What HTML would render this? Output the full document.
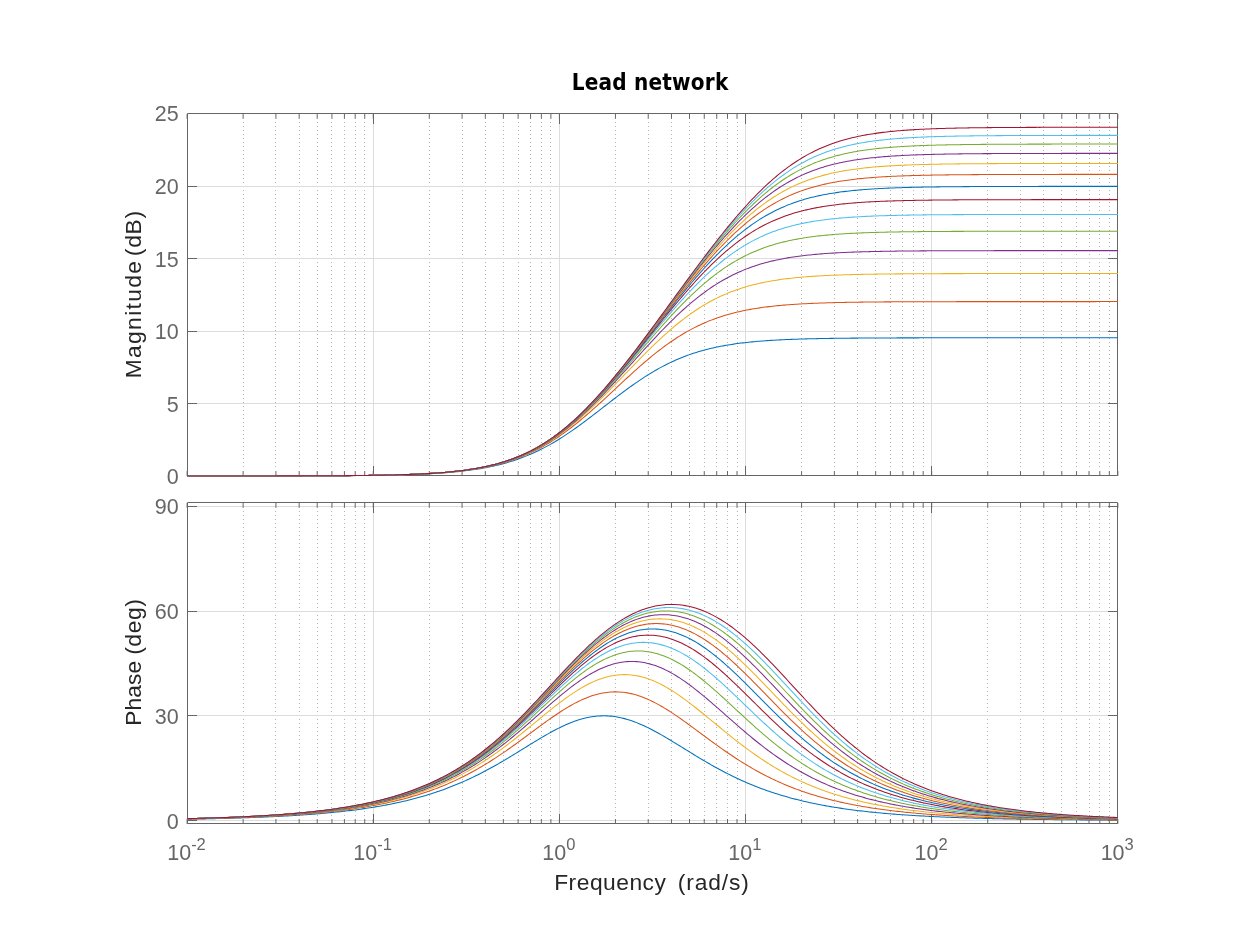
<!DOCTYPE html>
<html lang="en"><head><meta charset="utf-8"><title>Lead network</title>
<style>html,body{margin:0;padding:0;background:#fff;overflow:hidden}svg{display:block}</style></head>
<body>
<svg width="1235" height="926" viewBox="0 0 1235 926" font-family="'Liberation Sans', sans-serif">
<rect width="1235" height="926" fill="#ffffff"/>
<defs>
<clipPath id="ct"><rect x="187.1" y="113.35" width="931.25" height="363.4"/></clipPath>
<clipPath id="cb"><rect x="187.1" y="502.35" width="931.25" height="322.4"/></clipPath>
</defs>
<path d="M243.5 122V470M275.5 122V470M299.5 122V470M317.5 122V470M331.5 122V470M344.5 122V470M355.5 122V470M364.5 122V470M429.5 122V470M462.5 122V470M485.5 122V470M503.5 122V470M518.5 122V470M530.5 122V470M541.5 122V470M550.5 122V470M615.5 122V470M648.5 122V470M671.5 122V470M689.5 122V470M704.5 122V470M716.5 122V470M727.5 122V470M737.5 122V470M801.5 122V470M834.5 122V470M857.5 122V470M875.5 122V470M890.5 122V470M902.5 122V470M913.5 122V470M923.5 122V470M987.5 122V470M1020.5 122V470M1043.5 122V470M1061.5 122V470M1076.5 122V470M1089.5 122V470M1099.5 122V470M1109.5 122V470" fill="none" stroke="#b4b4b4" stroke-width="1" stroke-dasharray="1 3"/>
<path d="M373.5 113.5V475.5M559.5 113.5V475.5M745.5 113.5V475.5M931.5 113.5V475.5M187.5 403.5H1117.5M187.5 331.5H1117.5M187.5 258.5H1117.5M187.5 186.5H1117.5" fill="none" stroke="#dcdcdc" stroke-width="1"/>
<path d="M187.1 475.95v-4.9M187.1 113.95v4.9M243.14 475.95v-4.9M243.14 113.95v4.9M275.92 475.95v-4.9M275.92 113.95v4.9M299.17 475.95v-4.9M299.17 113.95v4.9M317.21 475.95v-4.9M317.21 113.95v4.9M331.95 475.95v-4.9M331.95 113.95v4.9M344.42 475.95v-4.9M344.42 113.95v4.9M355.21 475.95v-4.9M355.21 113.95v4.9M364.73 475.95v-4.9M364.73 113.95v4.9M373.25 475.95v-4.9M373.25 113.95v4.9M429.29 475.95v-4.9M429.29 113.95v4.9M462.07 475.95v-4.9M462.07 113.95v4.9M485.32 475.95v-4.9M485.32 113.95v4.9M503.36 475.95v-4.9M503.36 113.95v4.9M518.1 475.95v-4.9M518.1 113.95v4.9M530.57 475.95v-4.9M530.57 113.95v4.9M541.36 475.95v-4.9M541.36 113.95v4.9M550.88 475.95v-4.9M550.88 113.95v4.9M559.4 475.95v-4.9M559.4 113.95v4.9M615.44 475.95v-4.9M615.44 113.95v4.9M648.22 475.95v-4.9M648.22 113.95v4.9M671.47 475.95v-4.9M671.47 113.95v4.9M689.51 475.95v-4.9M689.51 113.95v4.9M704.25 475.95v-4.9M704.25 113.95v4.9M716.72 475.95v-4.9M716.72 113.95v4.9M727.51 475.95v-4.9M727.51 113.95v4.9M737.03 475.95v-4.9M737.03 113.95v4.9M745.55 475.95v-4.9M745.55 113.95v4.9M801.59 475.95v-4.9M801.59 113.95v4.9M834.37 475.95v-4.9M834.37 113.95v4.9M857.62 475.95v-4.9M857.62 113.95v4.9M875.66 475.95v-4.9M875.66 113.95v4.9M890.4 475.95v-4.9M890.4 113.95v4.9M902.87 475.95v-4.9M902.87 113.95v4.9M913.66 475.95v-4.9M913.66 113.95v4.9M923.18 475.95v-4.9M923.18 113.95v4.9M931.7 475.95v-4.9M931.7 113.95v4.9M987.74 475.95v-4.9M987.74 113.95v4.9M1020.52 475.95v-4.9M1020.52 113.95v4.9M1043.77 475.95v-4.9M1043.77 113.95v4.9M1061.81 475.95v-4.9M1061.81 113.95v4.9M1076.55 475.95v-4.9M1076.55 113.95v4.9M1089.02 475.95v-4.9M1089.02 113.95v4.9M1099.81 475.95v-4.9M1099.81 113.95v4.9M1109.33 475.95v-4.9M1109.33 113.95v4.9M1117.85 475.95v-4.9M1117.85 113.95v4.9" fill="none" stroke="#666666" stroke-width="1"/>
<path d="M373.5 475.5V466M373.5 113.5V124M559.5 475.5V466M559.5 113.5V124M745.5 475.5V466M745.5 113.5V124M931.5 475.5V466M931.5 113.5V124M187.5 403.5H197M1117.5 403.5H1108M187.5 331.5H197M1117.5 331.5H1108M187.5 258.5H197M1117.5 258.5H1108M187.5 186.5H197M1117.5 186.5H1108M187.5 113.5H1117.5V475.5H187.5Z" fill="none" stroke="#666666" stroke-width="1"/>
<g clip-path="url(#ct)" fill="none" stroke-width="1.05" stroke-linejoin="round">
<polyline stroke="#0072BD" points="187.1,475.94 188.97,475.94 190.83,475.94 192.7,475.94 194.56,475.94 196.43,475.94 198.29,475.94 200.16,475.94 202.02,475.94 203.89,475.94 205.75,475.94 207.62,475.94 209.48,475.94 211.35,475.94 213.21,475.94 215.08,475.94 216.94,475.94 218.81,475.94 220.67,475.94 222.54,475.94 224.4,475.94 226.27,475.94 228.14,475.93 230,475.93 231.87,475.93 233.73,475.93 235.6,475.93 237.46,475.93 239.33,475.93 241.19,475.93 243.06,475.93 244.92,475.93 246.79,475.93 248.65,475.92 250.52,475.92 252.38,475.92 254.25,475.92 256.11,475.92 257.98,475.92 259.84,475.92 261.71,475.91 263.57,475.91 265.44,475.91 267.3,475.91 269.17,475.91 271.04,475.91 272.9,475.9 274.77,475.9 276.63,475.9 278.5,475.9 280.36,475.89 282.23,475.89 284.09,475.89 285.96,475.89 287.82,475.88 289.69,475.88 291.55,475.88 293.42,475.87 295.28,475.87 297.15,475.87 299.01,475.86 300.88,475.86 302.74,475.85 304.61,475.85 306.47,475.84 308.34,475.84 310.21,475.83 312.07,475.83 313.94,475.82 315.8,475.82 317.67,475.81 319.53,475.8 321.4,475.8 323.26,475.79 325.13,475.78 326.99,475.77 328.86,475.76 330.72,475.76 332.59,475.75 334.45,475.74 336.32,475.73 338.18,475.72 340.05,475.7 341.91,475.69 343.78,475.68 345.64,475.67 347.51,475.66 349.38,475.64 351.24,475.63 353.11,475.61 354.97,475.6 356.84,475.58 358.7,475.56 360.57,475.54 362.43,475.52 364.3,475.5 366.16,475.48 368.03,475.46 369.89,475.44 371.76,475.41 373.62,475.39 375.49,475.36 377.35,475.34 379.22,475.31 381.08,475.28 382.95,475.24 384.81,475.21 386.68,475.18 388.54,475.14 390.41,475.1 392.28,475.06 394.14,475.02 396.01,474.98 397.87,474.93 399.74,474.88 401.6,474.84 403.47,474.78 405.33,474.73 407.2,474.67 409.06,474.61 410.93,474.55 412.79,474.48 414.66,474.42 416.52,474.35 418.39,474.27 420.25,474.19 422.12,474.11 423.98,474.03 425.85,473.94 427.71,473.84 429.58,473.75 431.45,473.65 433.31,473.54 435.18,473.43 437.04,473.31 438.91,473.19 440.77,473.06 442.64,472.93 444.5,472.79 446.37,472.65 448.23,472.5 450.1,472.34 451.96,472.18 453.83,472.01 455.69,471.83 457.56,471.64 459.42,471.45 461.29,471.24 463.15,471.03 465.02,470.81 466.88,470.58 468.75,470.34 470.62,470.09 472.48,469.83 474.35,469.56 476.21,469.28 478.08,468.98 479.94,468.68 481.81,468.36 483.67,468.03 485.54,467.68 487.4,467.33 489.27,466.95 491.13,466.57 493,466.17 494.86,465.75 496.73,465.32 498.59,464.87 500.46,464.4 502.32,463.92 504.19,463.42 506.05,462.9 507.92,462.36 509.78,461.8 511.65,461.23 513.52,460.63 515.38,460.02 517.25,459.38 519.11,458.72 520.98,458.04 522.84,457.34 524.71,456.62 526.57,455.88 528.44,455.11 530.3,454.32 532.17,453.51 534.03,452.67 535.9,451.81 537.76,450.93 539.63,450.02 541.49,449.09 543.36,448.14 545.22,447.16 547.09,446.16 548.95,445.14 550.82,444.09 552.69,443.02 554.55,441.93 556.42,440.82 558.28,439.68 560.15,438.52 562.01,437.34 563.88,436.14 565.74,434.92 567.61,433.68 569.47,432.42 571.34,431.14 573.2,429.85 575.07,428.53 576.93,427.21 578.8,425.86 580.66,424.5 582.53,423.13 584.39,421.75 586.26,420.35 588.12,418.95 589.99,417.53 591.86,416.11 593.72,414.68 595.59,413.24 597.45,411.8 599.32,410.35 601.18,408.91 603.05,407.46 604.91,406 606.78,404.55 608.64,403.11 610.51,401.66 612.37,400.22 614.24,398.78 616.1,397.35 617.97,395.93 619.83,394.52 621.7,393.11 623.56,391.72 625.43,390.34 627.29,388.97 629.16,387.62 631.02,386.28 632.89,384.95 634.76,383.64 636.62,382.35 638.49,381.07 640.35,379.82 642.22,378.58 644.08,377.36 645.95,376.17 647.81,374.99 649.68,373.84 651.54,372.7 653.41,371.59 655.27,370.5 657.14,369.44 659,368.4 660.87,367.38 662.73,366.38 664.6,365.41 666.46,364.46 668.33,363.53 670.19,362.63 672.06,361.75 673.93,360.9 675.79,360.07 677.66,359.26 679.52,358.47 681.39,357.71 683.25,356.97 685.12,356.25 686.98,355.56 688.85,354.88 690.71,354.23 692.58,353.6 694.44,352.98 696.31,352.39 698.17,351.82 700.04,351.27 701.9,350.73 703.77,350.22 705.63,349.72 707.5,349.24 709.36,348.78 711.23,348.33 713.09,347.9 714.96,347.48 716.83,347.09 718.69,346.7 720.56,346.33 722.42,345.98 724.29,345.64 726.15,345.31 728.02,344.99 729.88,344.69 731.75,344.4 733.61,344.11 735.48,343.85 737.34,343.59 739.21,343.34 741.07,343.1 742.94,342.87 744.8,342.65 746.67,342.44 748.53,342.24 750.4,342.05 752.26,341.86 754.13,341.69 756,341.52 757.86,341.35 759.73,341.2 761.59,341.05 763.46,340.91 765.32,340.77 767.19,340.64 769.05,340.51 770.92,340.39 772.78,340.28 774.65,340.17 776.51,340.06 778.38,339.96 780.24,339.86 782.11,339.77 783.97,339.68 785.84,339.6 787.7,339.52 789.57,339.44 791.43,339.37 793.3,339.3 795.17,339.23 797.03,339.16 798.9,339.1 800.76,339.04 802.63,338.99 804.49,338.93 806.36,338.88 808.22,338.83 810.09,338.78 811.95,338.74 813.82,338.7 815.68,338.66 817.55,338.62 819.41,338.58 821.28,338.54 823.14,338.51 825.01,338.48 826.87,338.44 828.74,338.41 830.6,338.39 832.47,338.36 834.33,338.33 836.2,338.31 838.07,338.28 839.93,338.26 841.8,338.24 843.66,338.22 845.53,338.2 847.39,338.18 849.26,338.16 851.12,338.14 852.99,338.13 854.85,338.11 856.72,338.1 858.58,338.08 860.45,338.07 862.31,338.05 864.18,338.04 866.04,338.03 867.91,338.02 869.77,338.01 871.64,338 873.5,337.99 875.37,337.98 877.24,337.97 879.1,337.96 880.97,337.95 882.83,337.94 884.7,337.94 886.56,337.93 888.43,337.92 890.29,337.92 892.16,337.91 894.02,337.9 895.89,337.9 897.75,337.89 899.62,337.89 901.48,337.88 903.35,337.88 905.21,337.87 907.08,337.87 908.94,337.86 910.81,337.86 912.67,337.86 914.54,337.85 916.41,337.85 918.27,337.85 920.14,337.84 922,337.84 923.87,337.84 925.73,337.83 927.6,337.83 929.46,337.83 931.33,337.83 933.19,337.82 935.06,337.82 936.92,337.82 938.79,337.82 940.65,337.82 942.52,337.81 944.38,337.81 946.25,337.81 948.11,337.81 949.98,337.81 951.84,337.81 953.71,337.8 955.57,337.8 957.44,337.8 959.31,337.8 961.17,337.8 963.04,337.8 964.9,337.8 966.77,337.8 968.63,337.8 970.5,337.79 972.36,337.79 974.23,337.79 976.09,337.79 977.96,337.79 979.82,337.79 981.69,337.79 983.55,337.79 985.42,337.79 987.28,337.79 989.15,337.79 991.01,337.79 992.88,337.79 994.74,337.79 996.61,337.79 998.48,337.79 1000.34,337.78 1002.21,337.78 1004.07,337.78 1005.94,337.78 1007.8,337.78 1009.67,337.78 1011.53,337.78 1013.4,337.78 1015.26,337.78 1017.13,337.78 1018.99,337.78 1020.86,337.78 1022.72,337.78 1024.59,337.78 1026.45,337.78 1028.32,337.78 1030.18,337.78 1032.05,337.78 1033.91,337.78 1035.78,337.78 1037.65,337.78 1039.51,337.78 1041.38,337.78 1043.24,337.78 1045.11,337.78 1046.97,337.78 1048.84,337.78 1050.7,337.78 1052.57,337.78 1054.43,337.78 1056.3,337.78 1058.16,337.78 1060.03,337.78 1061.89,337.78 1063.76,337.78 1065.62,337.78 1067.49,337.78 1069.35,337.78 1071.22,337.78 1073.08,337.78 1074.95,337.78 1076.81,337.78 1078.68,337.78 1080.55,337.78 1082.41,337.78 1084.28,337.78 1086.14,337.78 1088.01,337.78 1089.87,337.78 1091.74,337.78 1093.6,337.78 1095.47,337.78 1097.33,337.78 1099.2,337.78 1101.06,337.78 1102.93,337.78 1104.79,337.78 1106.66,337.78 1108.52,337.78 1110.39,337.78 1112.25,337.78 1114.12,337.78 1115.98,337.78 1117.85,337.78"/>
<polyline stroke="#D95319" points="187.1,475.94 188.97,475.94 190.83,475.94 192.7,475.94 194.56,475.94 196.43,475.94 198.29,475.94 200.16,475.94 202.02,475.94 203.89,475.94 205.75,475.94 207.62,475.94 209.48,475.94 211.35,475.94 213.21,475.94 215.08,475.94 216.94,475.94 218.81,475.94 220.67,475.94 222.54,475.94 224.4,475.94 226.27,475.93 228.14,475.93 230,475.93 231.87,475.93 233.73,475.93 235.6,475.93 237.46,475.93 239.33,475.93 241.19,475.93 243.06,475.93 244.92,475.93 246.79,475.92 248.65,475.92 250.52,475.92 252.38,475.92 254.25,475.92 256.11,475.92 257.98,475.92 259.84,475.91 261.71,475.91 263.57,475.91 265.44,475.91 267.3,475.91 269.17,475.91 271.04,475.9 272.9,475.9 274.77,475.9 276.63,475.9 278.5,475.89 280.36,475.89 282.23,475.89 284.09,475.89 285.96,475.88 287.82,475.88 289.69,475.88 291.55,475.87 293.42,475.87 295.28,475.86 297.15,475.86 299.01,475.86 300.88,475.85 302.74,475.85 304.61,475.84 306.47,475.84 308.34,475.83 310.21,475.83 312.07,475.82 313.94,475.81 315.8,475.81 317.67,475.8 319.53,475.79 321.4,475.79 323.26,475.78 325.13,475.77 326.99,475.76 328.86,475.75 330.72,475.74 332.59,475.73 334.45,475.72 336.32,475.71 338.18,475.7 340.05,475.69 341.91,475.68 343.78,475.67 345.64,475.65 347.51,475.64 349.38,475.62 351.24,475.61 353.11,475.59 354.97,475.58 356.84,475.56 358.7,475.54 360.57,475.52 362.43,475.5 364.3,475.48 366.16,475.46 368.03,475.43 369.89,475.41 371.76,475.38 373.62,475.36 375.49,475.33 377.35,475.3 379.22,475.27 381.08,475.24 382.95,475.21 384.81,475.17 386.68,475.13 388.54,475.1 390.41,475.06 392.28,475.01 394.14,474.97 396.01,474.92 397.87,474.88 399.74,474.83 401.6,474.77 403.47,474.72 405.33,474.66 407.2,474.6 409.06,474.54 410.93,474.47 412.79,474.4 414.66,474.33 416.52,474.26 418.39,474.18 420.25,474.1 422.12,474.01 423.98,473.92 425.85,473.83 427.71,473.73 429.58,473.62 431.45,473.52 433.31,473.4 435.18,473.29 437.04,473.16 438.91,473.04 440.77,472.9 442.64,472.76 444.5,472.62 446.37,472.46 448.23,472.3 450.1,472.14 451.96,471.96 453.83,471.78 455.69,471.59 457.56,471.4 459.42,471.19 461.29,470.98 463.15,470.75 465.02,470.52 466.88,470.27 468.75,470.02 470.62,469.75 472.48,469.48 474.35,469.19 476.21,468.89 478.08,468.58 479.94,468.26 481.81,467.92 483.67,467.57 485.54,467.2 487.4,466.82 489.27,466.42 491.13,466.01 493,465.58 494.86,465.14 496.73,464.68 498.59,464.2 500.46,463.7 502.32,463.19 504.19,462.65 506.05,462.1 507.92,461.52 509.78,460.93 511.65,460.31 513.52,459.68 515.38,459.02 517.25,458.33 519.11,457.63 520.98,456.9 522.84,456.15 524.71,455.37 526.57,454.57 528.44,453.74 530.3,452.89 532.17,452.01 534.03,451.11 535.9,450.18 537.76,449.23 539.63,448.24 541.49,447.23 543.36,446.2 545.22,445.13 547.09,444.04 548.95,442.93 550.82,441.78 552.69,440.61 554.55,439.41 556.42,438.19 558.28,436.94 560.15,435.66 562.01,434.36 563.88,433.03 565.74,431.67 567.61,430.29 569.47,428.89 571.34,427.46 573.2,426.01 575.07,424.54 576.93,423.04 578.8,421.53 580.66,419.99 582.53,418.44 584.39,416.86 586.26,415.27 588.12,413.66 589.99,412.03 591.86,410.39 593.72,408.73 595.59,407.07 597.45,405.38 599.32,403.69 601.18,401.99 603.05,400.28 604.91,398.56 606.78,396.84 608.64,395.1 610.51,393.37 612.37,391.63 614.24,389.89 616.1,388.15 617.97,386.41 619.83,384.67 621.7,382.93 623.56,381.2 625.43,379.47 627.29,377.75 629.16,376.04 631.02,374.34 632.89,372.64 634.76,370.96 636.62,369.28 638.49,367.62 640.35,365.98 642.22,364.35 644.08,362.73 645.95,361.14 647.81,359.56 649.68,357.99 651.54,356.45 653.41,354.93 655.27,353.43 657.14,351.95 659,350.49 660.87,349.06 662.73,347.65 664.6,346.26 666.46,344.9 668.33,343.56 670.19,342.25 672.06,340.97 673.93,339.71 675.79,338.48 677.66,337.27 679.52,336.09 681.39,334.94 683.25,333.82 685.12,332.72 686.98,331.65 688.85,330.6 690.71,329.59 692.58,328.6 694.44,327.63 696.31,326.7 698.17,325.78 700.04,324.9 701.9,324.04 703.77,323.21 705.63,322.4 707.5,321.62 709.36,320.86 711.23,320.12 713.09,319.41 714.96,318.72 716.83,318.05 718.69,317.41 720.56,316.79 722.42,316.19 724.29,315.61 726.15,315.05 728.02,314.51 729.88,313.99 731.75,313.48 733.61,313 735.48,312.53 737.34,312.08 739.21,311.65 741.07,311.24 742.94,310.84 744.8,310.45 746.67,310.08 748.53,309.73 750.4,309.38 752.26,309.05 754.13,308.74 756,308.44 757.86,308.15 759.73,307.87 761.59,307.6 763.46,307.34 765.32,307.09 767.19,306.86 769.05,306.63 770.92,306.41 772.78,306.2 774.65,306 776.51,305.81 778.38,305.63 780.24,305.45 782.11,305.29 783.97,305.12 785.84,304.97 787.7,304.82 789.57,304.68 791.43,304.54 793.3,304.42 795.17,304.29 797.03,304.17 798.9,304.06 800.76,303.95 802.63,303.85 804.49,303.75 806.36,303.65 808.22,303.56 810.09,303.47 811.95,303.39 813.82,303.31 815.68,303.23 817.55,303.16 819.41,303.09 821.28,303.02 823.14,302.96 825.01,302.9 826.87,302.84 828.74,302.79 830.6,302.73 832.47,302.68 834.33,302.63 836.2,302.59 838.07,302.54 839.93,302.5 841.8,302.46 843.66,302.42 845.53,302.38 847.39,302.35 849.26,302.31 851.12,302.28 852.99,302.25 854.85,302.22 856.72,302.19 858.58,302.17 860.45,302.14 862.31,302.12 864.18,302.09 866.04,302.07 867.91,302.05 869.77,302.03 871.64,302.01 873.5,301.99 875.37,301.97 877.24,301.96 879.1,301.94 880.97,301.92 882.83,301.91 884.7,301.89 886.56,301.88 888.43,301.87 890.29,301.86 892.16,301.84 894.02,301.83 895.89,301.82 897.75,301.81 899.62,301.8 901.48,301.79 903.35,301.78 905.21,301.77 907.08,301.77 908.94,301.76 910.81,301.75 912.67,301.74 914.54,301.74 916.41,301.73 918.27,301.72 920.14,301.72 922,301.71 923.87,301.71 925.73,301.7 927.6,301.7 929.46,301.69 931.33,301.69 933.19,301.68 935.06,301.68 936.92,301.68 938.79,301.67 940.65,301.67 942.52,301.67 944.38,301.66 946.25,301.66 948.11,301.66 949.98,301.65 951.84,301.65 953.71,301.65 955.57,301.65 957.44,301.64 959.31,301.64 961.17,301.64 963.04,301.64 964.9,301.63 966.77,301.63 968.63,301.63 970.5,301.63 972.36,301.63 974.23,301.63 976.09,301.62 977.96,301.62 979.82,301.62 981.69,301.62 983.55,301.62 985.42,301.62 987.28,301.62 989.15,301.62 991.01,301.62 992.88,301.61 994.74,301.61 996.61,301.61 998.48,301.61 1000.34,301.61 1002.21,301.61 1004.07,301.61 1005.94,301.61 1007.8,301.61 1009.67,301.61 1011.53,301.61 1013.4,301.61 1015.26,301.61 1017.13,301.6 1018.99,301.6 1020.86,301.6 1022.72,301.6 1024.59,301.6 1026.45,301.6 1028.32,301.6 1030.18,301.6 1032.05,301.6 1033.91,301.6 1035.78,301.6 1037.65,301.6 1039.51,301.6 1041.38,301.6 1043.24,301.6 1045.11,301.6 1046.97,301.6 1048.84,301.6 1050.7,301.6 1052.57,301.6 1054.43,301.6 1056.3,301.6 1058.16,301.6 1060.03,301.6 1061.89,301.6 1063.76,301.6 1065.62,301.6 1067.49,301.6 1069.35,301.6 1071.22,301.6 1073.08,301.6 1074.95,301.6 1076.81,301.6 1078.68,301.6 1080.55,301.6 1082.41,301.6 1084.28,301.6 1086.14,301.6 1088.01,301.6 1089.87,301.6 1091.74,301.6 1093.6,301.6 1095.47,301.6 1097.33,301.59 1099.2,301.59 1101.06,301.59 1102.93,301.59 1104.79,301.59 1106.66,301.59 1108.52,301.59 1110.39,301.59 1112.25,301.59 1114.12,301.59 1115.98,301.59 1117.85,301.59"/>
<polyline stroke="#EDB120" points="187.1,475.94 188.97,475.94 190.83,475.94 192.7,475.94 194.56,475.94 196.43,475.94 198.29,475.94 200.16,475.94 202.02,475.94 203.89,475.94 205.75,475.94 207.62,475.94 209.48,475.94 211.35,475.94 213.21,475.94 215.08,475.94 216.94,475.94 218.81,475.94 220.67,475.94 222.54,475.94 224.4,475.93 226.27,475.93 228.14,475.93 230,475.93 231.87,475.93 233.73,475.93 235.6,475.93 237.46,475.93 239.33,475.93 241.19,475.93 243.06,475.93 244.92,475.92 246.79,475.92 248.65,475.92 250.52,475.92 252.38,475.92 254.25,475.92 256.11,475.92 257.98,475.92 259.84,475.91 261.71,475.91 263.57,475.91 265.44,475.91 267.3,475.91 269.17,475.9 271.04,475.9 272.9,475.9 274.77,475.9 276.63,475.89 278.5,475.89 280.36,475.89 282.23,475.89 284.09,475.88 285.96,475.88 287.82,475.88 289.69,475.87 291.55,475.87 293.42,475.87 295.28,475.86 297.15,475.86 299.01,475.85 300.88,475.85 302.74,475.84 304.61,475.84 306.47,475.83 308.34,475.83 310.21,475.82 312.07,475.82 313.94,475.81 315.8,475.8 317.67,475.8 319.53,475.79 321.4,475.78 323.26,475.77 325.13,475.77 326.99,475.76 328.86,475.75 330.72,475.74 332.59,475.73 334.45,475.72 336.32,475.71 338.18,475.7 340.05,475.69 341.91,475.67 343.78,475.66 345.64,475.65 347.51,475.63 349.38,475.62 351.24,475.6 353.11,475.58 354.97,475.57 356.84,475.55 358.7,475.53 360.57,475.51 362.43,475.49 364.3,475.47 366.16,475.45 368.03,475.42 369.89,475.4 371.76,475.37 373.62,475.34 375.49,475.32 377.35,475.29 379.22,475.25 381.08,475.22 382.95,475.19 384.81,475.15 386.68,475.11 388.54,475.08 390.41,475.03 392.28,474.99 394.14,474.95 396.01,474.9 397.87,474.85 399.74,474.8 401.6,474.75 403.47,474.69 405.33,474.63 407.2,474.57 409.06,474.5 410.93,474.44 412.79,474.37 414.66,474.29 416.52,474.22 418.39,474.13 420.25,474.05 422.12,473.96 423.98,473.87 425.85,473.77 427.71,473.67 429.58,473.57 431.45,473.46 433.31,473.34 435.18,473.22 437.04,473.1 438.91,472.96 440.77,472.83 442.64,472.68 444.5,472.53 446.37,472.38 448.23,472.21 450.1,472.04 451.96,471.87 453.83,471.68 455.69,471.49 457.56,471.28 459.42,471.07 461.29,470.85 463.15,470.62 465.02,470.38 466.88,470.13 468.75,469.87 470.62,469.6 472.48,469.32 474.35,469.02 476.21,468.71 478.08,468.39 479.94,468.06 481.81,467.71 483.67,467.35 485.54,466.97 487.4,466.58 489.27,466.18 491.13,465.75 493,465.31 494.86,464.86 496.73,464.38 498.59,463.89 500.46,463.38 502.32,462.85 504.19,462.3 506.05,461.73 507.92,461.13 509.78,460.52 511.65,459.89 513.52,459.23 515.38,458.55 517.25,457.84 519.11,457.12 520.98,456.36 522.84,455.59 524.71,454.78 526.57,453.96 528.44,453.1 530.3,452.22 532.17,451.31 534.03,450.38 535.9,449.41 537.76,448.42 539.63,447.4 541.49,446.35 543.36,445.28 545.22,444.17 547.09,443.04 548.95,441.88 550.82,440.68 552.69,439.46 554.55,438.21 556.42,436.93 558.28,435.63 560.15,434.29 562.01,432.92 563.88,431.53 565.74,430.11 567.61,428.66 569.47,427.19 571.34,425.68 573.2,424.16 575.07,422.6 576.93,421.02 578.8,419.42 580.66,417.79 582.53,416.14 584.39,414.46 586.26,412.77 588.12,411.05 589.99,409.31 591.86,407.56 593.72,405.78 595.59,403.99 597.45,402.18 599.32,400.35 601.18,398.51 603.05,396.66 604.91,394.79 606.78,392.91 608.64,391.03 610.51,389.13 612.37,387.22 614.24,385.31 616.1,383.39 617.97,381.46 619.83,379.53 621.7,377.6 623.56,375.66 625.43,373.73 627.29,371.8 629.16,369.86 631.02,367.94 632.89,366.01 634.76,364.09 636.62,362.18 638.49,360.27 640.35,358.37 642.22,356.48 644.08,354.61 645.95,352.74 647.81,350.89 649.68,349.05 651.54,347.22 653.41,345.41 655.27,343.62 657.14,341.85 659,340.09 660.87,338.35 662.73,336.64 664.6,334.94 666.46,333.27 668.33,331.62 670.19,329.99 672.06,328.39 673.93,326.81 675.79,325.26 677.66,323.73 679.52,322.23 681.39,320.75 683.25,319.31 685.12,317.89 686.98,316.49 688.85,315.13 690.71,313.8 692.58,312.49 694.44,311.21 696.31,309.96 698.17,308.74 700.04,307.55 701.9,306.39 703.77,305.26 705.63,304.15 707.5,303.08 709.36,302.03 711.23,301.01 713.09,300.02 714.96,299.06 716.83,298.13 718.69,297.22 720.56,296.34 722.42,295.49 724.29,294.66 726.15,293.86 728.02,293.08 729.88,292.33 731.75,291.6 733.61,290.9 735.48,290.22 737.34,289.56 739.21,288.93 741.07,288.32 742.94,287.73 744.8,287.16 746.67,286.61 748.53,286.08 750.4,285.57 752.26,285.08 754.13,284.6 756,284.15 757.86,283.71 759.73,283.28 761.59,282.88 763.46,282.49 765.32,282.11 767.19,281.75 769.05,281.41 770.92,281.07 772.78,280.75 774.65,280.45 776.51,280.15 778.38,279.87 780.24,279.6 782.11,279.34 783.97,279.09 785.84,278.85 787.7,278.62 789.57,278.4 791.43,278.19 793.3,277.98 795.17,277.79 797.03,277.6 798.9,277.43 800.76,277.26 802.63,277.09 804.49,276.94 806.36,276.79 808.22,276.64 810.09,276.51 811.95,276.38 813.82,276.25 815.68,276.13 817.55,276.02 819.41,275.91 821.28,275.8 823.14,275.7 825.01,275.6 826.87,275.51 828.74,275.42 830.6,275.34 832.47,275.26 834.33,275.18 836.2,275.11 838.07,275.04 839.93,274.97 841.8,274.91 843.66,274.85 845.53,274.79 847.39,274.73 849.26,274.68 851.12,274.63 852.99,274.58 854.85,274.53 856.72,274.49 858.58,274.44 860.45,274.4 862.31,274.36 864.18,274.32 866.04,274.29 867.91,274.26 869.77,274.22 871.64,274.19 873.5,274.16 875.37,274.13 877.24,274.11 879.1,274.08 880.97,274.06 882.83,274.03 884.7,274.01 886.56,273.99 888.43,273.97 890.29,273.95 892.16,273.93 894.02,273.91 895.89,273.89 897.75,273.88 899.62,273.86 901.48,273.85 903.35,273.83 905.21,273.82 907.08,273.81 908.94,273.79 910.81,273.78 912.67,273.77 914.54,273.76 916.41,273.75 918.27,273.74 920.14,273.73 922,273.72 923.87,273.71 925.73,273.7 927.6,273.7 929.46,273.69 931.33,273.68 933.19,273.67 935.06,273.67 936.92,273.66 938.79,273.65 940.65,273.65 942.52,273.64 944.38,273.64 946.25,273.63 948.11,273.63 949.98,273.62 951.84,273.62 953.71,273.62 955.57,273.61 957.44,273.61 959.31,273.6 961.17,273.6 963.04,273.6 964.9,273.59 966.77,273.59 968.63,273.59 970.5,273.59 972.36,273.58 974.23,273.58 976.09,273.58 977.96,273.58 979.82,273.57 981.69,273.57 983.55,273.57 985.42,273.57 987.28,273.57 989.15,273.56 991.01,273.56 992.88,273.56 994.74,273.56 996.61,273.56 998.48,273.56 1000.34,273.56 1002.21,273.55 1004.07,273.55 1005.94,273.55 1007.8,273.55 1009.67,273.55 1011.53,273.55 1013.4,273.55 1015.26,273.55 1017.13,273.55 1018.99,273.55 1020.86,273.54 1022.72,273.54 1024.59,273.54 1026.45,273.54 1028.32,273.54 1030.18,273.54 1032.05,273.54 1033.91,273.54 1035.78,273.54 1037.65,273.54 1039.51,273.54 1041.38,273.54 1043.24,273.54 1045.11,273.54 1046.97,273.54 1048.84,273.54 1050.7,273.54 1052.57,273.54 1054.43,273.54 1056.3,273.54 1058.16,273.53 1060.03,273.53 1061.89,273.53 1063.76,273.53 1065.62,273.53 1067.49,273.53 1069.35,273.53 1071.22,273.53 1073.08,273.53 1074.95,273.53 1076.81,273.53 1078.68,273.53 1080.55,273.53 1082.41,273.53 1084.28,273.53 1086.14,273.53 1088.01,273.53 1089.87,273.53 1091.74,273.53 1093.6,273.53 1095.47,273.53 1097.33,273.53 1099.2,273.53 1101.06,273.53 1102.93,273.53 1104.79,273.53 1106.66,273.53 1108.52,273.53 1110.39,273.53 1112.25,273.53 1114.12,273.53 1115.98,273.53 1117.85,273.53"/>
<polyline stroke="#7E2F8E" points="187.1,475.94 188.97,475.94 190.83,475.94 192.7,475.94 194.56,475.94 196.43,475.94 198.29,475.94 200.16,475.94 202.02,475.94 203.89,475.94 205.75,475.94 207.62,475.94 209.48,475.94 211.35,475.94 213.21,475.94 215.08,475.94 216.94,475.94 218.81,475.94 220.67,475.94 222.54,475.94 224.4,475.93 226.27,475.93 228.14,475.93 230,475.93 231.87,475.93 233.73,475.93 235.6,475.93 237.46,475.93 239.33,475.93 241.19,475.93 243.06,475.93 244.92,475.92 246.79,475.92 248.65,475.92 250.52,475.92 252.38,475.92 254.25,475.92 256.11,475.92 257.98,475.91 259.84,475.91 261.71,475.91 263.57,475.91 265.44,475.91 267.3,475.91 269.17,475.9 271.04,475.9 272.9,475.9 274.77,475.9 276.63,475.89 278.5,475.89 280.36,475.89 282.23,475.89 284.09,475.88 285.96,475.88 287.82,475.88 289.69,475.87 291.55,475.87 293.42,475.87 295.28,475.86 297.15,475.86 299.01,475.85 300.88,475.85 302.74,475.84 304.61,475.84 306.47,475.83 308.34,475.83 310.21,475.82 312.07,475.82 313.94,475.81 315.8,475.8 317.67,475.8 319.53,475.79 321.4,475.78 323.26,475.77 325.13,475.76 326.99,475.76 328.86,475.75 330.72,475.74 332.59,475.73 334.45,475.72 336.32,475.71 338.18,475.69 340.05,475.68 341.91,475.67 343.78,475.66 345.64,475.64 347.51,475.63 349.38,475.61 351.24,475.6 353.11,475.58 354.97,475.56 356.84,475.54 358.7,475.52 360.57,475.5 362.43,475.48 364.3,475.46 366.16,475.44 368.03,475.42 369.89,475.39 371.76,475.36 373.62,475.34 375.49,475.31 377.35,475.28 379.22,475.25 381.08,475.21 382.95,475.18 384.81,475.14 386.68,475.1 388.54,475.06 390.41,475.02 392.28,474.98 394.14,474.93 396.01,474.89 397.87,474.84 399.74,474.78 401.6,474.73 403.47,474.67 405.33,474.61 407.2,474.55 409.06,474.49 410.93,474.42 412.79,474.35 414.66,474.27 416.52,474.19 418.39,474.11 420.25,474.03 422.12,473.94 423.98,473.84 425.85,473.75 427.71,473.64 429.58,473.54 431.45,473.42 433.31,473.31 435.18,473.19 437.04,473.06 438.91,472.93 440.77,472.79 442.64,472.64 444.5,472.49 446.37,472.33 448.23,472.17 450.1,471.99 451.96,471.81 453.83,471.62 455.69,471.43 457.56,471.22 459.42,471.01 461.29,470.78 463.15,470.55 465.02,470.31 466.88,470.05 468.75,469.79 470.62,469.51 472.48,469.23 474.35,468.93 476.21,468.61 478.08,468.29 479.94,467.95 481.81,467.6 483.67,467.23 485.54,466.85 487.4,466.45 489.27,466.04 491.13,465.61 493,465.17 494.86,464.7 496.73,464.22 498.59,463.72 500.46,463.2 502.32,462.66 504.19,462.1 506.05,461.52 507.92,460.92 509.78,460.3 511.65,459.65 513.52,458.98 515.38,458.29 517.25,457.58 519.11,456.84 520.98,456.07 522.84,455.28 524.71,454.46 526.57,453.62 528.44,452.75 530.3,451.85 532.17,450.93 534.03,449.97 535.9,448.99 537.76,447.98 539.63,446.94 541.49,445.87 543.36,444.77 545.22,443.64 547.09,442.49 548.95,441.3 550.82,440.08 552.69,438.83 554.55,437.55 556.42,436.24 558.28,434.9 560.15,433.53 562.01,432.13 563.88,430.7 565.74,429.25 567.61,427.76 569.47,426.24 571.34,424.7 573.2,423.12 575.07,421.52 576.93,419.89 578.8,418.24 580.66,416.56 582.53,414.85 584.39,413.12 586.26,411.37 588.12,409.59 589.99,407.78 591.86,405.96 593.72,404.12 595.59,402.25 597.45,400.37 599.32,398.46 601.18,396.54 603.05,394.6 604.91,392.65 606.78,390.68 608.64,388.69 610.51,386.7 612.37,384.69 614.24,382.67 616.1,380.64 617.97,378.6 619.83,376.55 621.7,374.5 623.56,372.44 625.43,370.38 627.29,368.31 629.16,366.24 631.02,364.16 632.89,362.09 634.76,360.02 636.62,357.95 638.49,355.88 640.35,353.82 642.22,351.76 644.08,349.71 645.95,347.66 647.81,345.62 649.68,343.59 651.54,341.58 653.41,339.57 655.27,337.57 657.14,335.59 659,333.62 660.87,331.67 662.73,329.74 664.6,327.82 666.46,325.92 668.33,324.03 670.19,322.17 672.06,320.33 673.93,318.51 675.79,316.71 677.66,314.93 679.52,313.18 681.39,311.45 683.25,309.75 685.12,308.07 686.98,306.42 688.85,304.8 690.71,303.2 692.58,301.63 694.44,300.09 696.31,298.58 698.17,297.1 700.04,295.64 701.9,294.22 703.77,292.82 705.63,291.46 707.5,290.12 709.36,288.82 711.23,287.54 713.09,286.3 714.96,285.08 716.83,283.9 718.69,282.74 720.56,281.62 722.42,280.52 724.29,279.46 726.15,278.42 728.02,277.42 729.88,276.44 731.75,275.49 733.61,274.57 735.48,273.67 737.34,272.81 739.21,271.97 741.07,271.16 742.94,270.37 744.8,269.61 746.67,268.87 748.53,268.16 750.4,267.47 752.26,266.8 754.13,266.16 756,265.54 757.86,264.94 759.73,264.37 761.59,263.81 763.46,263.27 765.32,262.76 767.19,262.26 769.05,261.78 770.92,261.32 772.78,260.87 774.65,260.45 776.51,260.04 778.38,259.64 780.24,259.26 782.11,258.9 783.97,258.55 785.84,258.21 787.7,257.89 789.57,257.58 791.43,257.28 793.3,256.99 795.17,256.72 797.03,256.46 798.9,256.21 800.76,255.96 802.63,255.73 804.49,255.51 806.36,255.3 808.22,255.09 810.09,254.9 811.95,254.71 813.82,254.53 815.68,254.36 817.55,254.19 819.41,254.04 821.28,253.89 823.14,253.74 825.01,253.6 826.87,253.47 828.74,253.34 830.6,253.22 832.47,253.11 834.33,253 836.2,252.89 838.07,252.79 839.93,252.69 841.8,252.6 843.66,252.51 845.53,252.42 847.39,252.34 849.26,252.27 851.12,252.19 852.99,252.12 854.85,252.05 856.72,251.99 858.58,251.93 860.45,251.87 862.31,251.81 864.18,251.76 866.04,251.7 867.91,251.65 869.77,251.61 871.64,251.56 873.5,251.52 875.37,251.48 877.24,251.44 879.1,251.4 880.97,251.36 882.83,251.33 884.7,251.3 886.56,251.27 888.43,251.24 890.29,251.21 892.16,251.18 894.02,251.15 895.89,251.13 897.75,251.1 899.62,251.08 901.48,251.06 903.35,251.04 905.21,251.02 907.08,251 908.94,250.98 910.81,250.97 912.67,250.95 914.54,250.93 916.41,250.92 918.27,250.9 920.14,250.89 922,250.88 923.87,250.86 925.73,250.85 927.6,250.84 929.46,250.83 931.33,250.82 933.19,250.81 935.06,250.8 936.92,250.79 938.79,250.78 940.65,250.77 942.52,250.77 944.38,250.76 946.25,250.75 948.11,250.74 949.98,250.74 951.84,250.73 953.71,250.72 955.57,250.72 957.44,250.71 959.31,250.71 961.17,250.7 963.04,250.7 964.9,250.69 966.77,250.69 968.63,250.69 970.5,250.68 972.36,250.68 974.23,250.67 976.09,250.67 977.96,250.67 979.82,250.66 981.69,250.66 983.55,250.66 985.42,250.66 987.28,250.65 989.15,250.65 991.01,250.65 992.88,250.65 994.74,250.64 996.61,250.64 998.48,250.64 1000.34,250.64 1002.21,250.64 1004.07,250.63 1005.94,250.63 1007.8,250.63 1009.67,250.63 1011.53,250.63 1013.4,250.63 1015.26,250.63 1017.13,250.62 1018.99,250.62 1020.86,250.62 1022.72,250.62 1024.59,250.62 1026.45,250.62 1028.32,250.62 1030.18,250.62 1032.05,250.62 1033.91,250.61 1035.78,250.61 1037.65,250.61 1039.51,250.61 1041.38,250.61 1043.24,250.61 1045.11,250.61 1046.97,250.61 1048.84,250.61 1050.7,250.61 1052.57,250.61 1054.43,250.61 1056.3,250.61 1058.16,250.61 1060.03,250.61 1061.89,250.61 1063.76,250.61 1065.62,250.61 1067.49,250.61 1069.35,250.6 1071.22,250.6 1073.08,250.6 1074.95,250.6 1076.81,250.6 1078.68,250.6 1080.55,250.6 1082.41,250.6 1084.28,250.6 1086.14,250.6 1088.01,250.6 1089.87,250.6 1091.74,250.6 1093.6,250.6 1095.47,250.6 1097.33,250.6 1099.2,250.6 1101.06,250.6 1102.93,250.6 1104.79,250.6 1106.66,250.6 1108.52,250.6 1110.39,250.6 1112.25,250.6 1114.12,250.6 1115.98,250.6 1117.85,250.6"/>
<polyline stroke="#77AC30" points="187.1,475.94 188.97,475.94 190.83,475.94 192.7,475.94 194.56,475.94 196.43,475.94 198.29,475.94 200.16,475.94 202.02,475.94 203.89,475.94 205.75,475.94 207.62,475.94 209.48,475.94 211.35,475.94 213.21,475.94 215.08,475.94 216.94,475.94 218.81,475.94 220.67,475.94 222.54,475.94 224.4,475.93 226.27,475.93 228.14,475.93 230,475.93 231.87,475.93 233.73,475.93 235.6,475.93 237.46,475.93 239.33,475.93 241.19,475.93 243.06,475.93 244.92,475.92 246.79,475.92 248.65,475.92 250.52,475.92 252.38,475.92 254.25,475.92 256.11,475.92 257.98,475.91 259.84,475.91 261.71,475.91 263.57,475.91 265.44,475.91 267.3,475.91 269.17,475.9 271.04,475.9 272.9,475.9 274.77,475.9 276.63,475.89 278.5,475.89 280.36,475.89 282.23,475.89 284.09,475.88 285.96,475.88 287.82,475.88 289.69,475.87 291.55,475.87 293.42,475.86 295.28,475.86 297.15,475.86 299.01,475.85 300.88,475.85 302.74,475.84 304.61,475.84 306.47,475.83 308.34,475.83 310.21,475.82 312.07,475.81 313.94,475.81 315.8,475.8 317.67,475.79 319.53,475.79 321.4,475.78 323.26,475.77 325.13,475.76 326.99,475.75 328.86,475.74 330.72,475.74 332.59,475.73 334.45,475.71 336.32,475.7 338.18,475.69 340.05,475.68 341.91,475.67 343.78,475.65 345.64,475.64 347.51,475.63 349.38,475.61 351.24,475.59 353.11,475.58 354.97,475.56 356.84,475.54 358.7,475.52 360.57,475.5 362.43,475.48 364.3,475.46 366.16,475.44 368.03,475.41 369.89,475.39 371.76,475.36 373.62,475.33 375.49,475.3 377.35,475.27 379.22,475.24 381.08,475.21 382.95,475.17 384.81,475.14 386.68,475.1 388.54,475.06 390.41,475.02 392.28,474.97 394.14,474.93 396.01,474.88 397.87,474.83 399.74,474.78 401.6,474.72 403.47,474.66 405.33,474.6 407.2,474.54 409.06,474.47 410.93,474.41 412.79,474.33 414.66,474.26 416.52,474.18 418.39,474.1 420.25,474.01 422.12,473.92 423.98,473.83 425.85,473.73 427.71,473.63 429.58,473.52 431.45,473.41 433.31,473.29 435.18,473.16 437.04,473.04 438.91,472.9 440.77,472.76 442.64,472.62 444.5,472.46 446.37,472.3 448.23,472.14 450.1,471.96 451.96,471.78 453.83,471.59 455.69,471.39 457.56,471.18 459.42,470.97 461.29,470.74 463.15,470.51 465.02,470.26 466.88,470.01 468.75,469.74 470.62,469.46 472.48,469.17 474.35,468.87 476.21,468.56 478.08,468.23 479.94,467.89 481.81,467.53 483.67,467.16 485.54,466.78 487.4,466.38 489.27,465.96 491.13,465.53 493,465.08 494.86,464.61 496.73,464.12 498.59,463.62 500.46,463.09 502.32,462.55 504.19,461.98 506.05,461.4 507.92,460.79 509.78,460.16 511.65,459.51 513.52,458.84 515.38,458.14 517.25,457.41 519.11,456.67 520.98,455.89 522.84,455.09 524.71,454.27 526.57,453.42 528.44,452.54 530.3,451.63 532.17,450.69 534.03,449.73 535.9,448.74 537.76,447.71 539.63,446.66 541.49,445.58 543.36,444.47 545.22,443.32 547.09,442.15 548.95,440.95 550.82,439.71 552.69,438.45 554.55,437.15 556.42,435.82 558.28,434.46 560.15,433.07 562.01,431.65 563.88,430.2 565.74,428.72 567.61,427.21 569.47,425.66 571.34,424.09 573.2,422.49 575.07,420.86 576.93,419.2 578.8,417.52 580.66,415.81 582.53,414.06 584.39,412.3 586.26,410.51 588.12,408.69 589.99,406.85 591.86,404.98 593.72,403.09 595.59,401.18 597.45,399.25 599.32,397.29 601.18,395.32 603.05,393.33 604.91,391.32 606.78,389.29 608.64,387.24 610.51,385.19 612.37,383.11 614.24,381.02 616.1,378.92 617.97,376.81 619.83,374.69 621.7,372.55 623.56,370.41 625.43,368.26 627.29,366.11 629.16,363.94 631.02,361.78 632.89,359.61 634.76,357.43 636.62,355.26 638.49,353.08 640.35,350.9 642.22,348.73 644.08,346.56 645.95,344.39 647.81,342.22 649.68,340.06 651.54,337.91 653.41,335.76 655.27,333.63 657.14,331.5 659,329.38 660.87,327.27 662.73,325.18 664.6,323.09 666.46,321.03 668.33,318.97 670.19,316.94 672.06,314.92 673.93,312.91 675.79,310.93 677.66,308.97 679.52,307.02 681.39,305.1 683.25,303.2 685.12,301.32 686.98,299.47 688.85,297.63 690.71,295.83 692.58,294.05 694.44,292.29 696.31,290.56 698.17,288.86 700.04,287.19 701.9,285.54 703.77,283.93 705.63,282.34 707.5,280.78 709.36,279.26 711.23,277.76 713.09,276.29 714.96,274.85 716.83,273.45 718.69,272.07 720.56,270.73 722.42,269.41 724.29,268.13 726.15,266.88 728.02,265.66 729.88,264.47 731.75,263.31 733.61,262.18 735.48,261.08 737.34,260.01 739.21,258.97 741.07,257.96 742.94,256.98 744.8,256.03 746.67,255.11 748.53,254.22 750.4,253.35 752.26,252.51 754.13,251.7 756,250.91 757.86,250.15 759.73,249.41 761.59,248.7 763.46,248.01 765.32,247.35 767.19,246.7 769.05,246.09 770.92,245.49 772.78,244.91 774.65,244.36 776.51,243.82 778.38,243.31 780.24,242.81 782.11,242.33 783.97,241.87 785.84,241.43 787.7,241.01 789.57,240.6 791.43,240.2 793.3,239.83 795.17,239.46 797.03,239.11 798.9,238.78 800.76,238.46 802.63,238.15 804.49,237.85 806.36,237.57 808.22,237.3 810.09,237.03 811.95,236.78 813.82,236.54 815.68,236.31 817.55,236.09 819.41,235.88 821.28,235.68 823.14,235.48 825.01,235.3 826.87,235.12 828.74,234.95 830.6,234.78 832.47,234.63 834.33,234.48 836.2,234.33 838.07,234.2 839.93,234.06 841.8,233.94 843.66,233.82 845.53,233.7 847.39,233.59 849.26,233.49 851.12,233.39 852.99,233.29 854.85,233.2 856.72,233.11 858.58,233.02 860.45,232.94 862.31,232.87 864.18,232.79 866.04,232.72 867.91,232.65 869.77,232.59 871.64,232.53 873.5,232.47 875.37,232.41 877.24,232.36 879.1,232.31 880.97,232.26 882.83,232.21 884.7,232.17 886.56,232.12 888.43,232.08 890.29,232.04 892.16,232.01 894.02,231.97 895.89,231.94 897.75,231.9 899.62,231.87 901.48,231.84 903.35,231.82 905.21,231.79 907.08,231.76 908.94,231.74 910.81,231.71 912.67,231.69 914.54,231.67 916.41,231.65 918.27,231.63 920.14,231.61 922,231.59 923.87,231.57 925.73,231.56 927.6,231.54 929.46,231.53 931.33,231.51 933.19,231.5 935.06,231.49 936.92,231.47 938.79,231.46 940.65,231.45 942.52,231.44 944.38,231.43 946.25,231.42 948.11,231.41 949.98,231.4 951.84,231.39 953.71,231.38 955.57,231.38 957.44,231.37 959.31,231.36 961.17,231.36 963.04,231.35 964.9,231.34 966.77,231.34 968.63,231.33 970.5,231.33 972.36,231.32 974.23,231.31 976.09,231.31 977.96,231.31 979.82,231.3 981.69,231.3 983.55,231.29 985.42,231.29 987.28,231.29 989.15,231.28 991.01,231.28 992.88,231.28 994.74,231.27 996.61,231.27 998.48,231.27 1000.34,231.26 1002.21,231.26 1004.07,231.26 1005.94,231.26 1007.8,231.26 1009.67,231.25 1011.53,231.25 1013.4,231.25 1015.26,231.25 1017.13,231.25 1018.99,231.24 1020.86,231.24 1022.72,231.24 1024.59,231.24 1026.45,231.24 1028.32,231.24 1030.18,231.24 1032.05,231.23 1033.91,231.23 1035.78,231.23 1037.65,231.23 1039.51,231.23 1041.38,231.23 1043.24,231.23 1045.11,231.23 1046.97,231.23 1048.84,231.23 1050.7,231.23 1052.57,231.22 1054.43,231.22 1056.3,231.22 1058.16,231.22 1060.03,231.22 1061.89,231.22 1063.76,231.22 1065.62,231.22 1067.49,231.22 1069.35,231.22 1071.22,231.22 1073.08,231.22 1074.95,231.22 1076.81,231.22 1078.68,231.22 1080.55,231.22 1082.41,231.22 1084.28,231.22 1086.14,231.22 1088.01,231.22 1089.87,231.22 1091.74,231.22 1093.6,231.22 1095.47,231.21 1097.33,231.21 1099.2,231.21 1101.06,231.21 1102.93,231.21 1104.79,231.21 1106.66,231.21 1108.52,231.21 1110.39,231.21 1112.25,231.21 1114.12,231.21 1115.98,231.21 1117.85,231.21"/>
<polyline stroke="#4DBEEE" points="187.1,475.94 188.97,475.94 190.83,475.94 192.7,475.94 194.56,475.94 196.43,475.94 198.29,475.94 200.16,475.94 202.02,475.94 203.89,475.94 205.75,475.94 207.62,475.94 209.48,475.94 211.35,475.94 213.21,475.94 215.08,475.94 216.94,475.94 218.81,475.94 220.67,475.94 222.54,475.94 224.4,475.93 226.27,475.93 228.14,475.93 230,475.93 231.87,475.93 233.73,475.93 235.6,475.93 237.46,475.93 239.33,475.93 241.19,475.93 243.06,475.93 244.92,475.92 246.79,475.92 248.65,475.92 250.52,475.92 252.38,475.92 254.25,475.92 256.11,475.92 257.98,475.91 259.84,475.91 261.71,475.91 263.57,475.91 265.44,475.91 267.3,475.9 269.17,475.9 271.04,475.9 272.9,475.9 274.77,475.9 276.63,475.89 278.5,475.89 280.36,475.89 282.23,475.88 284.09,475.88 285.96,475.88 287.82,475.88 289.69,475.87 291.55,475.87 293.42,475.86 295.28,475.86 297.15,475.86 299.01,475.85 300.88,475.85 302.74,475.84 304.61,475.84 306.47,475.83 308.34,475.83 310.21,475.82 312.07,475.81 313.94,475.81 315.8,475.8 317.67,475.79 319.53,475.79 321.4,475.78 323.26,475.77 325.13,475.76 326.99,475.75 328.86,475.74 330.72,475.73 332.59,475.72 334.45,475.71 336.32,475.7 338.18,475.69 340.05,475.68 341.91,475.67 343.78,475.65 345.64,475.64 347.51,475.62 349.38,475.61 351.24,475.59 353.11,475.58 354.97,475.56 356.84,475.54 358.7,475.52 360.57,475.5 362.43,475.48 364.3,475.46 366.16,475.43 368.03,475.41 369.89,475.38 371.76,475.36 373.62,475.33 375.49,475.3 377.35,475.27 379.22,475.24 381.08,475.2 382.95,475.17 384.81,475.13 386.68,475.09 388.54,475.05 390.41,475.01 392.28,474.97 394.14,474.92 396.01,474.87 397.87,474.82 399.74,474.77 401.6,474.71 403.47,474.66 405.33,474.6 407.2,474.53 409.06,474.47 410.93,474.4 412.79,474.33 414.66,474.25 416.52,474.17 418.39,474.09 420.25,474 422.12,473.91 423.98,473.82 425.85,473.72 427.71,473.61 429.58,473.51 431.45,473.39 433.31,473.27 435.18,473.15 437.04,473.02 438.91,472.89 440.77,472.75 442.64,472.6 444.5,472.44 446.37,472.28 448.23,472.12 450.1,471.94 451.96,471.76 453.83,471.57 455.69,471.37 457.56,471.16 459.42,470.94 461.29,470.72 463.15,470.48 465.02,470.23 466.88,469.98 468.75,469.71 470.62,469.43 472.48,469.14 474.35,468.83 476.21,468.52 478.08,468.19 479.94,467.84 481.81,467.49 483.67,467.12 485.54,466.73 487.4,466.33 489.27,465.91 491.13,465.47 493,465.02 494.86,464.55 496.73,464.06 498.59,463.55 500.46,463.02 502.32,462.48 504.19,461.91 506.05,461.32 507.92,460.71 509.78,460.08 511.65,459.42 513.52,458.74 515.38,458.04 517.25,457.31 519.11,456.56 520.98,455.78 522.84,454.97 524.71,454.14 526.57,453.28 528.44,452.4 530.3,451.48 532.17,450.54 534.03,449.57 535.9,448.57 537.76,447.54 539.63,446.48 541.49,445.39 543.36,444.27 545.22,443.11 547.09,441.93 548.95,440.72 550.82,439.47 552.69,438.19 554.55,436.89 556.42,435.55 558.28,434.17 560.15,432.77 562.01,431.34 563.88,429.87 565.74,428.37 567.61,426.85 569.47,425.29 571.34,423.7 573.2,422.08 575.07,420.43 576.93,418.75 578.8,417.05 580.66,415.31 582.53,413.55 584.39,411.76 586.26,409.94 588.12,408.1 589.99,406.23 591.86,404.33 593.72,402.42 595.59,400.47 597.45,398.51 599.32,396.52 601.18,394.51 603.05,392.49 604.91,390.44 606.78,388.37 608.64,386.29 610.51,384.18 612.37,382.07 614.24,379.93 616.1,377.78 617.97,375.62 619.83,373.44 621.7,371.26 623.56,369.06 625.43,366.85 627.29,364.63 629.16,362.41 631.02,360.18 632.89,357.94 634.76,355.69 636.62,353.44 638.49,351.19 640.35,348.94 642.22,346.68 644.08,344.42 645.95,342.17 647.81,339.91 649.68,337.66 651.54,335.41 653.41,333.16 655.27,330.92 657.14,328.69 659,326.46 660.87,324.24 662.73,322.03 664.6,319.83 666.46,317.64 668.33,315.46 670.19,313.29 672.06,311.14 673.93,309 675.79,306.88 677.66,304.77 679.52,302.68 681.39,300.6 683.25,298.55 685.12,296.51 686.98,294.5 688.85,292.51 690.71,290.53 692.58,288.58 694.44,286.66 696.31,284.76 698.17,282.88 700.04,281.03 701.9,279.2 703.77,277.4 705.63,275.63 707.5,273.89 709.36,272.17 711.23,270.48 713.09,268.82 714.96,267.19 716.83,265.6 718.69,264.03 720.56,262.49 722.42,260.98 724.29,259.51 726.15,258.06 728.02,256.65 729.88,255.27 731.75,253.92 733.61,252.6 735.48,251.31 737.34,250.05 739.21,248.83 741.07,247.64 742.94,246.47 744.8,245.34 746.67,244.24 748.53,243.17 750.4,242.13 752.26,241.12 754.13,240.14 756,239.19 757.86,238.26 759.73,237.37 761.59,236.5 763.46,235.66 765.32,234.85 767.19,234.06 769.05,233.3 770.92,232.56 772.78,231.85 774.65,231.17 776.51,230.5 778.38,229.86 780.24,229.24 782.11,228.65 783.97,228.07 785.84,227.52 787.7,226.99 789.57,226.47 791.43,225.98 793.3,225.5 795.17,225.04 797.03,224.6 798.9,224.18 800.76,223.77 802.63,223.38 804.49,223 806.36,222.64 808.22,222.29 810.09,221.95 811.95,221.63 813.82,221.33 815.68,221.03 817.55,220.75 819.41,220.48 821.28,220.22 823.14,219.97 825.01,219.73 826.87,219.5 828.74,219.28 830.6,219.06 832.47,218.86 834.33,218.67 836.2,218.48 838.07,218.31 839.93,218.14 841.8,217.97 843.66,217.82 845.53,217.67 847.39,217.52 849.26,217.39 851.12,217.26 852.99,217.13 854.85,217.01 856.72,216.9 858.58,216.79 860.45,216.68 862.31,216.58 864.18,216.49 866.04,216.39 867.91,216.31 869.77,216.22 871.64,216.14 873.5,216.06 875.37,215.99 877.24,215.92 879.1,215.85 880.97,215.79 882.83,215.73 884.7,215.67 886.56,215.61 888.43,215.56 890.29,215.51 892.16,215.46 894.02,215.41 895.89,215.37 897.75,215.33 899.62,215.29 901.48,215.25 903.35,215.21 905.21,215.17 907.08,215.14 908.94,215.11 910.81,215.08 912.67,215.05 914.54,215.02 916.41,214.99 918.27,214.96 920.14,214.94 922,214.92 923.87,214.89 925.73,214.87 927.6,214.85 929.46,214.83 931.33,214.81 933.19,214.8 935.06,214.78 936.92,214.76 938.79,214.75 940.65,214.73 942.52,214.72 944.38,214.7 946.25,214.69 948.11,214.68 949.98,214.67 951.84,214.66 953.71,214.64 955.57,214.63 957.44,214.62 959.31,214.61 961.17,214.61 963.04,214.6 964.9,214.59 966.77,214.58 968.63,214.57 970.5,214.57 972.36,214.56 974.23,214.55 976.09,214.55 977.96,214.54 979.82,214.54 981.69,214.53 983.55,214.52 985.42,214.52 987.28,214.52 989.15,214.51 991.01,214.51 992.88,214.5 994.74,214.5 996.61,214.49 998.48,214.49 1000.34,214.49 1002.21,214.48 1004.07,214.48 1005.94,214.48 1007.8,214.48 1009.67,214.47 1011.53,214.47 1013.4,214.47 1015.26,214.47 1017.13,214.46 1018.99,214.46 1020.86,214.46 1022.72,214.46 1024.59,214.45 1026.45,214.45 1028.32,214.45 1030.18,214.45 1032.05,214.45 1033.91,214.45 1035.78,214.45 1037.65,214.44 1039.51,214.44 1041.38,214.44 1043.24,214.44 1045.11,214.44 1046.97,214.44 1048.84,214.44 1050.7,214.44 1052.57,214.44 1054.43,214.43 1056.3,214.43 1058.16,214.43 1060.03,214.43 1061.89,214.43 1063.76,214.43 1065.62,214.43 1067.49,214.43 1069.35,214.43 1071.22,214.43 1073.08,214.43 1074.95,214.43 1076.81,214.43 1078.68,214.43 1080.55,214.43 1082.41,214.42 1084.28,214.42 1086.14,214.42 1088.01,214.42 1089.87,214.42 1091.74,214.42 1093.6,214.42 1095.47,214.42 1097.33,214.42 1099.2,214.42 1101.06,214.42 1102.93,214.42 1104.79,214.42 1106.66,214.42 1108.52,214.42 1110.39,214.42 1112.25,214.42 1114.12,214.42 1115.98,214.42 1117.85,214.42"/>
<polyline stroke="#A2142F" points="187.1,475.94 188.97,475.94 190.83,475.94 192.7,475.94 194.56,475.94 196.43,475.94 198.29,475.94 200.16,475.94 202.02,475.94 203.89,475.94 205.75,475.94 207.62,475.94 209.48,475.94 211.35,475.94 213.21,475.94 215.08,475.94 216.94,475.94 218.81,475.94 220.67,475.94 222.54,475.94 224.4,475.93 226.27,475.93 228.14,475.93 230,475.93 231.87,475.93 233.73,475.93 235.6,475.93 237.46,475.93 239.33,475.93 241.19,475.93 243.06,475.93 244.92,475.92 246.79,475.92 248.65,475.92 250.52,475.92 252.38,475.92 254.25,475.92 256.11,475.92 257.98,475.91 259.84,475.91 261.71,475.91 263.57,475.91 265.44,475.91 267.3,475.9 269.17,475.9 271.04,475.9 272.9,475.9 274.77,475.9 276.63,475.89 278.5,475.89 280.36,475.89 282.23,475.88 284.09,475.88 285.96,475.88 287.82,475.88 289.69,475.87 291.55,475.87 293.42,475.86 295.28,475.86 297.15,475.86 299.01,475.85 300.88,475.85 302.74,475.84 304.61,475.84 306.47,475.83 308.34,475.83 310.21,475.82 312.07,475.81 313.94,475.81 315.8,475.8 317.67,475.79 319.53,475.79 321.4,475.78 323.26,475.77 325.13,475.76 326.99,475.75 328.86,475.74 330.72,475.73 332.59,475.72 334.45,475.71 336.32,475.7 338.18,475.69 340.05,475.68 341.91,475.66 343.78,475.65 345.64,475.64 347.51,475.62 349.38,475.61 351.24,475.59 353.11,475.57 354.97,475.56 356.84,475.54 358.7,475.52 360.57,475.5 362.43,475.48 364.3,475.45 366.16,475.43 368.03,475.41 369.89,475.38 371.76,475.35 373.62,475.33 375.49,475.3 377.35,475.27 379.22,475.23 381.08,475.2 382.95,475.17 384.81,475.13 386.68,475.09 388.54,475.05 390.41,475.01 392.28,474.96 394.14,474.92 396.01,474.87 397.87,474.82 399.74,474.77 401.6,474.71 403.47,474.65 405.33,474.59 407.2,474.53 409.06,474.46 410.93,474.39 412.79,474.32 414.66,474.24 416.52,474.16 418.39,474.08 420.25,473.99 422.12,473.9 423.98,473.81 425.85,473.71 427.71,473.61 429.58,473.5 431.45,473.38 433.31,473.27 435.18,473.14 437.04,473.01 438.91,472.88 440.77,472.74 442.64,472.59 444.5,472.43 446.37,472.27 448.23,472.1 450.1,471.93 451.96,471.74 453.83,471.55 455.69,471.35 457.56,471.14 459.42,470.93 461.29,470.7 463.15,470.46 465.02,470.21 466.88,469.96 468.75,469.69 470.62,469.41 472.48,469.11 474.35,468.81 476.21,468.49 478.08,468.16 479.94,467.82 481.81,467.46 483.67,467.08 485.54,466.7 487.4,466.29 489.27,465.87 491.13,465.43 493,464.98 494.86,464.51 496.73,464.02 498.59,463.51 500.46,462.98 502.32,462.43 504.19,461.86 506.05,461.26 507.92,460.65 509.78,460.02 511.65,459.36 513.52,458.67 515.38,457.97 517.25,457.24 519.11,456.48 520.98,455.7 522.84,454.89 524.71,454.05 526.57,453.19 528.44,452.3 530.3,451.38 532.17,450.44 534.03,449.46 535.9,448.45 537.76,447.42 539.63,446.35 541.49,445.26 543.36,444.13 545.22,442.97 547.09,441.78 548.95,440.56 550.82,439.31 552.69,438.02 554.55,436.7 556.42,435.36 558.28,433.98 560.15,432.56 562.01,431.12 563.88,429.64 565.74,428.14 567.61,426.6 569.47,425.03 571.34,423.43 573.2,421.8 575.07,420.13 576.93,418.44 578.8,416.72 580.66,414.97 582.53,413.19 584.39,411.38 586.26,409.55 588.12,407.69 589.99,405.8 591.86,403.89 593.72,401.95 595.59,399.99 597.45,398 599.32,395.99 601.18,393.96 603.05,391.9 604.91,389.83 606.78,387.73 608.64,385.62 610.51,383.49 612.37,381.34 614.24,379.17 616.1,376.99 617.97,374.79 619.83,372.58 621.7,370.35 623.56,368.12 625.43,365.87 627.29,363.61 629.16,361.34 631.02,359.06 632.89,356.77 634.76,354.47 636.62,352.17 638.49,349.86 640.35,347.55 642.22,345.24 644.08,342.92 645.95,340.6 647.81,338.28 649.68,335.96 651.54,333.64 653.41,331.32 655.27,329 657.14,326.69 659,324.38 660.87,322.07 662.73,319.78 664.6,317.49 666.46,315.2 668.33,312.93 670.19,310.66 672.06,308.41 673.93,306.17 675.79,303.94 677.66,301.72 679.52,299.51 681.39,297.32 683.25,295.15 685.12,292.99 686.98,290.85 688.85,288.73 690.71,286.63 692.58,284.54 694.44,282.48 696.31,280.44 698.17,278.42 700.04,276.42 701.9,274.45 703.77,272.5 705.63,270.58 707.5,268.68 709.36,266.8 711.23,264.96 713.09,263.14 714.96,261.35 716.83,259.59 718.69,257.85 720.56,256.15 722.42,254.47 724.29,252.83 726.15,251.21 728.02,249.63 729.88,248.08 731.75,246.56 733.61,245.07 735.48,243.61 737.34,242.18 739.21,240.79 741.07,239.43 742.94,238.1 744.8,236.8 746.67,235.53 748.53,234.3 750.4,233.09 752.26,231.92 754.13,230.78 756,229.67 757.86,228.59 759.73,227.54 761.59,226.52 763.46,225.53 765.32,224.57 767.19,223.64 769.05,222.74 770.92,221.87 772.78,221.02 774.65,220.2 776.51,219.41 778.38,218.64 780.24,217.9 782.11,217.18 783.97,216.49 785.84,215.82 787.7,215.17 789.57,214.55 791.43,213.95 793.3,213.37 795.17,212.81 797.03,212.27 798.9,211.75 800.76,211.26 802.63,210.78 804.49,210.31 806.36,209.87 808.22,209.44 810.09,209.03 811.95,208.63 813.82,208.25 815.68,207.89 817.55,207.54 819.41,207.2 821.28,206.88 823.14,206.57 825.01,206.27 826.87,205.99 828.74,205.71 830.6,205.45 832.47,205.2 834.33,204.95 836.2,204.72 838.07,204.5 839.93,204.29 841.8,204.08 843.66,203.89 845.53,203.7 847.39,203.52 849.26,203.35 851.12,203.19 852.99,203.03 854.85,202.88 856.72,202.74 858.58,202.6 860.45,202.47 862.31,202.34 864.18,202.22 866.04,202.1 867.91,201.99 869.77,201.89 871.64,201.79 873.5,201.69 875.37,201.6 877.24,201.51 879.1,201.42 880.97,201.34 882.83,201.26 884.7,201.19 886.56,201.12 888.43,201.05 890.29,200.99 892.16,200.93 894.02,200.87 895.89,200.81 897.75,200.76 899.62,200.7 901.48,200.65 903.35,200.61 905.21,200.56 907.08,200.52 908.94,200.48 910.81,200.44 912.67,200.4 914.54,200.37 916.41,200.33 918.27,200.3 920.14,200.27 922,200.24 923.87,200.21 925.73,200.18 927.6,200.16 929.46,200.13 931.33,200.11 933.19,200.08 935.06,200.06 936.92,200.04 938.79,200.02 940.65,200 942.52,199.99 944.38,199.97 946.25,199.95 948.11,199.94 949.98,199.92 951.84,199.91 953.71,199.89 955.57,199.88 957.44,199.87 959.31,199.85 961.17,199.84 963.04,199.83 964.9,199.82 966.77,199.81 968.63,199.8 970.5,199.79 972.36,199.79 974.23,199.78 976.09,199.77 977.96,199.76 979.82,199.75 981.69,199.75 983.55,199.74 985.42,199.73 987.28,199.73 989.15,199.72 991.01,199.72 992.88,199.71 994.74,199.71 996.61,199.7 998.48,199.7 1000.34,199.69 1002.21,199.69 1004.07,199.69 1005.94,199.68 1007.8,199.68 1009.67,199.67 1011.53,199.67 1013.4,199.67 1015.26,199.66 1017.13,199.66 1018.99,199.66 1020.86,199.66 1022.72,199.65 1024.59,199.65 1026.45,199.65 1028.32,199.65 1030.18,199.65 1032.05,199.64 1033.91,199.64 1035.78,199.64 1037.65,199.64 1039.51,199.64 1041.38,199.63 1043.24,199.63 1045.11,199.63 1046.97,199.63 1048.84,199.63 1050.7,199.63 1052.57,199.63 1054.43,199.63 1056.3,199.62 1058.16,199.62 1060.03,199.62 1061.89,199.62 1063.76,199.62 1065.62,199.62 1067.49,199.62 1069.35,199.62 1071.22,199.62 1073.08,199.62 1074.95,199.62 1076.81,199.62 1078.68,199.61 1080.55,199.61 1082.41,199.61 1084.28,199.61 1086.14,199.61 1088.01,199.61 1089.87,199.61 1091.74,199.61 1093.6,199.61 1095.47,199.61 1097.33,199.61 1099.2,199.61 1101.06,199.61 1102.93,199.61 1104.79,199.61 1106.66,199.61 1108.52,199.61 1110.39,199.61 1112.25,199.61 1114.12,199.61 1115.98,199.61 1117.85,199.61"/>
<polyline stroke="#0072BD" points="187.1,475.94 188.97,475.94 190.83,475.94 192.7,475.94 194.56,475.94 196.43,475.94 198.29,475.94 200.16,475.94 202.02,475.94 203.89,475.94 205.75,475.94 207.62,475.94 209.48,475.94 211.35,475.94 213.21,475.94 215.08,475.94 216.94,475.94 218.81,475.94 220.67,475.94 222.54,475.94 224.4,475.93 226.27,475.93 228.14,475.93 230,475.93 231.87,475.93 233.73,475.93 235.6,475.93 237.46,475.93 239.33,475.93 241.19,475.93 243.06,475.93 244.92,475.92 246.79,475.92 248.65,475.92 250.52,475.92 252.38,475.92 254.25,475.92 256.11,475.92 257.98,475.91 259.84,475.91 261.71,475.91 263.57,475.91 265.44,475.91 267.3,475.9 269.17,475.9 271.04,475.9 272.9,475.9 274.77,475.9 276.63,475.89 278.5,475.89 280.36,475.89 282.23,475.88 284.09,475.88 285.96,475.88 287.82,475.87 289.69,475.87 291.55,475.87 293.42,475.86 295.28,475.86 297.15,475.86 299.01,475.85 300.88,475.85 302.74,475.84 304.61,475.84 306.47,475.83 308.34,475.83 310.21,475.82 312.07,475.81 313.94,475.81 315.8,475.8 317.67,475.79 319.53,475.79 321.4,475.78 323.26,475.77 325.13,475.76 326.99,475.75 328.86,475.74 330.72,475.73 332.59,475.72 334.45,475.71 336.32,475.7 338.18,475.69 340.05,475.68 341.91,475.66 343.78,475.65 345.64,475.64 347.51,475.62 349.38,475.61 351.24,475.59 353.11,475.57 354.97,475.56 356.84,475.54 358.7,475.52 360.57,475.5 362.43,475.48 364.3,475.45 366.16,475.43 368.03,475.41 369.89,475.38 371.76,475.35 373.62,475.32 375.49,475.3 377.35,475.26 379.22,475.23 381.08,475.2 382.95,475.16 384.81,475.13 386.68,475.09 388.54,475.05 390.41,475.01 392.28,474.96 394.14,474.91 396.01,474.87 397.87,474.82 399.74,474.76 401.6,474.71 403.47,474.65 405.33,474.59 407.2,474.52 409.06,474.46 410.93,474.39 412.79,474.32 414.66,474.24 416.52,474.16 418.39,474.08 420.25,473.99 422.12,473.9 423.98,473.8 425.85,473.7 427.71,473.6 429.58,473.49 431.45,473.38 433.31,473.26 435.18,473.13 437.04,473 438.91,472.87 440.77,472.73 442.64,472.58 444.5,472.42 446.37,472.26 448.23,472.09 450.1,471.92 451.96,471.73 453.83,471.54 455.69,471.34 457.56,471.13 459.42,470.91 461.29,470.69 463.15,470.45 465.02,470.2 466.88,469.94 468.75,469.67 470.62,469.39 472.48,469.1 474.35,468.79 476.21,468.47 478.08,468.14 479.94,467.8 481.81,467.44 483.67,467.06 485.54,466.67 487.4,466.27 489.27,465.84 491.13,465.41 493,464.95 494.86,464.48 496.73,463.98 498.59,463.47 500.46,462.94 502.32,462.39 504.19,461.82 506.05,461.23 507.92,460.61 509.78,459.97 511.65,459.31 513.52,458.63 515.38,457.92 517.25,457.19 519.11,456.43 520.98,455.64 522.84,454.83 524.71,453.99 526.57,453.13 528.44,452.23 530.3,451.31 532.17,450.36 534.03,449.38 535.9,448.37 537.76,447.33 539.63,446.26 541.49,445.16 543.36,444.03 545.22,442.87 547.09,441.67 548.95,440.45 550.82,439.19 552.69,437.9 554.55,436.58 556.42,435.22 558.28,433.83 560.15,432.42 562.01,430.96 563.88,429.48 565.74,427.97 567.61,426.42 569.47,424.84 571.34,423.23 573.2,421.59 575.07,419.92 576.93,418.22 578.8,416.49 580.66,414.73 582.53,412.94 584.39,411.12 586.26,409.27 588.12,407.4 589.99,405.49 591.86,403.57 593.72,401.61 595.59,399.63 597.45,397.63 599.32,395.6 601.18,393.56 603.05,391.48 604.91,389.39 606.78,387.27 608.64,385.14 610.51,382.99 612.37,380.81 614.24,378.62 616.1,376.42 617.97,374.19 619.83,371.95 621.7,369.7 623.56,367.43 625.43,365.15 627.29,362.86 629.16,360.56 631.02,358.24 632.89,355.92 634.76,353.59 636.62,351.25 638.49,348.9 640.35,346.54 642.22,344.18 644.08,341.82 645.95,339.45 647.81,337.08 649.68,334.71 651.54,332.34 653.41,329.96 655.27,327.59 657.14,325.22 659,322.85 660.87,320.48 662.73,318.12 664.6,315.76 666.46,313.4 668.33,311.05 670.19,308.71 672.06,306.38 673.93,304.06 675.79,301.74 677.66,299.44 679.52,297.15 681.39,294.87 683.25,292.6 685.12,290.35 686.98,288.11 688.85,285.88 690.71,283.68 692.58,281.49 694.44,279.31 696.31,277.16 698.17,275.03 700.04,272.91 701.9,270.82 703.77,268.74 705.63,266.7 707.5,264.67 709.36,262.67 711.23,260.69 713.09,258.73 714.96,256.81 716.83,254.9 718.69,253.03 720.56,251.18 722.42,249.36 724.29,247.57 726.15,245.81 728.02,244.08 729.88,242.38 731.75,240.71 733.61,239.07 735.48,237.46 737.34,235.88 739.21,234.33 741.07,232.82 742.94,231.34 744.8,229.88 746.67,228.47 748.53,227.08 750.4,225.72 752.26,224.4 754.13,223.11 756,221.85 757.86,220.63 759.73,219.43 761.59,218.27 763.46,217.14 765.32,216.04 767.19,214.97 769.05,213.93 770.92,212.92 772.78,211.94 774.65,210.99 776.51,210.07 778.38,209.17 780.24,208.31 782.11,207.47 783.97,206.66 785.84,205.87 787.7,205.11 789.57,204.38 791.43,203.67 793.3,202.99 795.17,202.33 797.03,201.69 798.9,201.07 800.76,200.48 802.63,199.91 804.49,199.36 806.36,198.83 808.22,198.32 810.09,197.82 811.95,197.35 813.82,196.89 815.68,196.46 817.55,196.03 819.41,195.63 821.28,195.24 823.14,194.86 825.01,194.5 826.87,194.16 828.74,193.83 830.6,193.51 832.47,193.2 834.33,192.91 836.2,192.63 838.07,192.36 839.93,192.1 841.8,191.85 843.66,191.61 845.53,191.39 847.39,191.17 849.26,190.96 851.12,190.76 852.99,190.57 854.85,190.38 856.72,190.21 858.58,190.04 860.45,189.88 862.31,189.72 864.18,189.57 866.04,189.43 867.91,189.3 869.77,189.17 871.64,189.04 873.5,188.92 875.37,188.81 877.24,188.7 879.1,188.6 880.97,188.5 882.83,188.4 884.7,188.31 886.56,188.22 888.43,188.14 890.29,188.06 892.16,187.98 894.02,187.91 895.89,187.84 897.75,187.78 899.62,187.71 901.48,187.65 903.35,187.59 905.21,187.54 907.08,187.48 908.94,187.43 910.81,187.39 912.67,187.34 914.54,187.29 916.41,187.25 918.27,187.21 920.14,187.17 922,187.14 923.87,187.1 925.73,187.07 927.6,187.04 929.46,187 931.33,186.98 933.19,186.95 935.06,186.92 936.92,186.89 938.79,186.87 940.65,186.85 942.52,186.82 944.38,186.8 946.25,186.78 948.11,186.76 949.98,186.74 951.84,186.73 953.71,186.71 955.57,186.69 957.44,186.68 959.31,186.66 961.17,186.65 963.04,186.64 964.9,186.62 966.77,186.61 968.63,186.6 970.5,186.59 972.36,186.58 974.23,186.57 976.09,186.56 977.96,186.55 979.82,186.54 981.69,186.53 983.55,186.52 985.42,186.51 987.28,186.51 989.15,186.5 991.01,186.49 992.88,186.49 994.74,186.48 996.61,186.47 998.48,186.47 1000.34,186.46 1002.21,186.46 1004.07,186.45 1005.94,186.45 1007.8,186.44 1009.67,186.44 1011.53,186.44 1013.4,186.43 1015.26,186.43 1017.13,186.43 1018.99,186.42 1020.86,186.42 1022.72,186.42 1024.59,186.41 1026.45,186.41 1028.32,186.41 1030.18,186.4 1032.05,186.4 1033.91,186.4 1035.78,186.4 1037.65,186.4 1039.51,186.39 1041.38,186.39 1043.24,186.39 1045.11,186.39 1046.97,186.39 1048.84,186.38 1050.7,186.38 1052.57,186.38 1054.43,186.38 1056.3,186.38 1058.16,186.38 1060.03,186.38 1061.89,186.37 1063.76,186.37 1065.62,186.37 1067.49,186.37 1069.35,186.37 1071.22,186.37 1073.08,186.37 1074.95,186.37 1076.81,186.37 1078.68,186.37 1080.55,186.37 1082.41,186.36 1084.28,186.36 1086.14,186.36 1088.01,186.36 1089.87,186.36 1091.74,186.36 1093.6,186.36 1095.47,186.36 1097.33,186.36 1099.2,186.36 1101.06,186.36 1102.93,186.36 1104.79,186.36 1106.66,186.36 1108.52,186.36 1110.39,186.36 1112.25,186.36 1114.12,186.36 1115.98,186.36 1117.85,186.36"/>
<polyline stroke="#D95319" points="187.1,475.94 188.97,475.94 190.83,475.94 192.7,475.94 194.56,475.94 196.43,475.94 198.29,475.94 200.16,475.94 202.02,475.94 203.89,475.94 205.75,475.94 207.62,475.94 209.48,475.94 211.35,475.94 213.21,475.94 215.08,475.94 216.94,475.94 218.81,475.94 220.67,475.94 222.54,475.94 224.4,475.93 226.27,475.93 228.14,475.93 230,475.93 231.87,475.93 233.73,475.93 235.6,475.93 237.46,475.93 239.33,475.93 241.19,475.93 243.06,475.93 244.92,475.92 246.79,475.92 248.65,475.92 250.52,475.92 252.38,475.92 254.25,475.92 256.11,475.92 257.98,475.91 259.84,475.91 261.71,475.91 263.57,475.91 265.44,475.91 267.3,475.9 269.17,475.9 271.04,475.9 272.9,475.9 274.77,475.9 276.63,475.89 278.5,475.89 280.36,475.89 282.23,475.88 284.09,475.88 285.96,475.88 287.82,475.87 289.69,475.87 291.55,475.87 293.42,475.86 295.28,475.86 297.15,475.86 299.01,475.85 300.88,475.85 302.74,475.84 304.61,475.84 306.47,475.83 308.34,475.82 310.21,475.82 312.07,475.81 313.94,475.81 315.8,475.8 317.67,475.79 319.53,475.79 321.4,475.78 323.26,475.77 325.13,475.76 326.99,475.75 328.86,475.74 330.72,475.73 332.59,475.72 334.45,475.71 336.32,475.7 338.18,475.69 340.05,475.68 341.91,475.66 343.78,475.65 345.64,475.64 347.51,475.62 349.38,475.61 351.24,475.59 353.11,475.57 354.97,475.55 356.84,475.54 358.7,475.52 360.57,475.5 362.43,475.47 364.3,475.45 366.16,475.43 368.03,475.4 369.89,475.38 371.76,475.35 373.62,475.32 375.49,475.29 377.35,475.26 379.22,475.23 381.08,475.2 382.95,475.16 384.81,475.13 386.68,475.09 388.54,475.05 390.41,475 392.28,474.96 394.14,474.91 396.01,474.86 397.87,474.81 399.74,474.76 401.6,474.7 403.47,474.65 405.33,474.59 407.2,474.52 409.06,474.46 410.93,474.39 412.79,474.31 414.66,474.24 416.52,474.16 418.39,474.07 420.25,473.99 422.12,473.9 423.98,473.8 425.85,473.7 427.71,473.6 429.58,473.49 431.45,473.37 433.31,473.25 435.18,473.13 437.04,473 438.91,472.86 440.77,472.72 442.64,472.57 444.5,472.42 446.37,472.26 448.23,472.09 450.1,471.91 451.96,471.73 453.83,471.53 455.69,471.33 457.56,471.12 459.42,470.9 461.29,470.68 463.15,470.44 465.02,470.19 466.88,469.93 468.75,469.66 470.62,469.38 472.48,469.08 474.35,468.78 476.21,468.46 478.08,468.13 479.94,467.78 481.81,467.42 483.67,467.04 485.54,466.65 487.4,466.25 489.27,465.83 491.13,465.39 493,464.93 494.86,464.45 496.73,463.96 498.59,463.45 500.46,462.92 502.32,462.36 504.19,461.79 506.05,461.2 507.92,460.58 509.78,459.94 511.65,459.28 513.52,458.59 515.38,457.88 517.25,457.15 519.11,456.39 520.98,455.6 522.84,454.79 524.71,453.95 526.57,453.08 528.44,452.18 530.3,451.26 532.17,450.31 534.03,449.32 535.9,448.31 537.76,447.27 539.63,446.2 541.49,445.09 543.36,443.96 545.22,442.79 547.09,441.59 548.95,440.36 550.82,439.1 552.69,437.81 554.55,436.48 556.42,435.12 558.28,433.73 560.15,432.31 562.01,430.85 563.88,429.36 565.74,427.84 567.61,426.29 569.47,424.7 571.34,423.09 573.2,421.44 575.07,419.76 576.93,418.05 578.8,416.31 580.66,414.54 582.53,412.74 584.39,410.92 586.26,409.06 588.12,407.18 589.99,405.27 591.86,403.33 593.72,401.36 595.59,399.37 597.45,397.36 599.32,395.32 601.18,393.26 603.05,391.17 604.91,389.06 606.78,386.93 608.64,384.78 610.51,382.61 612.37,380.42 614.24,378.21 616.1,375.99 617.97,373.74 619.83,371.48 621.7,369.21 623.56,366.92 625.43,364.62 627.29,362.3 629.16,359.97 631.02,357.63 632.89,355.28 634.76,352.92 636.62,350.55 638.49,348.17 640.35,345.79 642.22,343.39 644.08,341 645.95,338.59 647.81,336.18 649.68,333.77 651.54,331.36 653.41,328.94 655.27,326.52 657.14,324.11 659,321.69 660.87,319.27 662.73,316.86 664.6,314.44 666.46,312.04 668.33,309.63 670.19,307.23 672.06,304.84 673.93,302.45 675.79,300.07 677.66,297.7 679.52,295.34 681.39,292.99 683.25,290.65 685.12,288.32 686.98,286 688.85,283.69 690.71,281.4 692.58,279.12 694.44,276.86 696.31,274.62 698.17,272.39 700.04,270.18 701.9,267.99 703.77,265.81 705.63,263.66 707.5,261.53 709.36,259.42 711.23,257.33 713.09,255.26 714.96,253.22 716.83,251.2 718.69,249.21 720.56,247.24 722.42,245.3 724.29,243.38 726.15,241.5 728.02,239.64 729.88,237.81 731.75,236 733.61,234.23 735.48,232.49 737.34,230.77 739.21,229.09 741.07,227.44 742.94,225.82 744.8,224.23 746.67,222.67 748.53,221.15 750.4,219.66 752.26,218.2 754.13,216.77 756,215.37 757.86,214.01 759.73,212.68 761.59,211.38 763.46,210.11 765.32,208.88 767.19,207.68 769.05,206.51 770.92,205.37 772.78,204.26 774.65,203.18 776.51,202.14 778.38,201.12 780.24,200.13 782.11,199.18 783.97,198.25 785.84,197.35 787.7,196.48 789.57,195.63 791.43,194.82 793.3,194.03 795.17,193.26 797.03,192.53 798.9,191.81 800.76,191.12 802.63,190.46 804.49,189.82 806.36,189.2 808.22,188.6 810.09,188.02 811.95,187.47 813.82,186.93 815.68,186.42 817.55,185.92 819.41,185.44 821.28,184.99 823.14,184.54 825.01,184.12 826.87,183.71 828.74,183.32 830.6,182.94 832.47,182.58 834.33,182.23 836.2,181.9 838.07,181.58 839.93,181.27 841.8,180.97 843.66,180.69 845.53,180.42 847.39,180.16 849.26,179.91 851.12,179.67 852.99,179.44 854.85,179.22 856.72,179.01 858.58,178.81 860.45,178.61 862.31,178.43 864.18,178.25 866.04,178.08 867.91,177.92 869.77,177.76 871.64,177.61 873.5,177.47 875.37,177.33 877.24,177.2 879.1,177.07 880.97,176.96 882.83,176.84 884.7,176.73 886.56,176.63 888.43,176.53 890.29,176.43 892.16,176.34 894.02,176.25 895.89,176.17 897.75,176.09 899.62,176.01 901.48,175.94 903.35,175.87 905.21,175.8 907.08,175.73 908.94,175.67 910.81,175.62 912.67,175.56 914.54,175.51 916.41,175.45 918.27,175.41 920.14,175.36 922,175.31 923.87,175.27 925.73,175.23 927.6,175.19 929.46,175.16 931.33,175.12 933.19,175.09 935.06,175.05 936.92,175.02 938.79,174.99 940.65,174.96 942.52,174.94 944.38,174.91 946.25,174.89 948.11,174.86 949.98,174.84 951.84,174.82 953.71,174.8 955.57,174.78 957.44,174.76 959.31,174.74 961.17,174.73 963.04,174.71 964.9,174.69 966.77,174.68 968.63,174.66 970.5,174.65 972.36,174.64 974.23,174.63 976.09,174.61 977.96,174.6 979.82,174.59 981.69,174.58 983.55,174.57 985.42,174.56 987.28,174.55 989.15,174.54 991.01,174.54 992.88,174.53 994.74,174.52 996.61,174.51 998.48,174.51 1000.34,174.5 1002.21,174.49 1004.07,174.49 1005.94,174.48 1007.8,174.48 1009.67,174.47 1011.53,174.47 1013.4,174.46 1015.26,174.46 1017.13,174.45 1018.99,174.45 1020.86,174.45 1022.72,174.44 1024.59,174.44 1026.45,174.44 1028.32,174.43 1030.18,174.43 1032.05,174.43 1033.91,174.42 1035.78,174.42 1037.65,174.42 1039.51,174.42 1041.38,174.41 1043.24,174.41 1045.11,174.41 1046.97,174.41 1048.84,174.4 1050.7,174.4 1052.57,174.4 1054.43,174.4 1056.3,174.4 1058.16,174.4 1060.03,174.39 1061.89,174.39 1063.76,174.39 1065.62,174.39 1067.49,174.39 1069.35,174.39 1071.22,174.39 1073.08,174.39 1074.95,174.38 1076.81,174.38 1078.68,174.38 1080.55,174.38 1082.41,174.38 1084.28,174.38 1086.14,174.38 1088.01,174.38 1089.87,174.38 1091.74,174.38 1093.6,174.38 1095.47,174.38 1097.33,174.38 1099.2,174.37 1101.06,174.37 1102.93,174.37 1104.79,174.37 1106.66,174.37 1108.52,174.37 1110.39,174.37 1112.25,174.37 1114.12,174.37 1115.98,174.37 1117.85,174.37"/>
<polyline stroke="#EDB120" points="187.1,475.94 188.97,475.94 190.83,475.94 192.7,475.94 194.56,475.94 196.43,475.94 198.29,475.94 200.16,475.94 202.02,475.94 203.89,475.94 205.75,475.94 207.62,475.94 209.48,475.94 211.35,475.94 213.21,475.94 215.08,475.94 216.94,475.94 218.81,475.94 220.67,475.94 222.54,475.93 224.4,475.93 226.27,475.93 228.14,475.93 230,475.93 231.87,475.93 233.73,475.93 235.6,475.93 237.46,475.93 239.33,475.93 241.19,475.93 243.06,475.93 244.92,475.92 246.79,475.92 248.65,475.92 250.52,475.92 252.38,475.92 254.25,475.92 256.11,475.92 257.98,475.91 259.84,475.91 261.71,475.91 263.57,475.91 265.44,475.91 267.3,475.9 269.17,475.9 271.04,475.9 272.9,475.9 274.77,475.9 276.63,475.89 278.5,475.89 280.36,475.89 282.23,475.88 284.09,475.88 285.96,475.88 287.82,475.87 289.69,475.87 291.55,475.87 293.42,475.86 295.28,475.86 297.15,475.86 299.01,475.85 300.88,475.85 302.74,475.84 304.61,475.84 306.47,475.83 308.34,475.82 310.21,475.82 312.07,475.81 313.94,475.81 315.8,475.8 317.67,475.79 319.53,475.78 321.4,475.78 323.26,475.77 325.13,475.76 326.99,475.75 328.86,475.74 330.72,475.73 332.59,475.72 334.45,475.71 336.32,475.7 338.18,475.69 340.05,475.68 341.91,475.66 343.78,475.65 345.64,475.64 347.51,475.62 349.38,475.61 351.24,475.59 353.11,475.57 354.97,475.55 356.84,475.54 358.7,475.52 360.57,475.5 362.43,475.47 364.3,475.45 366.16,475.43 368.03,475.4 369.89,475.38 371.76,475.35 373.62,475.32 375.49,475.29 377.35,475.26 379.22,475.23 381.08,475.2 382.95,475.16 384.81,475.12 386.68,475.09 388.54,475.04 390.41,475 392.28,474.96 394.14,474.91 396.01,474.86 397.87,474.81 399.74,474.76 401.6,474.7 403.47,474.65 405.33,474.58 407.2,474.52 409.06,474.45 410.93,474.38 412.79,474.31 414.66,474.23 416.52,474.15 418.39,474.07 420.25,473.98 422.12,473.89 423.98,473.8 425.85,473.7 427.71,473.59 429.58,473.48 431.45,473.37 433.31,473.25 435.18,473.13 437.04,473 438.91,472.86 440.77,472.72 442.64,472.57 444.5,472.41 446.37,472.25 448.23,472.08 450.1,471.9 451.96,471.72 453.83,471.53 455.69,471.33 457.56,471.12 459.42,470.9 461.29,470.67 463.15,470.43 465.02,470.18 466.88,469.92 468.75,469.65 470.62,469.37 472.48,469.07 474.35,468.77 476.21,468.45 478.08,468.11 479.94,467.77 481.81,467.41 483.67,467.03 485.54,466.64 487.4,466.23 489.27,465.81 491.13,465.37 493,464.91 494.86,464.44 496.73,463.94 498.59,463.43 500.46,462.9 502.32,462.34 504.19,461.77 506.05,461.17 507.92,460.56 509.78,459.92 511.65,459.25 513.52,458.57 515.38,457.85 517.25,457.12 519.11,456.36 520.98,455.57 522.84,454.75 524.71,453.91 526.57,453.04 528.44,452.14 530.3,451.22 532.17,450.26 534.03,449.28 535.9,448.27 537.76,447.22 539.63,446.15 541.49,445.04 543.36,443.9 545.22,442.73 547.09,441.53 548.95,440.3 550.82,439.03 552.69,437.74 554.55,436.41 556.42,435.04 558.28,433.65 560.15,432.22 562.01,430.76 563.88,429.27 565.74,427.74 567.61,426.19 569.47,424.6 571.34,422.98 573.2,421.32 575.07,419.64 576.93,417.93 578.8,416.18 580.66,414.4 582.53,412.6 584.39,410.77 586.26,408.9 588.12,407.01 589.99,405.09 591.86,403.15 593.72,401.17 595.59,399.17 597.45,397.15 599.32,395.1 601.18,393.03 603.05,390.93 604.91,388.81 606.78,386.67 608.64,384.51 610.51,382.33 612.37,380.12 614.24,377.9 616.1,375.66 617.97,373.4 619.83,371.13 621.7,368.84 623.56,366.53 625.43,364.21 627.29,361.87 629.16,359.53 631.02,357.16 632.89,354.79 634.76,352.41 636.62,350.02 638.49,347.62 640.35,345.2 642.22,342.79 644.08,340.36 645.95,337.93 647.81,335.49 649.68,333.05 651.54,330.6 653.41,328.15 655.27,325.7 657.14,323.25 659,320.79 660.87,318.34 662.73,315.88 664.6,313.43 666.46,310.98 668.33,308.53 670.19,306.08 672.06,303.64 673.93,301.2 675.79,298.77 677.66,296.35 679.52,293.93 681.39,291.52 683.25,289.12 685.12,286.73 686.98,284.34 688.85,281.97 690.71,279.61 692.58,277.27 694.44,274.93 696.31,272.61 698.17,270.31 700.04,268.02 701.9,265.75 703.77,263.49 705.63,261.25 707.5,259.03 709.36,256.83 711.23,254.65 713.09,252.49 714.96,250.35 716.83,248.23 718.69,246.14 720.56,244.07 722.42,242.02 724.29,240 726.15,238 728.02,236.03 729.88,234.09 731.75,232.17 733.61,230.28 735.48,228.42 737.34,226.59 739.21,224.79 741.07,223.02 742.94,221.28 744.8,219.56 746.67,217.88 748.53,216.23 750.4,214.62 752.26,213.03 754.13,211.48 756,209.95 757.86,208.46 759.73,207.01 761.59,205.58 763.46,204.19 765.32,202.83 767.19,201.5 769.05,200.21 770.92,198.95 772.78,197.72 774.65,196.52 776.51,195.35 778.38,194.22 780.24,193.12 782.11,192.05 783.97,191 785.84,189.99 787.7,189.01 789.57,188.06 791.43,187.14 793.3,186.24 795.17,185.37 797.03,184.54 798.9,183.72 800.76,182.94 802.63,182.18 804.49,181.44 806.36,180.74 808.22,180.05 810.09,179.39 811.95,178.75 813.82,178.14 815.68,177.54 817.55,176.97 819.41,176.42 821.28,175.89 823.14,175.38 825.01,174.88 826.87,174.41 828.74,173.95 830.6,173.52 832.47,173.09 834.33,172.69 836.2,172.3 838.07,171.93 839.93,171.57 841.8,171.22 843.66,170.89 845.53,170.57 847.39,170.27 849.26,169.97 851.12,169.69 852.99,169.42 854.85,169.16 856.72,168.92 858.58,168.68 860.45,168.45 862.31,168.23 864.18,168.02 866.04,167.82 867.91,167.63 869.77,167.45 871.64,167.27 873.5,167.1 875.37,166.94 877.24,166.79 879.1,166.64 880.97,166.5 882.83,166.36 884.7,166.23 886.56,166.11 888.43,165.99 890.29,165.87 892.16,165.77 894.02,165.66 895.89,165.56 897.75,165.47 899.62,165.38 901.48,165.29 903.35,165.21 905.21,165.13 907.08,165.05 908.94,164.98 910.81,164.91 912.67,164.84 914.54,164.78 916.41,164.72 918.27,164.66 920.14,164.6 922,164.55 923.87,164.5 925.73,164.45 927.6,164.41 929.46,164.36 931.33,164.32 933.19,164.28 935.06,164.24 936.92,164.2 938.79,164.17 940.65,164.14 942.52,164.1 944.38,164.07 946.25,164.04 948.11,164.02 949.98,163.99 951.84,163.96 953.71,163.94 955.57,163.92 957.44,163.89 959.31,163.87 961.17,163.85 963.04,163.83 964.9,163.81 966.77,163.8 968.63,163.78 970.5,163.76 972.36,163.75 974.23,163.73 976.09,163.72 977.96,163.7 979.82,163.69 981.69,163.68 983.55,163.67 985.42,163.66 987.28,163.65 989.15,163.64 991.01,163.63 992.88,163.62 994.74,163.61 996.61,163.6 998.48,163.59 1000.34,163.58 1002.21,163.58 1004.07,163.57 1005.94,163.56 1007.8,163.56 1009.67,163.55 1011.53,163.54 1013.4,163.54 1015.26,163.53 1017.13,163.53 1018.99,163.52 1020.86,163.52 1022.72,163.51 1024.59,163.51 1026.45,163.51 1028.32,163.5 1030.18,163.5 1032.05,163.49 1033.91,163.49 1035.78,163.49 1037.65,163.48 1039.51,163.48 1041.38,163.48 1043.24,163.48 1045.11,163.47 1046.97,163.47 1048.84,163.47 1050.7,163.47 1052.57,163.46 1054.43,163.46 1056.3,163.46 1058.16,163.46 1060.03,163.46 1061.89,163.46 1063.76,163.45 1065.62,163.45 1067.49,163.45 1069.35,163.45 1071.22,163.45 1073.08,163.45 1074.95,163.45 1076.81,163.44 1078.68,163.44 1080.55,163.44 1082.41,163.44 1084.28,163.44 1086.14,163.44 1088.01,163.44 1089.87,163.44 1091.74,163.44 1093.6,163.44 1095.47,163.43 1097.33,163.43 1099.2,163.43 1101.06,163.43 1102.93,163.43 1104.79,163.43 1106.66,163.43 1108.52,163.43 1110.39,163.43 1112.25,163.43 1114.12,163.43 1115.98,163.43 1117.85,163.43"/>
<polyline stroke="#7E2F8E" points="187.1,475.94 188.97,475.94 190.83,475.94 192.7,475.94 194.56,475.94 196.43,475.94 198.29,475.94 200.16,475.94 202.02,475.94 203.89,475.94 205.75,475.94 207.62,475.94 209.48,475.94 211.35,475.94 213.21,475.94 215.08,475.94 216.94,475.94 218.81,475.94 220.67,475.94 222.54,475.93 224.4,475.93 226.27,475.93 228.14,475.93 230,475.93 231.87,475.93 233.73,475.93 235.6,475.93 237.46,475.93 239.33,475.93 241.19,475.93 243.06,475.93 244.92,475.92 246.79,475.92 248.65,475.92 250.52,475.92 252.38,475.92 254.25,475.92 256.11,475.92 257.98,475.91 259.84,475.91 261.71,475.91 263.57,475.91 265.44,475.91 267.3,475.9 269.17,475.9 271.04,475.9 272.9,475.9 274.77,475.9 276.63,475.89 278.5,475.89 280.36,475.89 282.23,475.88 284.09,475.88 285.96,475.88 287.82,475.87 289.69,475.87 291.55,475.87 293.42,475.86 295.28,475.86 297.15,475.85 299.01,475.85 300.88,475.85 302.74,475.84 304.61,475.84 306.47,475.83 308.34,475.82 310.21,475.82 312.07,475.81 313.94,475.81 315.8,475.8 317.67,475.79 319.53,475.78 321.4,475.78 323.26,475.77 325.13,475.76 326.99,475.75 328.86,475.74 330.72,475.73 332.59,475.72 334.45,475.71 336.32,475.7 338.18,475.69 340.05,475.68 341.91,475.66 343.78,475.65 345.64,475.64 347.51,475.62 349.38,475.6 351.24,475.59 353.11,475.57 354.97,475.55 356.84,475.53 358.7,475.52 360.57,475.49 362.43,475.47 364.3,475.45 366.16,475.43 368.03,475.4 369.89,475.38 371.76,475.35 373.62,475.32 375.49,475.29 377.35,475.26 379.22,475.23 381.08,475.2 382.95,475.16 384.81,475.12 386.68,475.08 388.54,475.04 390.41,475 392.28,474.96 394.14,474.91 396.01,474.86 397.87,474.81 399.74,474.76 401.6,474.7 403.47,474.64 405.33,474.58 407.2,474.52 409.06,474.45 410.93,474.38 412.79,474.31 414.66,474.23 416.52,474.15 418.39,474.07 420.25,473.98 422.12,473.89 423.98,473.79 425.85,473.69 427.71,473.59 429.58,473.48 431.45,473.37 433.31,473.25 435.18,473.12 437.04,472.99 438.91,472.86 440.77,472.71 442.64,472.56 444.5,472.41 446.37,472.25 448.23,472.08 450.1,471.9 451.96,471.72 453.83,471.52 455.69,471.32 457.56,471.11 459.42,470.89 461.29,470.66 463.15,470.42 465.02,470.17 466.88,469.91 468.75,469.64 470.62,469.36 472.48,469.07 474.35,468.76 476.21,468.44 478.08,468.11 479.94,467.76 481.81,467.4 483.67,467.02 485.54,466.63 487.4,466.22 489.27,465.8 491.13,465.36 493,464.9 494.86,464.42 496.73,463.93 498.59,463.42 500.46,462.88 502.32,462.33 504.19,461.75 506.05,461.16 507.92,460.54 509.78,459.9 511.65,459.23 513.52,458.54 515.38,457.83 517.25,457.09 519.11,456.33 520.98,455.54 522.84,454.73 524.71,453.88 526.57,453.01 528.44,452.11 530.3,451.19 532.17,450.23 534.03,449.25 535.9,448.23 537.76,447.18 539.63,446.11 541.49,445 543.36,443.86 545.22,442.69 547.09,441.48 548.95,440.25 550.82,438.98 552.69,437.68 554.55,436.35 556.42,434.98 558.28,433.59 560.15,432.16 562.01,430.69 563.88,429.2 565.74,427.67 567.61,426.11 569.47,424.51 571.34,422.89 573.2,421.23 575.07,419.55 576.93,417.83 578.8,416.08 580.66,414.3 582.53,412.49 584.39,410.65 586.26,408.78 588.12,406.88 589.99,404.96 591.86,403 593.72,401.02 595.59,399.02 597.45,396.99 599.32,394.93 601.18,392.85 603.05,390.74 604.91,388.62 606.78,386.47 608.64,384.29 610.51,382.1 612.37,379.89 614.24,377.66 616.1,375.4 617.97,373.13 619.83,370.85 621.7,368.54 623.56,366.22 625.43,363.89 627.29,361.54 629.16,359.18 631.02,356.8 632.89,354.41 634.76,352.01 636.62,349.6 638.49,347.18 640.35,344.75 642.22,342.31 644.08,339.86 645.95,337.41 647.81,334.95 649.68,332.48 651.54,330.01 653.41,327.53 655.27,325.05 657.14,322.57 659,320.09 660.87,317.6 662.73,315.11 664.6,312.63 666.46,310.14 668.33,307.65 670.19,305.17 672.06,302.69 673.93,300.21 675.79,297.74 677.66,295.27 679.52,292.81 681.39,290.35 683.25,287.9 685.12,285.46 686.98,283.03 688.85,280.6 690.71,278.19 692.58,275.78 694.44,273.39 696.31,271.01 698.17,268.64 700.04,266.29 701.9,263.94 703.77,261.62 705.63,259.31 707.5,257.02 709.36,254.74 711.23,252.48 713.09,250.24 714.96,248.02 716.83,245.82 718.69,243.64 720.56,241.48 722.42,239.35 724.29,237.23 726.15,235.14 728.02,233.08 729.88,231.04 731.75,229.02 733.61,227.03 735.48,225.07 737.34,223.13 739.21,221.23 741.07,219.35 742.94,217.5 744.8,215.67 746.67,213.88 748.53,212.12 750.4,210.39 752.26,208.69 754.13,207.02 756,205.39 757.86,203.78 759.73,202.21 761.59,200.67 763.46,199.16 765.32,197.69 767.19,196.24 769.05,194.83 770.92,193.46 772.78,192.11 774.65,190.8 776.51,189.52 778.38,188.27 780.24,187.06 782.11,185.87 783.97,184.72 785.84,183.6 787.7,182.52 789.57,181.46 791.43,180.43 793.3,179.43 795.17,178.47 797.03,177.53 798.9,176.62 800.76,175.74 802.63,174.89 804.49,174.06 806.36,173.26 808.22,172.49 810.09,171.74 811.95,171.02 813.82,170.32 815.68,169.65 817.55,169 819.41,168.37 821.28,167.77 823.14,167.19 825.01,166.62 826.87,166.08 828.74,165.56 830.6,165.06 832.47,164.58 834.33,164.11 836.2,163.66 838.07,163.23 839.93,162.82 841.8,162.42 843.66,162.04 845.53,161.68 847.39,161.32 849.26,160.98 851.12,160.66 852.99,160.35 854.85,160.05 856.72,159.76 858.58,159.49 860.45,159.22 862.31,158.97 864.18,158.73 866.04,158.49 867.91,158.27 869.77,158.06 871.64,157.85 873.5,157.66 875.37,157.47 877.24,157.29 879.1,157.12 880.97,156.95 882.83,156.79 884.7,156.64 886.56,156.5 888.43,156.36 890.29,156.23 892.16,156.1 894.02,155.98 895.89,155.86 897.75,155.75 899.62,155.65 901.48,155.54 903.35,155.45 905.21,155.35 907.08,155.26 908.94,155.18 910.81,155.1 912.67,155.02 914.54,154.95 916.41,154.88 918.27,154.81 920.14,154.74 922,154.68 923.87,154.62 925.73,154.56 927.6,154.51 929.46,154.46 931.33,154.41 933.19,154.36 935.06,154.32 936.92,154.27 938.79,154.23 940.65,154.19 942.52,154.16 944.38,154.12 946.25,154.08 948.11,154.05 949.98,154.02 951.84,153.99 953.71,153.96 955.57,153.93 957.44,153.91 959.31,153.88 961.17,153.86 963.04,153.84 964.9,153.81 966.77,153.79 968.63,153.77 970.5,153.76 972.36,153.74 974.23,153.72 976.09,153.7 977.96,153.69 979.82,153.67 981.69,153.66 983.55,153.64 985.42,153.63 987.28,153.62 989.15,153.61 991.01,153.6 992.88,153.58 994.74,153.57 996.61,153.56 998.48,153.55 1000.34,153.55 1002.21,153.54 1004.07,153.53 1005.94,153.52 1007.8,153.51 1009.67,153.51 1011.53,153.5 1013.4,153.49 1015.26,153.49 1017.13,153.48 1018.99,153.47 1020.86,153.47 1022.72,153.46 1024.59,153.46 1026.45,153.45 1028.32,153.45 1030.18,153.44 1032.05,153.44 1033.91,153.44 1035.78,153.43 1037.65,153.43 1039.51,153.43 1041.38,153.42 1043.24,153.42 1045.11,153.42 1046.97,153.41 1048.84,153.41 1050.7,153.41 1052.57,153.41 1054.43,153.4 1056.3,153.4 1058.16,153.4 1060.03,153.4 1061.89,153.39 1063.76,153.39 1065.62,153.39 1067.49,153.39 1069.35,153.39 1071.22,153.39 1073.08,153.38 1074.95,153.38 1076.81,153.38 1078.68,153.38 1080.55,153.38 1082.41,153.38 1084.28,153.38 1086.14,153.38 1088.01,153.37 1089.87,153.37 1091.74,153.37 1093.6,153.37 1095.47,153.37 1097.33,153.37 1099.2,153.37 1101.06,153.37 1102.93,153.37 1104.79,153.37 1106.66,153.37 1108.52,153.37 1110.39,153.36 1112.25,153.36 1114.12,153.36 1115.98,153.36 1117.85,153.36"/>
<polyline stroke="#77AC30" points="187.1,475.94 188.97,475.94 190.83,475.94 192.7,475.94 194.56,475.94 196.43,475.94 198.29,475.94 200.16,475.94 202.02,475.94 203.89,475.94 205.75,475.94 207.62,475.94 209.48,475.94 211.35,475.94 213.21,475.94 215.08,475.94 216.94,475.94 218.81,475.94 220.67,475.94 222.54,475.93 224.4,475.93 226.27,475.93 228.14,475.93 230,475.93 231.87,475.93 233.73,475.93 235.6,475.93 237.46,475.93 239.33,475.93 241.19,475.93 243.06,475.93 244.92,475.92 246.79,475.92 248.65,475.92 250.52,475.92 252.38,475.92 254.25,475.92 256.11,475.92 257.98,475.91 259.84,475.91 261.71,475.91 263.57,475.91 265.44,475.91 267.3,475.9 269.17,475.9 271.04,475.9 272.9,475.9 274.77,475.9 276.63,475.89 278.5,475.89 280.36,475.89 282.23,475.88 284.09,475.88 285.96,475.88 287.82,475.87 289.69,475.87 291.55,475.87 293.42,475.86 295.28,475.86 297.15,475.85 299.01,475.85 300.88,475.85 302.74,475.84 304.61,475.84 306.47,475.83 308.34,475.82 310.21,475.82 312.07,475.81 313.94,475.81 315.8,475.8 317.67,475.79 319.53,475.78 321.4,475.78 323.26,475.77 325.13,475.76 326.99,475.75 328.86,475.74 330.72,475.73 332.59,475.72 334.45,475.71 336.32,475.7 338.18,475.69 340.05,475.68 341.91,475.66 343.78,475.65 345.64,475.63 347.51,475.62 349.38,475.6 351.24,475.59 353.11,475.57 354.97,475.55 356.84,475.53 358.7,475.51 360.57,475.49 362.43,475.47 364.3,475.45 366.16,475.43 368.03,475.4 369.89,475.38 371.76,475.35 373.62,475.32 375.49,475.29 377.35,475.26 379.22,475.23 381.08,475.2 382.95,475.16 384.81,475.12 386.68,475.08 388.54,475.04 390.41,475 392.28,474.96 394.14,474.91 396.01,474.86 397.87,474.81 399.74,474.76 401.6,474.7 403.47,474.64 405.33,474.58 407.2,474.52 409.06,474.45 410.93,474.38 412.79,474.31 414.66,474.23 416.52,474.15 418.39,474.07 420.25,473.98 422.12,473.89 423.98,473.79 425.85,473.69 427.71,473.59 429.58,473.48 431.45,473.36 433.31,473.25 435.18,473.12 437.04,472.99 438.91,472.85 440.77,472.71 442.64,472.56 444.5,472.41 446.37,472.24 448.23,472.07 450.1,471.9 451.96,471.71 453.83,471.52 455.69,471.32 457.56,471.11 459.42,470.89 461.29,470.66 463.15,470.42 465.02,470.17 466.88,469.91 468.75,469.64 470.62,469.36 472.48,469.06 474.35,468.75 476.21,468.43 478.08,468.1 479.94,467.75 481.81,467.39 483.67,467.01 485.54,466.62 487.4,466.21 489.27,465.79 491.13,465.35 493,464.89 494.86,464.41 496.73,463.92 498.59,463.4 500.46,462.87 502.32,462.32 504.19,461.74 506.05,461.14 507.92,460.52 509.78,459.88 511.65,459.22 513.52,458.53 515.38,457.82 517.25,457.08 519.11,456.31 520.98,455.52 522.84,454.71 524.71,453.86 526.57,452.99 528.44,452.09 530.3,451.16 532.17,450.21 534.03,449.22 535.9,448.2 537.76,447.15 539.63,446.07 541.49,444.97 543.36,443.82 545.22,442.65 547.09,441.45 548.95,440.21 550.82,438.94 552.69,437.64 554.55,436.3 556.42,434.94 558.28,433.54 560.15,432.1 562.01,430.64 563.88,429.14 565.74,427.61 567.61,426.05 569.47,424.45 571.34,422.82 573.2,421.16 575.07,419.47 576.93,417.75 578.8,415.99 580.66,414.21 582.53,412.4 584.39,410.55 586.26,408.68 588.12,406.78 589.99,404.85 591.86,402.89 593.72,400.91 595.59,398.89 597.45,396.86 599.32,394.79 601.18,392.71 603.05,390.6 604.91,388.46 606.78,386.3 608.64,384.12 610.51,381.92 612.37,379.7 614.24,377.46 616.1,375.2 617.97,372.92 619.83,370.62 621.7,368.31 623.56,365.98 625.43,363.63 627.29,361.27 629.16,358.9 631.02,356.51 632.89,354.1 634.76,351.69 636.62,349.27 638.49,346.83 640.35,344.38 642.22,341.93 644.08,339.46 645.95,336.99 647.81,334.51 649.68,332.03 651.54,329.53 653.41,327.04 655.27,324.53 657.14,322.03 659,319.52 660.87,317.01 662.73,314.5 664.6,311.98 666.46,309.47 668.33,306.95 670.19,304.44 672.06,301.93 673.93,299.42 675.79,296.91 677.66,294.4 679.52,291.9 681.39,289.41 683.25,286.92 685.12,284.44 686.98,281.96 688.85,279.49 690.71,277.03 692.58,274.58 694.44,272.14 696.31,269.7 698.17,267.28 700.04,264.87 701.9,262.48 703.77,260.09 705.63,257.72 707.5,255.37 709.36,253.03 711.23,250.71 713.09,248.4 714.96,246.11 716.83,243.84 718.69,241.58 720.56,239.35 722.42,237.14 724.29,234.95 726.15,232.78 728.02,230.63 729.88,228.5 731.75,226.4 733.61,224.32 735.48,222.27 737.34,220.25 739.21,218.25 741.07,216.27 742.94,214.33 744.8,212.41 746.67,210.52 748.53,208.66 750.4,206.83 752.26,205.02 754.13,203.25 756,201.51 757.86,199.8 759.73,198.12 761.59,196.48 763.46,194.86 765.32,193.28 767.19,191.73 769.05,190.21 770.92,188.73 772.78,187.28 774.65,185.86 776.51,184.47 778.38,183.12 780.24,181.8 782.11,180.51 783.97,179.25 785.84,178.03 787.7,176.84 789.57,175.68 791.43,174.55 793.3,173.45 795.17,172.39 797.03,171.35 798.9,170.35 800.76,169.37 802.63,168.43 804.49,167.51 806.36,166.62 808.22,165.76 810.09,164.93 811.95,164.13 813.82,163.35 815.68,162.59 817.55,161.87 819.41,161.16 821.28,160.48 823.14,159.83 825.01,159.2 826.87,158.59 828.74,158 830.6,157.43 832.47,156.89 834.33,156.36 836.2,155.85 838.07,155.37 839.93,154.9 841.8,154.45 843.66,154.01 845.53,153.6 847.39,153.19 849.26,152.81 851.12,152.44 852.99,152.08 854.85,151.74 856.72,151.41 858.58,151.1 860.45,150.8 862.31,150.51 864.18,150.23 866.04,149.96 867.91,149.71 869.77,149.46 871.64,149.23 873.5,149 875.37,148.79 877.24,148.58 879.1,148.38 880.97,148.19 882.83,148.01 884.7,147.84 886.56,147.67 888.43,147.51 890.29,147.36 892.16,147.21 894.02,147.07 895.89,146.94 897.75,146.81 899.62,146.69 901.48,146.57 903.35,146.46 905.21,146.35 907.08,146.25 908.94,146.15 910.81,146.05 912.67,145.96 914.54,145.88 916.41,145.8 918.27,145.72 920.14,145.64 922,145.57 923.87,145.5 925.73,145.44 927.6,145.37 929.46,145.31 931.33,145.26 933.19,145.2 935.06,145.15 936.92,145.1 938.79,145.05 940.65,145.01 942.52,144.96 944.38,144.92 946.25,144.88 948.11,144.84 949.98,144.81 951.84,144.77 953.71,144.74 955.57,144.71 957.44,144.68 959.31,144.65 961.17,144.62 963.04,144.59 964.9,144.57 966.77,144.54 968.63,144.52 970.5,144.5 972.36,144.48 974.23,144.46 976.09,144.44 977.96,144.42 979.82,144.4 981.69,144.39 983.55,144.37 985.42,144.36 987.28,144.34 989.15,144.33 991.01,144.31 992.88,144.3 994.74,144.29 996.61,144.28 998.48,144.27 1000.34,144.26 1002.21,144.25 1004.07,144.24 1005.94,144.23 1007.8,144.22 1009.67,144.21 1011.53,144.2 1013.4,144.19 1015.26,144.19 1017.13,144.18 1018.99,144.17 1020.86,144.17 1022.72,144.16 1024.59,144.15 1026.45,144.15 1028.32,144.14 1030.18,144.14 1032.05,144.13 1033.91,144.13 1035.78,144.12 1037.65,144.12 1039.51,144.12 1041.38,144.11 1043.24,144.11 1045.11,144.11 1046.97,144.1 1048.84,144.1 1050.7,144.1 1052.57,144.09 1054.43,144.09 1056.3,144.09 1058.16,144.08 1060.03,144.08 1061.89,144.08 1063.76,144.08 1065.62,144.08 1067.49,144.07 1069.35,144.07 1071.22,144.07 1073.08,144.07 1074.95,144.07 1076.81,144.07 1078.68,144.06 1080.55,144.06 1082.41,144.06 1084.28,144.06 1086.14,144.06 1088.01,144.06 1089.87,144.06 1091.74,144.05 1093.6,144.05 1095.47,144.05 1097.33,144.05 1099.2,144.05 1101.06,144.05 1102.93,144.05 1104.79,144.05 1106.66,144.05 1108.52,144.05 1110.39,144.05 1112.25,144.05 1114.12,144.04 1115.98,144.04 1117.85,144.04"/>
<polyline stroke="#4DBEEE" points="187.1,475.94 188.97,475.94 190.83,475.94 192.7,475.94 194.56,475.94 196.43,475.94 198.29,475.94 200.16,475.94 202.02,475.94 203.89,475.94 205.75,475.94 207.62,475.94 209.48,475.94 211.35,475.94 213.21,475.94 215.08,475.94 216.94,475.94 218.81,475.94 220.67,475.94 222.54,475.93 224.4,475.93 226.27,475.93 228.14,475.93 230,475.93 231.87,475.93 233.73,475.93 235.6,475.93 237.46,475.93 239.33,475.93 241.19,475.93 243.06,475.93 244.92,475.92 246.79,475.92 248.65,475.92 250.52,475.92 252.38,475.92 254.25,475.92 256.11,475.92 257.98,475.91 259.84,475.91 261.71,475.91 263.57,475.91 265.44,475.91 267.3,475.9 269.17,475.9 271.04,475.9 272.9,475.9 274.77,475.9 276.63,475.89 278.5,475.89 280.36,475.89 282.23,475.88 284.09,475.88 285.96,475.88 287.82,475.87 289.69,475.87 291.55,475.87 293.42,475.86 295.28,475.86 297.15,475.85 299.01,475.85 300.88,475.85 302.74,475.84 304.61,475.84 306.47,475.83 308.34,475.82 310.21,475.82 312.07,475.81 313.94,475.81 315.8,475.8 317.67,475.79 319.53,475.78 321.4,475.78 323.26,475.77 325.13,475.76 326.99,475.75 328.86,475.74 330.72,475.73 332.59,475.72 334.45,475.71 336.32,475.7 338.18,475.69 340.05,475.68 341.91,475.66 343.78,475.65 345.64,475.63 347.51,475.62 349.38,475.6 351.24,475.59 353.11,475.57 354.97,475.55 356.84,475.53 358.7,475.51 360.57,475.49 362.43,475.47 364.3,475.45 366.16,475.43 368.03,475.4 369.89,475.38 371.76,475.35 373.62,475.32 375.49,475.29 377.35,475.26 379.22,475.23 381.08,475.19 382.95,475.16 384.81,475.12 386.68,475.08 388.54,475.04 390.41,475 392.28,474.96 394.14,474.91 396.01,474.86 397.87,474.81 399.74,474.76 401.6,474.7 403.47,474.64 405.33,474.58 407.2,474.52 409.06,474.45 410.93,474.38 412.79,474.31 414.66,474.23 416.52,474.15 418.39,474.07 420.25,473.98 422.12,473.89 423.98,473.79 425.85,473.69 427.71,473.59 429.58,473.48 431.45,473.36 433.31,473.24 435.18,473.12 437.04,472.99 438.91,472.85 440.77,472.71 442.64,472.56 444.5,472.4 446.37,472.24 448.23,472.07 450.1,471.89 451.96,471.71 453.83,471.52 455.69,471.31 457.56,471.1 459.42,470.88 461.29,470.65 463.15,470.41 465.02,470.17 466.88,469.91 468.75,469.63 470.62,469.35 472.48,469.06 474.35,468.75 476.21,468.43 478.08,468.09 479.94,467.75 481.81,467.38 483.67,467.01 485.54,466.62 487.4,466.21 489.27,465.78 491.13,465.34 493,464.88 494.86,464.41 496.73,463.91 498.59,463.4 500.46,462.86 502.32,462.31 504.19,461.73 506.05,461.13 507.92,460.51 509.78,459.87 511.65,459.2 513.52,458.52 515.38,457.8 517.25,457.06 519.11,456.3 520.98,455.51 522.84,454.69 524.71,453.84 526.57,452.97 528.44,452.07 530.3,451.14 532.17,450.18 534.03,449.2 535.9,448.18 537.76,447.13 539.63,446.05 541.49,444.94 543.36,443.8 545.22,442.62 547.09,441.42 548.95,440.18 550.82,438.91 552.69,437.6 554.55,436.27 556.42,434.9 558.28,433.5 560.15,432.06 562.01,430.59 563.88,429.09 565.74,427.56 567.61,425.99 569.47,424.4 571.34,422.77 573.2,421.1 575.07,419.41 576.93,417.68 578.8,415.93 580.66,414.14 582.53,412.32 584.39,410.48 586.26,408.6 588.12,406.69 589.99,404.76 591.86,402.8 593.72,400.81 595.59,398.79 597.45,396.75 599.32,394.68 601.18,392.59 603.05,390.48 604.91,388.34 606.78,386.17 608.64,383.99 610.51,381.78 612.37,379.55 614.24,377.3 616.1,375.03 617.97,372.75 619.83,370.44 621.7,368.12 623.56,365.78 625.43,363.43 627.29,361.06 629.16,358.67 631.02,356.27 632.89,353.86 634.76,351.43 636.62,348.99 638.49,346.55 640.35,344.09 642.22,341.62 644.08,339.14 645.95,336.65 647.81,334.16 649.68,331.66 651.54,329.15 653.41,326.63 655.27,324.11 657.14,321.59 659,319.06 660.87,316.53 662.73,313.99 664.6,311.46 666.46,308.92 668.33,306.38 670.19,303.84 672.06,301.3 673.93,298.77 675.79,296.23 677.66,293.7 679.52,291.17 681.39,288.64 683.25,286.12 685.12,283.6 686.98,281.09 688.85,278.58 690.71,276.08 692.58,273.59 694.44,271.11 696.31,268.63 698.17,266.17 700.04,263.71 701.9,261.27 703.77,258.84 705.63,256.42 707.5,254.01 709.36,251.62 711.23,249.24 713.09,246.87 714.96,244.52 716.83,242.19 718.69,239.88 720.56,237.58 722.42,235.3 724.29,233.04 726.15,230.8 728.02,228.58 729.88,226.38 731.75,224.21 733.61,222.05 735.48,219.92 737.34,217.82 739.21,215.74 741.07,213.68 742.94,211.65 744.8,209.64 746.67,207.67 748.53,205.72 750.4,203.79 752.26,201.9 754.13,200.04 756,198.2 757.86,196.4 759.73,194.62 761.59,192.88 763.46,191.17 765.32,189.49 767.19,187.84 769.05,186.22 770.92,184.64 772.78,183.09 774.65,181.57 776.51,180.08 778.38,178.63 780.24,177.21 782.11,175.82 783.97,174.46 785.84,173.14 787.7,171.85 789.57,170.59 791.43,169.37 793.3,168.18 795.17,167.02 797.03,165.89 798.9,164.79 800.76,163.72 802.63,162.69 804.49,161.68 806.36,160.71 808.22,159.76 810.09,158.84 811.95,157.96 813.82,157.1 815.68,156.26 817.55,155.46 819.41,154.68 821.28,153.92 823.14,153.2 825.01,152.49 826.87,151.81 828.74,151.16 830.6,150.52 832.47,149.91 834.33,149.33 836.2,148.76 838.07,148.21 839.93,147.69 841.8,147.18 843.66,146.69 845.53,146.22 847.39,145.77 849.26,145.34 851.12,144.92 852.99,144.52 854.85,144.13 856.72,143.76 858.58,143.41 860.45,143.07 862.31,142.74 864.18,142.42 866.04,142.12 867.91,141.83 869.77,141.55 871.64,141.29 873.5,141.03 875.37,140.79 877.24,140.55 879.1,140.33 880.97,140.11 882.83,139.9 884.7,139.7 886.56,139.51 888.43,139.33 890.29,139.16 892.16,138.99 894.02,138.83 895.89,138.68 897.75,138.53 899.62,138.39 901.48,138.26 903.35,138.13 905.21,138.01 907.08,137.89 908.94,137.78 910.81,137.67 912.67,137.57 914.54,137.47 916.41,137.38 918.27,137.29 920.14,137.2 922,137.12 923.87,137.04 925.73,136.97 927.6,136.89 929.46,136.83 931.33,136.76 933.19,136.7 935.06,136.64 936.92,136.58 938.79,136.52 940.65,136.47 942.52,136.42 944.38,136.37 946.25,136.33 948.11,136.29 949.98,136.24 951.84,136.2 953.71,136.17 955.57,136.13 957.44,136.09 959.31,136.06 961.17,136.03 963.04,136 964.9,135.97 966.77,135.94 968.63,135.92 970.5,135.89 972.36,135.87 974.23,135.84 976.09,135.82 977.96,135.8 979.82,135.78 981.69,135.76 983.55,135.74 985.42,135.73 987.28,135.71 989.15,135.69 991.01,135.68 992.88,135.66 994.74,135.65 996.61,135.64 998.48,135.62 1000.34,135.61 1002.21,135.6 1004.07,135.59 1005.94,135.58 1007.8,135.57 1009.67,135.56 1011.53,135.55 1013.4,135.54 1015.26,135.53 1017.13,135.52 1018.99,135.52 1020.86,135.51 1022.72,135.5 1024.59,135.5 1026.45,135.49 1028.32,135.48 1030.18,135.48 1032.05,135.47 1033.91,135.47 1035.78,135.46 1037.65,135.46 1039.51,135.45 1041.38,135.45 1043.24,135.44 1045.11,135.44 1046.97,135.44 1048.84,135.43 1050.7,135.43 1052.57,135.42 1054.43,135.42 1056.3,135.42 1058.16,135.42 1060.03,135.41 1061.89,135.41 1063.76,135.41 1065.62,135.41 1067.49,135.4 1069.35,135.4 1071.22,135.4 1073.08,135.4 1074.95,135.39 1076.81,135.39 1078.68,135.39 1080.55,135.39 1082.41,135.39 1084.28,135.39 1086.14,135.38 1088.01,135.38 1089.87,135.38 1091.74,135.38 1093.6,135.38 1095.47,135.38 1097.33,135.38 1099.2,135.38 1101.06,135.38 1102.93,135.37 1104.79,135.37 1106.66,135.37 1108.52,135.37 1110.39,135.37 1112.25,135.37 1114.12,135.37 1115.98,135.37 1117.85,135.37"/>
<polyline stroke="#A2142F" points="187.1,475.94 188.97,475.94 190.83,475.94 192.7,475.94 194.56,475.94 196.43,475.94 198.29,475.94 200.16,475.94 202.02,475.94 203.89,475.94 205.75,475.94 207.62,475.94 209.48,475.94 211.35,475.94 213.21,475.94 215.08,475.94 216.94,475.94 218.81,475.94 220.67,475.94 222.54,475.93 224.4,475.93 226.27,475.93 228.14,475.93 230,475.93 231.87,475.93 233.73,475.93 235.6,475.93 237.46,475.93 239.33,475.93 241.19,475.93 243.06,475.92 244.92,475.92 246.79,475.92 248.65,475.92 250.52,475.92 252.38,475.92 254.25,475.92 256.11,475.92 257.98,475.91 259.84,475.91 261.71,475.91 263.57,475.91 265.44,475.91 267.3,475.9 269.17,475.9 271.04,475.9 272.9,475.9 274.77,475.9 276.63,475.89 278.5,475.89 280.36,475.89 282.23,475.88 284.09,475.88 285.96,475.88 287.82,475.87 289.69,475.87 291.55,475.87 293.42,475.86 295.28,475.86 297.15,475.85 299.01,475.85 300.88,475.85 302.74,475.84 304.61,475.84 306.47,475.83 308.34,475.82 310.21,475.82 312.07,475.81 313.94,475.81 315.8,475.8 317.67,475.79 319.53,475.78 321.4,475.78 323.26,475.77 325.13,475.76 326.99,475.75 328.86,475.74 330.72,475.73 332.59,475.72 334.45,475.71 336.32,475.7 338.18,475.69 340.05,475.68 341.91,475.66 343.78,475.65 345.64,475.63 347.51,475.62 349.38,475.6 351.24,475.59 353.11,475.57 354.97,475.55 356.84,475.53 358.7,475.51 360.57,475.49 362.43,475.47 364.3,475.45 366.16,475.43 368.03,475.4 369.89,475.38 371.76,475.35 373.62,475.32 375.49,475.29 377.35,475.26 379.22,475.23 381.08,475.19 382.95,475.16 384.81,475.12 386.68,475.08 388.54,475.04 390.41,475 392.28,474.96 394.14,474.91 396.01,474.86 397.87,474.81 399.74,474.76 401.6,474.7 403.47,474.64 405.33,474.58 407.2,474.52 409.06,474.45 410.93,474.38 412.79,474.31 414.66,474.23 416.52,474.15 418.39,474.07 420.25,473.98 422.12,473.89 423.98,473.79 425.85,473.69 427.71,473.59 429.58,473.48 431.45,473.36 433.31,473.24 435.18,473.12 437.04,472.99 438.91,472.85 440.77,472.71 442.64,472.56 444.5,472.4 446.37,472.24 448.23,472.07 450.1,471.89 451.96,471.71 453.83,471.51 455.69,471.31 457.56,471.1 459.42,470.88 461.29,470.65 463.15,470.41 465.02,470.16 466.88,469.9 468.75,469.63 470.62,469.35 472.48,469.05 474.35,468.74 476.21,468.42 478.08,468.09 479.94,467.74 481.81,467.38 483.67,467 485.54,466.61 487.4,466.2 489.27,465.78 491.13,465.34 493,464.88 494.86,464.4 496.73,463.9 498.59,463.39 500.46,462.85 502.32,462.3 504.19,461.72 506.05,461.12 507.92,460.5 509.78,459.86 511.65,459.19 513.52,458.5 515.38,457.79 517.25,457.05 519.11,456.29 520.98,455.49 522.84,454.68 524.71,453.83 526.57,452.96 528.44,452.06 530.3,451.13 532.17,450.17 534.03,449.18 535.9,448.16 537.76,447.11 539.63,446.03 541.49,444.92 543.36,443.77 545.22,442.6 547.09,441.39 548.95,440.15 550.82,438.88 552.69,437.58 554.55,436.24 556.42,434.87 558.28,433.46 560.15,432.03 562.01,430.56 563.88,429.06 565.74,427.52 567.61,425.95 569.47,424.35 571.34,422.72 573.2,421.06 575.07,419.36 576.93,417.63 578.8,415.87 580.66,414.08 582.53,412.26 584.39,410.41 586.26,408.53 588.12,406.63 589.99,404.69 591.86,402.72 593.72,400.73 595.59,398.71 597.45,396.67 599.32,394.59 601.18,392.5 603.05,390.38 604.91,388.23 606.78,386.06 608.64,383.87 610.51,381.66 612.37,379.43 614.24,377.17 616.1,374.9 617.97,372.61 619.83,370.29 621.7,367.97 623.56,365.62 625.43,363.26 627.29,360.88 629.16,358.48 631.02,356.08 632.89,353.65 634.76,351.22 636.62,348.77 638.49,346.31 640.35,343.84 642.22,341.36 644.08,338.87 645.95,336.37 647.81,333.87 649.68,331.35 651.54,328.83 653.41,326.3 655.27,323.77 657.14,321.23 659,318.68 660.87,316.13 662.73,313.58 664.6,311.03 666.46,308.47 668.33,305.91 670.19,303.35 672.06,300.79 673.93,298.23 675.79,295.67 677.66,293.11 679.52,290.55 681.39,288 683.25,285.45 685.12,282.9 686.98,280.36 688.85,277.83 690.71,275.3 692.58,272.77 694.44,270.25 696.31,267.74 698.17,265.24 700.04,262.75 701.9,260.26 703.77,257.79 705.63,255.33 707.5,252.87 709.36,250.44 711.23,248.01 713.09,245.6 714.96,243.2 716.83,240.81 718.69,238.44 720.56,236.09 722.42,233.75 724.29,231.44 726.15,229.14 728.02,226.86 729.88,224.59 731.75,222.35 733.61,220.13 735.48,217.93 737.34,215.76 739.21,213.6 741.07,211.47 742.94,209.37 744.8,207.29 746.67,205.23 748.53,203.2 750.4,201.2 752.26,199.22 754.13,197.28 756,195.36 757.86,193.47 759.73,191.61 761.59,189.77 763.46,187.97 765.32,186.2 767.19,184.46 769.05,182.76 770.92,181.08 772.78,179.44 774.65,177.82 776.51,176.24 778.38,174.7 780.24,173.18 782.11,171.7 783.97,170.25 785.84,168.84 787.7,167.45 789.57,166.1 791.43,164.79 793.3,163.5 795.17,162.25 797.03,161.03 798.9,159.85 800.76,158.69 802.63,157.57 804.49,156.48 806.36,155.41 808.22,154.38 810.09,153.38 811.95,152.41 813.82,151.47 815.68,150.56 817.55,149.68 819.41,148.82 821.28,147.99 823.14,147.19 825.01,146.42 826.87,145.67 828.74,144.94 830.6,144.25 832.47,143.57 834.33,142.92 836.2,142.29 838.07,141.69 839.93,141.1 841.8,140.54 843.66,140 845.53,139.47 847.39,138.97 849.26,138.49 851.12,138.02 852.99,137.57 854.85,137.14 856.72,136.73 858.58,136.33 860.45,135.95 862.31,135.58 864.18,135.22 866.04,134.89 867.91,134.56 869.77,134.25 871.64,133.95 873.5,133.66 875.37,133.38 877.24,133.12 879.1,132.87 880.97,132.62 882.83,132.39 884.7,132.17 886.56,131.95 888.43,131.75 890.29,131.55 892.16,131.36 894.02,131.18 895.89,131.01 897.75,130.84 899.62,130.69 901.48,130.53 903.35,130.39 905.21,130.25 907.08,130.12 908.94,129.99 910.81,129.87 912.67,129.75 914.54,129.64 916.41,129.54 918.27,129.43 920.14,129.34 922,129.24 923.87,129.15 925.73,129.07 927.6,128.99 929.46,128.91 931.33,128.83 933.19,128.76 935.06,128.7 936.92,128.63 938.79,128.57 940.65,128.51 942.52,128.45 944.38,128.4 946.25,128.35 948.11,128.3 949.98,128.25 951.84,128.2 953.71,128.16 955.57,128.12 957.44,128.08 959.31,128.04 961.17,128.01 963.04,127.97 964.9,127.94 966.77,127.91 968.63,127.88 970.5,127.85 972.36,127.82 974.23,127.79 976.09,127.77 977.96,127.75 979.82,127.72 981.69,127.7 983.55,127.68 985.42,127.66 987.28,127.64 989.15,127.62 991.01,127.61 992.88,127.59 994.74,127.57 996.61,127.56 998.48,127.54 1000.34,127.53 1002.21,127.52 1004.07,127.5 1005.94,127.49 1007.8,127.48 1009.67,127.47 1011.53,127.46 1013.4,127.45 1015.26,127.44 1017.13,127.43 1018.99,127.42 1020.86,127.41 1022.72,127.41 1024.59,127.4 1026.45,127.39 1028.32,127.38 1030.18,127.38 1032.05,127.37 1033.91,127.36 1035.78,127.36 1037.65,127.35 1039.51,127.35 1041.38,127.34 1043.24,127.34 1045.11,127.33 1046.97,127.33 1048.84,127.33 1050.7,127.32 1052.57,127.32 1054.43,127.31 1056.3,127.31 1058.16,127.31 1060.03,127.3 1061.89,127.3 1063.76,127.3 1065.62,127.3 1067.49,127.29 1069.35,127.29 1071.22,127.29 1073.08,127.29 1074.95,127.28 1076.81,127.28 1078.68,127.28 1080.55,127.28 1082.41,127.28 1084.28,127.27 1086.14,127.27 1088.01,127.27 1089.87,127.27 1091.74,127.27 1093.6,127.27 1095.47,127.26 1097.33,127.26 1099.2,127.26 1101.06,127.26 1102.93,127.26 1104.79,127.26 1106.66,127.26 1108.52,127.26 1110.39,127.26 1112.25,127.26 1114.12,127.25 1115.98,127.25 1117.85,127.25"/>
</g>
<path d="M243.5 511V818M275.5 511V818M299.5 511V818M317.5 511V818M331.5 511V818M344.5 511V818M355.5 511V818M364.5 511V818M429.5 511V818M462.5 511V818M485.5 511V818M503.5 511V818M518.5 511V818M530.5 511V818M541.5 511V818M550.5 511V818M615.5 511V818M648.5 511V818M671.5 511V818M689.5 511V818M704.5 511V818M716.5 511V818M727.5 511V818M737.5 511V818M801.5 511V818M834.5 511V818M857.5 511V818M875.5 511V818M890.5 511V818M902.5 511V818M913.5 511V818M923.5 511V818M987.5 511V818M1020.5 511V818M1043.5 511V818M1061.5 511V818M1076.5 511V818M1089.5 511V818M1099.5 511V818M1109.5 511V818" fill="none" stroke="#b4b4b4" stroke-width="1" stroke-dasharray="1 3"/>
<path d="M373.5 502.5V823.5M559.5 502.5V823.5M745.5 502.5V823.5M931.5 502.5V823.5M187.5 820.5H1117.5M187.5 715.5H1117.5M187.5 611.5H1117.5M187.5 506.5H1117.5" fill="none" stroke="#dcdcdc" stroke-width="1"/>
<path d="M187.1 823.95v-4.9M187.1 502.95v4.9M243.14 823.95v-4.9M243.14 502.95v4.9M275.92 823.95v-4.9M275.92 502.95v4.9M299.17 823.95v-4.9M299.17 502.95v4.9M317.21 823.95v-4.9M317.21 502.95v4.9M331.95 823.95v-4.9M331.95 502.95v4.9M344.42 823.95v-4.9M344.42 502.95v4.9M355.21 823.95v-4.9M355.21 502.95v4.9M364.73 823.95v-4.9M364.73 502.95v4.9M373.25 823.95v-4.9M373.25 502.95v4.9M429.29 823.95v-4.9M429.29 502.95v4.9M462.07 823.95v-4.9M462.07 502.95v4.9M485.32 823.95v-4.9M485.32 502.95v4.9M503.36 823.95v-4.9M503.36 502.95v4.9M518.1 823.95v-4.9M518.1 502.95v4.9M530.57 823.95v-4.9M530.57 502.95v4.9M541.36 823.95v-4.9M541.36 502.95v4.9M550.88 823.95v-4.9M550.88 502.95v4.9M559.4 823.95v-4.9M559.4 502.95v4.9M615.44 823.95v-4.9M615.44 502.95v4.9M648.22 823.95v-4.9M648.22 502.95v4.9M671.47 823.95v-4.9M671.47 502.95v4.9M689.51 823.95v-4.9M689.51 502.95v4.9M704.25 823.95v-4.9M704.25 502.95v4.9M716.72 823.95v-4.9M716.72 502.95v4.9M727.51 823.95v-4.9M727.51 502.95v4.9M737.03 823.95v-4.9M737.03 502.95v4.9M745.55 823.95v-4.9M745.55 502.95v4.9M801.59 823.95v-4.9M801.59 502.95v4.9M834.37 823.95v-4.9M834.37 502.95v4.9M857.62 823.95v-4.9M857.62 502.95v4.9M875.66 823.95v-4.9M875.66 502.95v4.9M890.4 823.95v-4.9M890.4 502.95v4.9M902.87 823.95v-4.9M902.87 502.95v4.9M913.66 823.95v-4.9M913.66 502.95v4.9M923.18 823.95v-4.9M923.18 502.95v4.9M931.7 823.95v-4.9M931.7 502.95v4.9M987.74 823.95v-4.9M987.74 502.95v4.9M1020.52 823.95v-4.9M1020.52 502.95v4.9M1043.77 823.95v-4.9M1043.77 502.95v4.9M1061.81 823.95v-4.9M1061.81 502.95v4.9M1076.55 823.95v-4.9M1076.55 502.95v4.9M1089.02 823.95v-4.9M1089.02 502.95v4.9M1099.81 823.95v-4.9M1099.81 502.95v4.9M1109.33 823.95v-4.9M1109.33 502.95v4.9M1117.85 823.95v-4.9M1117.85 502.95v4.9" fill="none" stroke="#666666" stroke-width="1"/>
<path d="M373.5 823.5V814M373.5 502.5V513M559.5 823.5V814M559.5 502.5V513M745.5 823.5V814M745.5 502.5V513M931.5 823.5V814M931.5 502.5V513M187.5 820.5H197M1117.5 820.5H1108M187.5 715.5H197M1117.5 715.5H1108M187.5 611.5H197M1117.5 611.5H1108M187.5 506.5H197M1117.5 506.5H1108M187.5 502.5H1117.5V823.5H187.5Z" fill="none" stroke="#666666" stroke-width="1"/>
<g clip-path="url(#cb)" fill="none" stroke-width="1.05" stroke-linejoin="round">
<polyline stroke="#0072BD" points="187.1,819.17 188.97,819.14 190.83,819.1 192.7,819.07 194.56,819.04 196.43,819 198.29,818.97 200.16,818.93 202.02,818.9 203.89,818.86 205.75,818.82 207.62,818.78 209.48,818.74 211.35,818.7 213.21,818.66 215.08,818.62 216.94,818.57 218.81,818.53 220.67,818.48 222.54,818.43 224.4,818.39 226.27,818.34 228.14,818.29 230,818.23 231.87,818.18 233.73,818.13 235.6,818.07 237.46,818.02 239.33,817.96 241.19,817.9 243.06,817.84 244.92,817.78 246.79,817.71 248.65,817.65 250.52,817.58 252.38,817.51 254.25,817.44 256.11,817.37 257.98,817.3 259.84,817.22 261.71,817.15 263.57,817.07 265.44,816.99 267.3,816.91 269.17,816.82 271.04,816.74 272.9,816.65 274.77,816.56 276.63,816.47 278.5,816.37 280.36,816.28 282.23,816.18 284.09,816.08 285.96,815.98 287.82,815.87 289.69,815.76 291.55,815.65 293.42,815.54 295.28,815.42 297.15,815.31 299.01,815.18 300.88,815.06 302.74,814.93 304.61,814.8 306.47,814.67 308.34,814.54 310.21,814.4 312.07,814.25 313.94,814.11 315.8,813.96 317.67,813.81 319.53,813.65 321.4,813.49 323.26,813.33 325.13,813.16 326.99,812.99 328.86,812.82 330.72,812.64 332.59,812.46 334.45,812.27 336.32,812.08 338.18,811.88 340.05,811.68 341.91,811.48 343.78,811.27 345.64,811.05 347.51,810.83 349.38,810.61 351.24,810.38 353.11,810.14 354.97,809.9 356.84,809.66 358.7,809.41 360.57,809.15 362.43,808.89 364.3,808.62 366.16,808.34 368.03,808.06 369.89,807.77 371.76,807.48 373.62,807.18 375.49,806.87 377.35,806.55 379.22,806.23 381.08,805.9 382.95,805.57 384.81,805.22 386.68,804.87 388.54,804.51 390.41,804.14 392.28,803.77 394.14,803.38 396.01,802.99 397.87,802.59 399.74,802.18 401.6,801.76 403.47,801.33 405.33,800.89 407.2,800.44 409.06,799.98 410.93,799.52 412.79,799.04 414.66,798.55 416.52,798.05 418.39,797.54 420.25,797.02 422.12,796.49 423.98,795.95 425.85,795.4 427.71,794.83 429.58,794.26 431.45,793.67 433.31,793.07 435.18,792.45 437.04,791.83 438.91,791.19 440.77,790.54 442.64,789.88 444.5,789.2 446.37,788.51 448.23,787.81 450.1,787.09 451.96,786.36 453.83,785.61 455.69,784.86 457.56,784.08 459.42,783.3 461.29,782.5 463.15,781.69 465.02,780.86 466.88,780.02 468.75,779.16 470.62,778.29 472.48,777.4 474.35,776.5 476.21,775.59 478.08,774.66 479.94,773.72 481.81,772.77 483.67,771.8 485.54,770.82 487.4,769.83 489.27,768.82 491.13,767.8 493,766.77 494.86,765.73 496.73,764.67 498.59,763.6 500.46,762.53 502.32,761.44 504.19,760.34 506.05,759.24 507.92,758.12 509.78,757 511.65,755.88 513.52,754.74 515.38,753.6 517.25,752.46 519.11,751.31 520.98,750.16 522.84,749.01 524.71,747.85 526.57,746.7 528.44,745.55 530.3,744.4 532.17,743.26 534.03,742.12 535.9,740.98 537.76,739.86 539.63,738.74 541.49,737.64 543.36,736.54 545.22,735.46 547.09,734.39 548.95,733.34 550.82,732.31 552.69,731.29 554.55,730.3 556.42,729.33 558.28,728.38 560.15,727.45 562.01,726.55 563.88,725.68 565.74,724.84 567.61,724.03 569.47,723.25 571.34,722.5 573.2,721.78 575.07,721.11 576.93,720.47 578.8,719.86 580.66,719.3 582.53,718.77 584.39,718.29 586.26,717.84 588.12,717.44 589.99,717.09 591.86,716.77 593.72,716.5 595.59,716.28 597.45,716.1 599.32,715.97 601.18,715.88 603.05,715.84 604.91,715.84 606.78,715.89 608.64,715.99 610.51,716.13 612.37,716.32 614.24,716.55 616.1,716.83 617.97,717.15 619.83,717.51 621.7,717.92 623.56,718.37 625.43,718.87 627.29,719.4 629.16,719.97 631.02,720.58 632.89,721.23 634.76,721.91 636.62,722.63 638.49,723.39 640.35,724.17 642.22,724.99 644.08,725.84 645.95,726.71 647.81,727.62 649.68,728.55 651.54,729.5 653.41,730.48 655.27,731.48 657.14,732.5 659,733.53 660.87,734.59 662.73,735.66 664.6,736.74 666.46,737.84 668.33,738.95 670.19,740.06 672.06,741.19 673.93,742.33 675.79,743.47 677.66,744.61 679.52,745.76 681.39,746.91 683.25,748.06 685.12,749.22 686.98,750.37 688.85,751.52 690.71,752.67 692.58,753.81 694.44,754.95 696.31,756.08 698.17,757.21 700.04,758.33 701.9,759.44 703.77,760.55 705.63,761.64 707.5,762.73 709.36,763.8 711.23,764.86 713.09,765.92 714.96,766.96 716.83,767.99 718.69,769.01 720.56,770.01 722.42,771 724.29,771.98 726.15,772.95 728.02,773.9 729.88,774.84 731.75,775.76 733.61,776.67 735.48,777.57 737.34,778.45 739.21,779.32 741.07,780.17 742.94,781.01 744.8,781.84 746.67,782.65 748.53,783.44 750.4,784.23 752.26,785 754.13,785.75 756,786.49 757.86,787.22 759.73,787.94 761.59,788.64 763.46,789.32 765.32,790 767.19,790.66 769.05,791.31 770.92,791.94 772.78,792.57 774.65,793.18 776.51,793.78 778.38,794.36 780.24,794.94 782.11,795.5 783.97,796.05 785.84,796.59 787.7,797.12 789.57,797.64 791.43,798.15 793.3,798.64 795.17,799.13 797.03,799.6 798.9,800.07 800.76,800.53 802.63,800.97 804.49,801.41 806.36,801.83 808.22,802.25 810.09,802.66 811.95,803.06 813.82,803.45 815.68,803.84 817.55,804.21 819.41,804.58 821.28,804.93 823.14,805.29 825.01,805.63 826.87,805.96 828.74,806.29 830.6,806.61 832.47,806.93 834.33,807.23 836.2,807.53 838.07,807.83 839.93,808.11 841.8,808.39 843.66,808.67 845.53,808.93 847.39,809.2 849.26,809.45 851.12,809.7 852.99,809.95 854.85,810.19 856.72,810.42 858.58,810.65 860.45,810.87 862.31,811.09 864.18,811.3 866.04,811.51 867.91,811.72 869.77,811.92 871.64,812.11 873.5,812.3 875.37,812.49 877.24,812.67 879.1,812.85 880.97,813.02 882.83,813.19 884.7,813.36 886.56,813.52 888.43,813.68 890.29,813.84 892.16,813.99 894.02,814.14 895.89,814.28 897.75,814.42 899.62,814.56 901.48,814.7 903.35,814.83 905.21,814.96 907.08,815.08 908.94,815.21 910.81,815.33 912.67,815.44 914.54,815.56 916.41,815.67 918.27,815.78 920.14,815.89 922,815.99 923.87,816.1 925.73,816.2 927.6,816.3 929.46,816.39 931.33,816.49 933.19,816.58 935.06,816.67 936.92,816.75 938.79,816.84 940.65,816.92 942.52,817 944.38,817.08 946.25,817.16 948.11,817.24 949.98,817.31 951.84,817.38 953.71,817.46 955.57,817.53 957.44,817.59 959.31,817.66 961.17,817.72 963.04,817.79 964.9,817.85 966.77,817.91 968.63,817.97 970.5,818.03 972.36,818.08 974.23,818.14 976.09,818.19 977.96,818.24 979.82,818.3 981.69,818.35 983.55,818.4 985.42,818.44 987.28,818.49 989.15,818.54 991.01,818.58 992.88,818.62 994.74,818.67 996.61,818.71 998.48,818.75 1000.34,818.79 1002.21,818.83 1004.07,818.87 1005.94,818.9 1007.8,818.94 1009.67,818.98 1011.53,819.01 1013.4,819.04 1015.26,819.08 1017.13,819.11 1018.99,819.14 1020.86,819.17 1022.72,819.2 1024.59,819.23 1026.45,819.26 1028.32,819.29 1030.18,819.32 1032.05,819.34 1033.91,819.37 1035.78,819.4 1037.65,819.42 1039.51,819.45 1041.38,819.47 1043.24,819.49 1045.11,819.52 1046.97,819.54 1048.84,819.56 1050.7,819.58 1052.57,819.6 1054.43,819.62 1056.3,819.64 1058.16,819.66 1060.03,819.68 1061.89,819.7 1063.76,819.72 1065.62,819.74 1067.49,819.75 1069.35,819.77 1071.22,819.79 1073.08,819.8 1074.95,819.82 1076.81,819.84 1078.68,819.85 1080.55,819.87 1082.41,819.88 1084.28,819.89 1086.14,819.91 1088.01,819.92 1089.87,819.93 1091.74,819.95 1093.6,819.96 1095.47,819.97 1097.33,819.98 1099.2,820 1101.06,820.01 1102.93,820.02 1104.79,820.03 1106.66,820.04 1108.52,820.05 1110.39,820.06 1112.25,820.07 1114.12,820.08 1115.98,820.09 1117.85,820.1"/>
<polyline stroke="#D95319" points="187.1,819 188.97,818.97 190.83,818.93 192.7,818.89 194.56,818.86 196.43,818.82 198.29,818.78 200.16,818.74 202.02,818.7 203.89,818.65 205.75,818.61 207.62,818.57 209.48,818.52 211.35,818.48 213.21,818.43 215.08,818.38 216.94,818.33 218.81,818.28 220.67,818.23 222.54,818.18 224.4,818.12 226.27,818.07 228.14,818.01 230,817.95 231.87,817.89 233.73,817.83 235.6,817.77 237.46,817.71 239.33,817.64 241.19,817.57 243.06,817.51 244.92,817.44 246.79,817.36 248.65,817.29 250.52,817.22 252.38,817.14 254.25,817.06 256.11,816.98 257.98,816.9 259.84,816.81 261.71,816.73 263.57,816.64 265.44,816.55 267.3,816.46 269.17,816.36 271.04,816.27 272.9,816.17 274.77,816.07 276.63,815.96 278.5,815.86 280.36,815.75 282.23,815.64 284.09,815.53 285.96,815.41 287.82,815.29 289.69,815.17 291.55,815.05 293.42,814.92 295.28,814.79 297.15,814.66 299.01,814.52 300.88,814.38 302.74,814.24 304.61,814.09 306.47,813.94 308.34,813.79 310.21,813.63 312.07,813.47 313.94,813.31 315.8,813.14 317.67,812.97 319.53,812.79 321.4,812.62 323.26,812.43 325.13,812.24 326.99,812.05 328.86,811.86 330.72,811.65 332.59,811.45 334.45,811.24 336.32,811.02 338.18,810.8 340.05,810.58 341.91,810.35 343.78,810.11 345.64,809.87 347.51,809.62 349.38,809.37 351.24,809.11 353.11,808.85 354.97,808.57 356.84,808.3 358.7,808.01 360.57,807.73 362.43,807.43 364.3,807.13 366.16,806.82 368.03,806.5 369.89,806.18 371.76,805.84 373.62,805.5 375.49,805.16 377.35,804.8 379.22,804.44 381.08,804.07 382.95,803.69 384.81,803.3 386.68,802.91 388.54,802.5 390.41,802.09 392.28,801.66 394.14,801.23 396.01,800.78 397.87,800.33 399.74,799.87 401.6,799.4 403.47,798.91 405.33,798.42 407.2,797.91 409.06,797.4 410.93,796.87 412.79,796.33 414.66,795.78 416.52,795.22 418.39,794.64 420.25,794.05 422.12,793.45 423.98,792.84 425.85,792.22 427.71,791.58 429.58,790.92 431.45,790.26 433.31,789.58 435.18,788.88 437.04,788.18 438.91,787.45 440.77,786.72 442.64,785.96 444.5,785.2 446.37,784.42 448.23,783.62 450.1,782.8 451.96,781.97 453.83,781.13 455.69,780.27 457.56,779.39 459.42,778.5 461.29,777.59 463.15,776.66 465.02,775.72 466.88,774.76 468.75,773.78 470.62,772.79 472.48,771.77 474.35,770.75 476.21,769.7 478.08,768.64 479.94,767.56 481.81,766.47 483.67,765.36 485.54,764.23 487.4,763.09 489.27,761.93 491.13,760.75 493,759.56 494.86,758.36 496.73,757.13 498.59,755.9 500.46,754.65 502.32,753.39 504.19,752.11 506.05,750.82 507.92,749.52 509.78,748.21 511.65,746.88 513.52,745.55 515.38,744.21 517.25,742.86 519.11,741.5 520.98,740.13 522.84,738.76 524.71,737.39 526.57,736.01 528.44,734.63 530.3,733.24 532.17,731.86 534.03,730.48 535.9,729.1 537.76,727.72 539.63,726.35 541.49,724.98 543.36,723.62 545.22,722.27 547.09,720.94 548.95,719.61 550.82,718.3 552.69,717 554.55,715.72 556.42,714.45 558.28,713.21 560.15,711.98 562.01,710.78 563.88,709.61 565.74,708.46 567.61,707.33 569.47,706.24 571.34,705.18 573.2,704.14 575.07,703.15 576.93,702.18 578.8,701.25 580.66,700.36 582.53,699.51 584.39,698.7 586.26,697.93 588.12,697.2 589.99,696.51 591.86,695.87 593.72,695.27 595.59,694.72 597.45,694.21 599.32,693.75 601.18,693.35 603.05,692.99 604.91,692.67 606.78,692.41 608.64,692.2 610.51,692.04 612.37,691.93 614.24,691.88 616.1,691.87 617.97,691.91 619.83,692.01 621.7,692.15 623.56,692.35 625.43,692.6 627.29,692.89 629.16,693.24 631.02,693.63 632.89,694.08 634.76,694.57 636.62,695.11 638.49,695.69 640.35,696.32 642.22,696.99 644.08,697.71 645.95,698.47 647.81,699.27 649.68,700.11 651.54,701 653.41,701.91 655.27,702.87 657.14,703.86 659,704.88 660.87,705.93 662.73,707.02 664.6,708.13 666.46,709.28 668.33,710.45 670.19,711.64 672.06,712.86 673.93,714.09 675.79,715.35 677.66,716.63 679.52,717.92 681.39,719.23 683.25,720.56 685.12,721.89 686.98,723.24 688.85,724.59 690.71,725.96 692.58,727.33 694.44,728.7 696.31,730.08 698.17,731.46 700.04,732.85 701.9,734.23 703.77,735.61 705.63,736.99 707.5,738.37 709.36,739.74 711.23,741.11 713.09,742.47 714.96,743.82 716.83,745.17 718.69,746.5 720.56,747.83 722.42,749.15 724.29,750.45 726.15,751.74 728.02,753.02 729.88,754.29 731.75,755.54 733.61,756.78 735.48,758.01 737.34,759.22 739.21,760.41 741.07,761.59 742.94,762.76 744.8,763.91 746.67,765.04 748.53,766.15 750.4,767.25 752.26,768.34 754.13,769.4 756,770.45 757.86,771.48 759.73,772.5 761.59,773.5 763.46,774.48 765.32,775.44 767.19,776.39 769.05,777.32 770.92,778.24 772.78,779.14 774.65,780.02 776.51,780.89 778.38,781.73 780.24,782.57 782.11,783.39 783.97,784.19 785.84,784.98 787.7,785.75 789.57,786.5 791.43,787.24 793.3,787.97 795.17,788.68 797.03,789.38 798.9,790.07 800.76,790.74 802.63,791.39 804.49,792.03 806.36,792.66 808.22,793.28 810.09,793.88 811.95,794.47 813.82,795.05 815.68,795.62 817.55,796.17 819.41,796.72 821.28,797.25 823.14,797.77 825.01,798.27 826.87,798.77 828.74,799.26 830.6,799.73 832.47,800.2 834.33,800.66 836.2,801.1 838.07,801.54 839.93,801.97 841.8,802.38 843.66,802.79 845.53,803.19 847.39,803.58 849.26,803.96 851.12,804.34 852.99,804.7 854.85,805.06 856.72,805.41 858.58,805.75 860.45,806.08 862.31,806.41 864.18,806.73 866.04,807.04 867.91,807.34 869.77,807.64 871.64,807.93 873.5,808.22 875.37,808.5 877.24,808.77 879.1,809.03 880.97,809.29 882.83,809.55 884.7,809.8 886.56,810.04 888.43,810.28 890.29,810.51 892.16,810.74 894.02,810.96 895.89,811.18 897.75,811.39 899.62,811.6 901.48,811.8 903.35,812 905.21,812.19 907.08,812.38 908.94,812.56 910.81,812.74 912.67,812.92 914.54,813.09 916.41,813.26 918.27,813.43 920.14,813.59 922,813.74 923.87,813.9 925.73,814.05 927.6,814.2 929.46,814.34 931.33,814.48 933.19,814.62 935.06,814.75 936.92,814.88 938.79,815.01 940.65,815.13 942.52,815.26 944.38,815.38 946.25,815.49 948.11,815.61 949.98,815.72 951.84,815.83 953.71,815.93 955.57,816.04 957.44,816.14 959.31,816.24 961.17,816.34 963.04,816.43 964.9,816.52 966.77,816.61 968.63,816.7 970.5,816.79 972.36,816.87 974.23,816.96 976.09,817.04 977.96,817.12 979.82,817.19 981.69,817.27 983.55,817.34 985.42,817.41 987.28,817.49 989.15,817.55 991.01,817.62 992.88,817.69 994.74,817.75 996.61,817.81 998.48,817.87 1000.34,817.93 1002.21,817.99 1004.07,818.05 1005.94,818.11 1007.8,818.16 1009.67,818.21 1011.53,818.27 1013.4,818.32 1015.26,818.37 1017.13,818.42 1018.99,818.46 1020.86,818.51 1022.72,818.55 1024.59,818.6 1026.45,818.64 1028.32,818.69 1030.18,818.73 1032.05,818.77 1033.91,818.81 1035.78,818.85 1037.65,818.88 1039.51,818.92 1041.38,818.96 1043.24,818.99 1045.11,819.03 1046.97,819.06 1048.84,819.09 1050.7,819.12 1052.57,819.16 1054.43,819.19 1056.3,819.22 1058.16,819.25 1060.03,819.27 1061.89,819.3 1063.76,819.33 1065.62,819.36 1067.49,819.38 1069.35,819.41 1071.22,819.43 1073.08,819.46 1074.95,819.48 1076.81,819.5 1078.68,819.53 1080.55,819.55 1082.41,819.57 1084.28,819.59 1086.14,819.61 1088.01,819.63 1089.87,819.65 1091.74,819.67 1093.6,819.69 1095.47,819.71 1097.33,819.73 1099.2,819.74 1101.06,819.76 1102.93,819.78 1104.79,819.8 1106.66,819.81 1108.52,819.83 1110.39,819.84 1112.25,819.86 1114.12,819.87 1115.98,819.89 1117.85,819.9"/>
<polyline stroke="#EDB120" points="187.1,818.9 188.97,818.86 190.83,818.83 192.7,818.79 194.56,818.75 196.43,818.71 198.29,818.66 200.16,818.62 202.02,818.58 203.89,818.53 205.75,818.49 207.62,818.44 209.48,818.39 211.35,818.34 213.21,818.29 215.08,818.24 216.94,818.19 218.81,818.13 220.67,818.08 222.54,818.02 224.4,817.96 226.27,817.9 228.14,817.84 230,817.78 231.87,817.72 233.73,817.65 235.6,817.59 237.46,817.52 239.33,817.45 241.19,817.38 243.06,817.31 244.92,817.23 246.79,817.15 248.65,817.08 250.52,817 252.38,816.91 254.25,816.83 256.11,816.75 257.98,816.66 259.84,816.57 261.71,816.48 263.57,816.38 265.44,816.29 267.3,816.19 269.17,816.09 271.04,815.98 272.9,815.88 274.77,815.77 276.63,815.66 278.5,815.55 280.36,815.43 282.23,815.32 284.09,815.19 285.96,815.07 287.82,814.94 289.69,814.81 291.55,814.68 293.42,814.55 295.28,814.41 297.15,814.27 299.01,814.12 300.88,813.97 302.74,813.82 304.61,813.66 306.47,813.5 308.34,813.34 310.21,813.17 312.07,813 313.94,812.83 315.8,812.65 317.67,812.47 319.53,812.28 321.4,812.09 323.26,811.89 325.13,811.69 326.99,811.49 328.86,811.28 330.72,811.06 332.59,810.84 334.45,810.62 336.32,810.39 338.18,810.15 340.05,809.91 341.91,809.67 343.78,809.42 345.64,809.16 347.51,808.89 349.38,808.62 351.24,808.35 353.11,808.07 354.97,807.78 356.84,807.48 358.7,807.18 360.57,806.87 362.43,806.56 364.3,806.23 366.16,805.9 368.03,805.56 369.89,805.22 371.76,804.86 373.62,804.5 375.49,804.13 377.35,803.75 379.22,803.36 381.08,802.97 382.95,802.56 384.81,802.15 386.68,801.73 388.54,801.29 390.41,800.85 392.28,800.4 394.14,799.93 396.01,799.46 397.87,798.98 399.74,798.48 401.6,797.98 403.47,797.46 405.33,796.93 407.2,796.39 409.06,795.84 410.93,795.28 412.79,794.7 414.66,794.11 416.52,793.51 418.39,792.9 420.25,792.27 422.12,791.63 423.98,790.97 425.85,790.3 427.71,789.62 429.58,788.92 431.45,788.21 433.31,787.48 435.18,786.74 437.04,785.98 438.91,785.21 440.77,784.42 442.64,783.61 444.5,782.79 446.37,781.95 448.23,781.1 450.1,780.23 451.96,779.34 453.83,778.43 455.69,777.51 457.56,776.57 459.42,775.61 461.29,774.63 463.15,773.64 465.02,772.62 466.88,771.59 468.75,770.54 470.62,769.47 472.48,768.38 474.35,767.28 476.21,766.15 478.08,765.01 479.94,763.85 481.81,762.67 483.67,761.47 485.54,760.26 487.4,759.02 489.27,757.77 491.13,756.5 493,755.21 494.86,753.9 496.73,752.58 498.59,751.24 500.46,749.88 502.32,748.51 504.19,747.12 506.05,745.72 507.92,744.31 509.78,742.88 511.65,741.43 513.52,739.98 515.38,738.51 517.25,737.03 519.11,735.54 520.98,734.04 522.84,732.53 524.71,731.02 526.57,729.5 528.44,727.97 530.3,726.44 532.17,724.9 534.03,723.37 535.9,721.83 537.76,720.29 539.63,718.76 541.49,717.23 543.36,715.7 545.22,714.18 547.09,712.66 548.95,711.16 550.82,709.66 552.69,708.18 554.55,706.71 556.42,705.25 558.28,703.81 560.15,702.39 562.01,700.99 563.88,699.61 565.74,698.25 567.61,696.92 569.47,695.61 571.34,694.33 573.2,693.08 575.07,691.86 576.93,690.67 578.8,689.51 580.66,688.39 582.53,687.3 584.39,686.25 586.26,685.24 588.12,684.27 589.99,683.34 591.86,682.45 593.72,681.61 595.59,680.81 597.45,680.05 599.32,679.34 601.18,678.68 603.05,678.06 604.91,677.5 606.78,676.98 608.64,676.51 610.51,676.1 612.37,675.73 614.24,675.42 616.1,675.16 617.97,674.95 619.83,674.79 621.7,674.69 623.56,674.63 625.43,674.64 627.29,674.69 629.16,674.8 631.02,674.96 632.89,675.17 634.76,675.43 636.62,675.75 638.49,676.12 640.35,676.53 642.22,677 644.08,677.52 645.95,678.09 647.81,678.71 649.68,679.37 651.54,680.08 653.41,680.84 655.27,681.64 657.14,682.49 659,683.38 660.87,684.31 662.73,685.28 664.6,686.3 666.46,687.35 668.33,688.44 670.19,689.56 672.06,690.72 673.93,691.91 675.79,693.13 677.66,694.39 679.52,695.67 681.39,696.98 683.25,698.31 685.12,699.67 686.98,701.05 688.85,702.45 690.71,703.88 692.58,705.31 694.44,706.77 696.31,708.24 698.17,709.73 700.04,711.22 701.9,712.73 703.77,714.24 705.63,715.76 707.5,717.29 709.36,718.82 711.23,720.36 713.09,721.9 714.96,723.43 716.83,724.97 718.69,726.5 720.56,728.03 722.42,729.56 724.29,731.08 726.15,732.6 728.02,734.1 729.88,735.6 731.75,737.09 733.61,738.57 735.48,740.04 737.34,741.49 739.21,742.94 741.07,744.37 742.94,745.78 744.8,747.18 746.67,748.57 748.53,749.94 750.4,751.3 752.26,752.64 754.13,753.96 756,755.26 757.86,756.55 759.73,757.82 761.59,759.07 763.46,760.31 765.32,761.52 767.19,762.72 769.05,763.9 770.92,765.06 772.78,766.2 774.65,767.33 776.51,768.43 778.38,769.52 780.24,770.59 782.11,771.63 783.97,772.67 785.84,773.68 787.7,774.67 789.57,775.65 791.43,776.61 793.3,777.55 795.17,778.47 797.03,779.38 798.9,780.26 800.76,781.14 802.63,781.99 804.49,782.83 806.36,783.65 808.22,784.45 810.09,785.24 811.95,786.01 813.82,786.77 815.68,787.51 817.55,788.24 819.41,788.95 821.28,789.65 823.14,790.33 825.01,791 826.87,791.65 828.74,792.3 830.6,792.92 832.47,793.54 834.33,794.14 836.2,794.73 838.07,795.3 839.93,795.87 841.8,796.42 843.66,796.96 845.53,797.48 847.39,798 849.26,798.5 851.12,799 852.99,799.48 854.85,799.95 856.72,800.42 858.58,800.87 860.45,801.31 862.31,801.74 864.18,802.17 866.04,802.58 867.91,802.99 869.77,803.38 871.64,803.77 873.5,804.15 875.37,804.52 877.24,804.88 879.1,805.23 880.97,805.58 882.83,805.92 884.7,806.25 886.56,806.57 888.43,806.88 890.29,807.19 892.16,807.5 894.02,807.79 895.89,808.08 897.75,808.36 899.62,808.64 901.48,808.91 903.35,809.17 905.21,809.43 907.08,809.68 908.94,809.92 910.81,810.16 912.67,810.4 914.54,810.63 916.41,810.85 918.27,811.07 920.14,811.29 922,811.5 923.87,811.7 925.73,811.9 927.6,812.1 929.46,812.29 931.33,812.48 933.19,812.66 935.06,812.84 936.92,813.01 938.79,813.18 940.65,813.35 942.52,813.51 944.38,813.67 946.25,813.83 948.11,813.98 949.98,814.13 951.84,814.27 953.71,814.41 955.57,814.55 957.44,814.69 959.31,814.82 961.17,814.95 963.04,815.08 964.9,815.2 966.77,815.32 968.63,815.44 970.5,815.55 972.36,815.67 974.23,815.78 976.09,815.88 977.96,815.99 979.82,816.09 981.69,816.19 983.55,816.29 985.42,816.39 987.28,816.48 989.15,816.57 991.01,816.66 992.88,816.75 994.74,816.83 996.61,816.92 998.48,817 1000.34,817.08 1002.21,817.16 1004.07,817.23 1005.94,817.31 1007.8,817.38 1009.67,817.45 1011.53,817.52 1013.4,817.59 1015.26,817.66 1017.13,817.72 1018.99,817.78 1020.86,817.85 1022.72,817.91 1024.59,817.97 1026.45,818.02 1028.32,818.08 1030.18,818.14 1032.05,818.19 1033.91,818.24 1035.78,818.29 1037.65,818.34 1039.51,818.39 1041.38,818.44 1043.24,818.49 1045.11,818.53 1046.97,818.58 1048.84,818.62 1050.7,818.67 1052.57,818.71 1054.43,818.75 1056.3,818.79 1058.16,818.83 1060.03,818.87 1061.89,818.9 1063.76,818.94 1065.62,818.97 1067.49,819.01 1069.35,819.04 1071.22,819.08 1073.08,819.11 1074.95,819.14 1076.81,819.17 1078.68,819.2 1080.55,819.23 1082.41,819.26 1084.28,819.29 1086.14,819.32 1088.01,819.34 1089.87,819.37 1091.74,819.4 1093.6,819.42 1095.47,819.45 1097.33,819.47 1099.2,819.49 1101.06,819.52 1102.93,819.54 1104.79,819.56 1106.66,819.58 1108.52,819.6 1110.39,819.62 1112.25,819.64 1114.12,819.66 1115.98,819.68 1117.85,819.7"/>
<polyline stroke="#7E2F8E" points="187.1,818.83 188.97,818.8 190.83,818.76 192.7,818.71 194.56,818.67 196.43,818.63 198.29,818.59 200.16,818.54 202.02,818.5 203.89,818.45 205.75,818.4 207.62,818.35 209.48,818.3 211.35,818.25 213.21,818.2 215.08,818.15 216.94,818.09 218.81,818.03 220.67,817.98 222.54,817.92 224.4,817.86 226.27,817.8 228.14,817.73 230,817.67 231.87,817.6 233.73,817.53 235.6,817.47 237.46,817.39 239.33,817.32 241.19,817.25 243.06,817.17 244.92,817.09 246.79,817.02 248.65,816.93 250.52,816.85 252.38,816.77 254.25,816.68 256.11,816.59 257.98,816.5 259.84,816.4 261.71,816.31 263.57,816.21 265.44,816.11 267.3,816.01 269.17,815.9 271.04,815.8 272.9,815.69 274.77,815.57 276.63,815.46 278.5,815.34 280.36,815.22 282.23,815.1 284.09,814.97 285.96,814.84 287.82,814.71 289.69,814.58 291.55,814.44 293.42,814.3 295.28,814.15 297.15,814.01 299.01,813.85 300.88,813.7 302.74,813.54 304.61,813.38 306.47,813.21 308.34,813.04 310.21,812.87 312.07,812.69 313.94,812.51 315.8,812.32 317.67,812.13 319.53,811.94 321.4,811.74 323.26,811.53 325.13,811.33 326.99,811.11 328.86,810.89 330.72,810.67 332.59,810.44 334.45,810.21 336.32,809.97 338.18,809.72 340.05,809.47 341.91,809.22 343.78,808.95 345.64,808.68 347.51,808.41 349.38,808.13 351.24,807.84 353.11,807.55 354.97,807.25 356.84,806.94 358.7,806.62 360.57,806.3 362.43,805.97 364.3,805.64 366.16,805.29 368.03,804.94 369.89,804.58 371.76,804.21 373.62,803.83 375.49,803.45 377.35,803.05 379.22,802.65 381.08,802.23 382.95,801.81 384.81,801.38 386.68,800.94 388.54,800.49 390.41,800.03 392.28,799.55 394.14,799.07 396.01,798.58 397.87,798.07 399.74,797.56 401.6,797.03 403.47,796.49 405.33,795.94 407.2,795.38 409.06,794.8 410.93,794.22 412.79,793.62 414.66,793 416.52,792.37 418.39,791.73 420.25,791.08 422.12,790.41 423.98,789.73 425.85,789.03 427.71,788.31 429.58,787.59 431.45,786.84 433.31,786.08 435.18,785.31 437.04,784.52 438.91,783.71 440.77,782.89 442.64,782.04 444.5,781.19 446.37,780.31 448.23,779.42 450.1,778.51 451.96,777.58 453.83,776.63 455.69,775.67 457.56,774.68 459.42,773.68 461.29,772.66 463.15,771.62 465.02,770.56 466.88,769.48 468.75,768.38 470.62,767.26 472.48,766.12 474.35,764.96 476.21,763.78 478.08,762.59 479.94,761.37 481.81,760.13 483.67,758.87 485.54,757.6 487.4,756.3 489.27,754.99 491.13,753.65 493,752.3 494.86,750.92 496.73,749.53 498.59,748.12 500.46,746.69 502.32,745.25 504.19,743.79 506.05,742.31 507.92,740.81 509.78,739.3 511.65,737.78 513.52,736.24 515.38,734.68 517.25,733.12 519.11,731.54 520.98,729.95 522.84,728.35 524.71,726.74 526.57,725.12 528.44,723.5 530.3,721.86 532.17,720.23 534.03,718.58 535.9,716.94 537.76,715.29 539.63,713.65 541.49,712 543.36,710.36 545.22,708.71 547.09,707.08 548.95,705.45 550.82,703.83 552.69,702.22 554.55,700.61 556.42,699.03 558.28,697.45 560.15,695.89 562.01,694.35 563.88,692.82 565.74,691.32 567.61,689.84 569.47,688.38 571.34,686.94 573.2,685.53 575.07,684.15 576.93,682.8 578.8,681.48 580.66,680.19 582.53,678.93 584.39,677.71 586.26,676.52 588.12,675.38 589.99,674.26 591.86,673.19 593.72,672.16 595.59,671.18 597.45,670.23 599.32,669.33 601.18,668.47 603.05,667.66 604.91,666.9 606.78,666.18 608.64,665.51 610.51,664.9 612.37,664.33 614.24,663.81 616.1,663.34 617.97,662.92 619.83,662.56 621.7,662.24 623.56,661.98 625.43,661.77 627.29,661.62 629.16,661.51 631.02,661.46 632.89,661.47 634.76,661.53 636.62,661.64 638.49,661.8 640.35,662.01 642.22,662.28 644.08,662.6 645.95,662.98 647.81,663.4 649.68,663.88 651.54,664.4 653.41,664.98 655.27,665.61 657.14,666.28 659,667 660.87,667.77 662.73,668.59 664.6,669.45 666.46,670.36 668.33,671.31 670.19,672.31 672.06,673.34 673.93,674.42 675.79,675.53 677.66,676.69 679.52,677.88 681.39,679.11 683.25,680.37 685.12,681.66 686.98,682.99 688.85,684.34 690.71,685.73 692.58,687.14 694.44,688.58 696.31,690.04 698.17,691.53 700.04,693.04 701.9,694.56 703.77,696.11 705.63,697.67 707.5,699.25 709.36,700.84 711.23,702.44 713.09,704.06 714.96,705.68 716.83,707.31 718.69,708.94 720.56,710.59 722.42,712.23 724.29,713.88 726.15,715.52 728.02,717.17 729.88,718.81 731.75,720.46 733.61,722.09 735.48,723.72 737.34,725.35 739.21,726.97 741.07,728.58 742.94,730.17 744.8,731.76 746.67,733.34 748.53,734.9 750.4,736.46 752.26,737.99 754.13,739.52 756,741.03 757.86,742.52 759.73,743.99 761.59,745.45 763.46,746.9 765.32,748.32 767.19,749.73 769.05,751.12 770.92,752.49 772.78,753.84 774.65,755.17 776.51,756.48 778.38,757.78 780.24,759.05 782.11,760.31 783.97,761.54 785.84,762.76 787.7,763.95 789.57,765.13 791.43,766.28 793.3,767.42 795.17,768.53 797.03,769.63 798.9,770.71 800.76,771.76 802.63,772.8 804.49,773.82 806.36,774.82 808.22,775.8 810.09,776.76 811.95,777.71 813.82,778.64 815.68,779.54 817.55,780.43 819.41,781.31 821.28,782.16 823.14,783 825.01,783.82 826.87,784.63 828.74,785.42 830.6,786.19 832.47,786.95 834.33,787.69 836.2,788.42 838.07,789.13 839.93,789.82 841.8,790.5 843.66,791.17 845.53,791.82 847.39,792.46 849.26,793.09 851.12,793.7 852.99,794.3 854.85,794.89 856.72,795.46 858.58,796.02 860.45,796.57 862.31,797.11 864.18,797.63 866.04,798.15 867.91,798.65 869.77,799.14 871.64,799.62 873.5,800.09 875.37,800.55 877.24,801 879.1,801.44 880.97,801.87 882.83,802.29 884.7,802.7 886.56,803.11 888.43,803.5 890.29,803.89 892.16,804.26 894.02,804.63 895.89,804.99 897.75,805.34 899.62,805.68 901.48,806.02 903.35,806.35 905.21,806.67 907.08,806.98 908.94,807.29 910.81,807.59 912.67,807.88 914.54,808.17 916.41,808.45 918.27,808.72 920.14,808.99 922,809.25 923.87,809.51 925.73,809.76 927.6,810 929.46,810.24 931.33,810.47 933.19,810.7 935.06,810.92 936.92,811.14 938.79,811.36 940.65,811.56 942.52,811.77 944.38,811.97 946.25,812.16 948.11,812.35 949.98,812.53 951.84,812.72 953.71,812.89 955.57,813.07 957.44,813.24 959.31,813.4 961.17,813.56 963.04,813.72 964.9,813.88 966.77,814.03 968.63,814.17 970.5,814.32 972.36,814.46 974.23,814.6 976.09,814.73 977.96,814.86 979.82,814.99 981.69,815.12 983.55,815.24 985.42,815.36 987.28,815.48 989.15,815.59 991.01,815.7 992.88,815.81 994.74,815.92 996.61,816.02 998.48,816.13 1000.34,816.23 1002.21,816.32 1004.07,816.42 1005.94,816.51 1007.8,816.6 1009.67,816.69 1011.53,816.78 1013.4,816.86 1015.26,816.95 1017.13,817.03 1018.99,817.11 1020.86,817.18 1022.72,817.26 1024.59,817.33 1026.45,817.4 1028.32,817.48 1030.18,817.54 1032.05,817.61 1033.91,817.68 1035.78,817.74 1037.65,817.8 1039.51,817.87 1041.38,817.93 1043.24,817.98 1045.11,818.04 1046.97,818.1 1048.84,818.15 1050.7,818.21 1052.57,818.26 1054.43,818.31 1056.3,818.36 1058.16,818.41 1060.03,818.46 1061.89,818.5 1063.76,818.55 1065.62,818.59 1067.49,818.64 1069.35,818.68 1071.22,818.72 1073.08,818.76 1074.95,818.8 1076.81,818.84 1078.68,818.88 1080.55,818.91 1082.41,818.95 1084.28,818.99 1086.14,819.02 1088.01,819.05 1089.87,819.09 1091.74,819.12 1093.6,819.15 1095.47,819.18 1097.33,819.21 1099.2,819.24 1101.06,819.27 1102.93,819.3 1104.79,819.33 1106.66,819.35 1108.52,819.38 1110.39,819.4 1112.25,819.43 1114.12,819.45 1115.98,819.48 1117.85,819.5"/>
<polyline stroke="#77AC30" points="187.1,818.79 188.97,818.75 190.83,818.71 192.7,818.66 194.56,818.62 196.43,818.58 198.29,818.53 200.16,818.49 202.02,818.44 203.89,818.39 205.75,818.34 207.62,818.29 209.48,818.24 211.35,818.19 213.21,818.13 215.08,818.08 216.94,818.02 218.81,817.96 220.67,817.9 222.54,817.84 224.4,817.78 226.27,817.72 228.14,817.65 230,817.59 231.87,817.52 233.73,817.45 235.6,817.38 237.46,817.31 239.33,817.23 241.19,817.16 243.06,817.08 244.92,817 246.79,816.92 248.65,816.83 250.52,816.75 252.38,816.66 254.25,816.57 256.11,816.48 257.98,816.38 259.84,816.29 261.71,816.19 263.57,816.09 265.44,815.99 267.3,815.88 269.17,815.77 271.04,815.66 272.9,815.55 274.77,815.43 276.63,815.32 278.5,815.2 280.36,815.07 282.23,814.94 284.09,814.82 285.96,814.68 287.82,814.55 289.69,814.41 291.55,814.27 293.42,814.12 295.28,813.97 297.15,813.82 299.01,813.66 300.88,813.5 302.74,813.34 304.61,813.17 306.47,813 308.34,812.83 310.21,812.65 312.07,812.47 313.94,812.28 315.8,812.09 317.67,811.89 319.53,811.69 321.4,811.49 323.26,811.28 325.13,811.06 326.99,810.84 328.86,810.62 330.72,810.39 332.59,810.15 334.45,809.91 336.32,809.67 338.18,809.41 340.05,809.16 341.91,808.89 343.78,808.62 345.64,808.35 347.51,808.06 349.38,807.77 351.24,807.48 353.11,807.18 354.97,806.87 356.84,806.55 358.7,806.23 360.57,805.9 362.43,805.56 364.3,805.21 366.16,804.85 368.03,804.49 369.89,804.12 371.76,803.74 373.62,803.35 375.49,802.96 377.35,802.55 379.22,802.14 381.08,801.71 382.95,801.28 384.81,800.83 386.68,800.38 388.54,799.91 390.41,799.44 392.28,798.95 394.14,798.46 396.01,797.95 397.87,797.43 399.74,796.9 401.6,796.36 403.47,795.8 405.33,795.24 407.2,794.66 409.06,794.06 410.93,793.46 412.79,792.84 414.66,792.21 416.52,791.56 418.39,790.9 420.25,790.23 422.12,789.54 423.98,788.83 425.85,788.12 427.71,787.38 429.58,786.63 431.45,785.87 433.31,785.08 435.18,784.29 437.04,783.47 438.91,782.64 440.77,781.79 442.64,780.92 444.5,780.04 446.37,779.14 448.23,778.22 450.1,777.28 451.96,776.32 453.83,775.34 455.69,774.35 457.56,773.33 459.42,772.3 461.29,771.25 463.15,770.17 465.02,769.08 466.88,767.96 468.75,766.83 470.62,765.67 472.48,764.5 474.35,763.3 476.21,762.09 478.08,760.85 479.94,759.59 481.81,758.31 483.67,757.02 485.54,755.7 487.4,754.36 489.27,752.99 491.13,751.61 493,750.21 494.86,748.79 496.73,747.35 498.59,745.89 500.46,744.41 502.32,742.91 504.19,741.4 506.05,739.86 507.92,738.31 509.78,736.75 511.65,735.16 513.52,733.56 515.38,731.95 517.25,730.32 519.11,728.67 520.98,727.02 522.84,725.35 524.71,723.67 526.57,721.98 528.44,720.29 530.3,718.58 532.17,716.87 534.03,715.15 535.9,713.43 537.76,711.7 539.63,709.97 541.49,708.24 543.36,706.51 545.22,704.79 547.09,703.06 548.95,701.34 550.82,699.63 552.69,697.92 554.55,696.23 556.42,694.54 558.28,692.86 560.15,691.2 562.01,689.56 563.88,687.92 565.74,686.31 567.61,684.72 569.47,683.15 571.34,681.6 573.2,680.07 575.07,678.57 576.93,677.1 578.8,675.65 580.66,674.24 582.53,672.85 584.39,671.5 586.26,670.18 588.12,668.9 589.99,667.65 591.86,666.44 593.72,665.27 595.59,664.14 597.45,663.05 599.32,662 601.18,661 603.05,660.03 604.91,659.12 606.78,658.25 608.64,657.42 610.51,656.64 612.37,655.91 614.24,655.23 616.1,654.59 617.97,654.01 619.83,653.48 621.7,652.99 623.56,652.56 625.43,652.18 627.29,651.85 629.16,651.57 631.02,651.35 632.89,651.18 634.76,651.06 636.62,650.99 638.49,650.97 640.35,651.01 642.22,651.1 644.08,651.25 645.95,651.45 647.81,651.69 649.68,651.99 651.54,652.35 653.41,652.75 655.27,653.21 657.14,653.71 659,654.27 660.87,654.88 662.73,655.53 664.6,656.24 666.46,656.99 668.33,657.79 670.19,658.64 672.06,659.53 673.93,660.47 675.79,661.45 677.66,662.48 679.52,663.55 681.39,664.66 683.25,665.81 685.12,667 686.98,668.22 688.85,669.49 690.71,670.79 692.58,672.12 694.44,673.49 696.31,674.88 698.17,676.31 700.04,677.77 701.9,679.26 703.77,680.77 705.63,682.31 707.5,683.87 709.36,685.45 711.23,687.05 713.09,688.67 714.96,690.31 716.83,691.96 718.69,693.63 720.56,695.31 722.42,697 724.29,698.71 726.15,700.42 728.02,702.13 729.88,703.85 731.75,705.58 733.61,707.31 735.48,709.04 737.34,710.77 739.21,712.49 741.07,714.22 742.94,715.94 744.8,717.66 746.67,719.37 748.53,721.07 750.4,722.76 752.26,724.44 754.13,726.12 756,727.78 757.86,729.43 759.73,731.07 761.59,732.69 763.46,734.3 765.32,735.89 767.19,737.47 769.05,739.03 770.92,740.57 772.78,742.1 774.65,743.6 776.51,745.09 778.38,746.56 780.24,748.01 782.11,749.45 783.97,750.86 785.84,752.25 787.7,753.62 789.57,754.97 791.43,756.3 793.3,757.61 795.17,758.9 797.03,760.17 798.9,761.42 800.76,762.65 802.63,763.86 804.49,765.04 806.36,766.21 808.22,767.35 810.09,768.48 811.95,769.58 813.82,770.67 815.68,771.73 817.55,772.78 819.41,773.8 821.28,774.81 823.14,775.79 825.01,776.76 826.87,777.71 828.74,778.64 830.6,779.55 832.47,780.45 834.33,781.32 836.2,782.18 838.07,783.02 839.93,783.85 841.8,784.65 843.66,785.45 845.53,786.22 847.39,786.98 849.26,787.72 851.12,788.45 852.99,789.16 854.85,789.86 856.72,790.54 858.58,791.21 860.45,791.86 862.31,792.5 864.18,793.13 866.04,793.74 867.91,794.34 869.77,794.92 871.64,795.5 873.5,796.06 875.37,796.61 877.24,797.14 879.1,797.67 880.97,798.18 882.83,798.69 884.7,799.18 886.56,799.66 888.43,800.13 890.29,800.59 892.16,801.04 894.02,801.48 895.89,801.91 897.75,802.33 899.62,802.74 901.48,803.14 903.35,803.53 905.21,803.92 907.08,804.29 908.94,804.66 910.81,805.02 912.67,805.37 914.54,805.71 916.41,806.05 918.27,806.38 920.14,806.7 922,807.01 923.87,807.32 925.73,807.62 927.6,807.91 929.46,808.19 931.33,808.47 933.19,808.75 935.06,809.01 936.92,809.28 938.79,809.53 940.65,809.78 942.52,810.02 944.38,810.26 946.25,810.49 948.11,810.72 949.98,810.94 951.84,811.16 953.71,811.37 955.57,811.58 957.44,811.79 959.31,811.98 961.17,812.18 963.04,812.37 964.9,812.55 966.77,812.73 968.63,812.91 970.5,813.08 972.36,813.25 974.23,813.42 976.09,813.58 977.96,813.74 979.82,813.89 981.69,814.04 983.55,814.19 985.42,814.33 987.28,814.47 989.15,814.61 991.01,814.74 992.88,814.88 994.74,815 996.61,815.13 998.48,815.25 1000.34,815.37 1002.21,815.49 1004.07,815.6 1005.94,815.71 1007.8,815.82 1009.67,815.93 1011.53,816.03 1013.4,816.14 1015.26,816.23 1017.13,816.33 1018.99,816.43 1020.86,816.52 1022.72,816.61 1024.59,816.7 1026.45,816.79 1028.32,816.87 1030.18,816.95 1032.05,817.03 1033.91,817.11 1035.78,817.19 1037.65,817.27 1039.51,817.34 1041.38,817.41 1043.24,817.48 1045.11,817.55 1046.97,817.62 1048.84,817.68 1050.7,817.75 1052.57,817.81 1054.43,817.87 1056.3,817.93 1058.16,817.99 1060.03,818.05 1061.89,818.1 1063.76,818.16 1065.62,818.21 1067.49,818.26 1069.35,818.31 1071.22,818.36 1073.08,818.41 1074.95,818.46 1076.81,818.51 1078.68,818.55 1080.55,818.6 1082.41,818.64 1084.28,818.68 1086.14,818.72 1088.01,818.77 1089.87,818.8 1091.74,818.84 1093.6,818.88 1095.47,818.92 1097.33,818.95 1099.2,818.99 1101.06,819.02 1102.93,819.06 1104.79,819.09 1106.66,819.12 1108.52,819.15 1110.39,819.18 1112.25,819.21 1114.12,819.24 1115.98,819.27 1117.85,819.3"/>
<polyline stroke="#4DBEEE" points="187.1,818.75 188.97,818.71 190.83,818.67 192.7,818.63 194.56,818.58 196.43,818.54 198.29,818.49 200.16,818.44 202.02,818.4 203.89,818.35 205.75,818.3 207.62,818.25 209.48,818.19 211.35,818.14 213.21,818.08 215.08,818.03 216.94,817.97 218.81,817.91 220.67,817.85 222.54,817.79 224.4,817.73 226.27,817.66 228.14,817.59 230,817.53 231.87,817.46 233.73,817.39 235.6,817.31 237.46,817.24 239.33,817.16 241.19,817.09 243.06,817.01 244.92,816.92 246.79,816.84 248.65,816.76 250.52,816.67 252.38,816.58 254.25,816.49 256.11,816.39 257.98,816.3 259.84,816.2 261.71,816.1 263.57,816 265.44,815.89 267.3,815.78 269.17,815.67 271.04,815.56 272.9,815.45 274.77,815.33 276.63,815.21 278.5,815.08 280.36,814.96 282.23,814.83 284.09,814.7 285.96,814.56 287.82,814.42 289.69,814.28 291.55,814.14 293.42,813.99 295.28,813.84 297.15,813.68 299.01,813.52 300.88,813.36 302.74,813.19 304.61,813.02 306.47,812.85 308.34,812.67 310.21,812.49 312.07,812.3 313.94,812.11 315.8,811.91 317.67,811.71 319.53,811.51 321.4,811.3 323.26,811.09 325.13,810.87 326.99,810.64 328.86,810.41 330.72,810.18 332.59,809.94 334.45,809.69 336.32,809.44 338.18,809.18 340.05,808.92 341.91,808.65 343.78,808.37 345.64,808.09 347.51,807.8 349.38,807.51 351.24,807.21 353.11,806.9 354.97,806.58 356.84,806.26 358.7,805.93 360.57,805.59 362.43,805.24 364.3,804.89 366.16,804.53 368.03,804.16 369.89,803.78 371.76,803.39 373.62,802.99 375.49,802.59 377.35,802.18 379.22,801.75 381.08,801.32 382.95,800.87 384.81,800.42 386.68,799.96 388.54,799.48 390.41,799 392.28,798.5 394.14,797.99 396.01,797.48 397.87,796.95 399.74,796.4 401.6,795.85 403.47,795.28 405.33,794.7 407.2,794.11 409.06,793.51 410.93,792.89 412.79,792.26 414.66,791.61 416.52,790.95 418.39,790.28 420.25,789.59 422.12,788.89 423.98,788.17 425.85,787.43 427.71,786.68 429.58,785.92 431.45,785.13 433.31,784.33 435.18,783.52 437.04,782.69 438.91,781.84 440.77,780.97 442.64,780.08 444.5,779.18 446.37,778.26 448.23,777.31 450.1,776.35 451.96,775.38 453.83,774.38 455.69,773.36 457.56,772.32 459.42,771.26 461.29,770.19 463.15,769.09 465.02,767.97 466.88,766.83 468.75,765.67 470.62,764.49 472.48,763.28 474.35,762.06 476.21,760.82 478.08,759.55 479.94,758.26 481.81,756.95 483.67,755.62 485.54,754.27 487.4,752.89 489.27,751.5 491.13,750.08 493,748.65 494.86,747.19 496.73,745.71 498.59,744.22 500.46,742.7 502.32,741.16 504.19,739.6 506.05,738.03 507.92,736.43 509.78,734.82 511.65,733.19 513.52,731.55 515.38,729.89 517.25,728.21 519.11,726.52 520.98,724.81 522.84,723.1 524.71,721.37 526.57,719.62 528.44,717.87 530.3,716.11 532.17,714.34 534.03,712.57 535.9,710.78 537.76,709 539.63,707.21 541.49,705.42 543.36,703.62 545.22,701.83 547.09,700.04 548.95,698.25 550.82,696.47 552.69,694.69 554.55,692.92 556.42,691.16 558.28,689.4 560.15,687.66 562.01,685.94 563.88,684.23 565.74,682.53 567.61,680.85 569.47,679.2 571.34,677.56 573.2,675.94 575.07,674.35 576.93,672.78 578.8,671.24 580.66,669.73 582.53,668.25 584.39,666.8 586.26,665.38 588.12,663.99 589.99,662.63 591.86,661.32 593.72,660.04 595.59,658.79 597.45,657.59 599.32,656.42 601.18,655.3 603.05,654.22 604.91,653.18 606.78,652.18 608.64,651.23 610.51,650.33 612.37,649.47 614.24,648.65 616.1,647.89 617.97,647.17 619.83,646.5 621.7,645.88 623.56,645.3 625.43,644.78 627.29,644.31 629.16,643.89 631.02,643.52 632.89,643.2 634.76,642.93 636.62,642.71 638.49,642.55 640.35,642.44 642.22,642.38 644.08,642.37 645.95,642.41 647.81,642.51 649.68,642.66 651.54,642.85 653.41,643.11 655.27,643.41 657.14,643.76 659,644.17 660.87,644.62 662.73,645.13 664.6,645.68 666.46,646.29 668.33,646.94 670.19,647.64 672.06,648.39 673.93,649.19 675.79,650.04 677.66,650.93 679.52,651.87 681.39,652.85 683.25,653.87 685.12,654.94 686.98,656.05 688.85,657.2 690.71,658.39 692.58,659.62 694.44,660.89 696.31,662.2 698.17,663.54 700.04,664.92 701.9,666.33 703.77,667.77 705.63,669.24 707.5,670.74 709.36,672.28 711.23,673.83 713.09,675.42 714.96,677.02 716.83,678.66 718.69,680.31 720.56,681.98 722.42,683.67 724.29,685.37 726.15,687.1 728.02,688.83 729.88,690.58 731.75,692.34 733.61,694.1 735.48,695.88 737.34,697.66 739.21,699.45 741.07,701.24 742.94,703.03 744.8,704.83 746.67,706.62 748.53,708.41 750.4,710.2 752.26,711.98 754.13,713.76 756,715.53 757.86,717.3 759.73,719.05 761.59,720.8 763.46,722.53 765.32,724.25 767.19,725.96 769.05,727.66 770.92,729.34 772.78,731 774.65,732.66 776.51,734.29 778.38,735.91 780.24,737.51 782.11,739.09 783.97,740.65 785.84,742.19 787.7,743.72 789.57,745.22 791.43,746.71 793.3,748.17 795.17,749.62 797.03,751.04 798.9,752.44 800.76,753.82 802.63,755.18 804.49,756.52 806.36,757.83 808.22,759.13 810.09,760.4 811.95,761.65 813.82,762.88 815.68,764.09 817.55,765.28 819.41,766.45 821.28,767.6 823.14,768.72 825.01,769.83 826.87,770.91 828.74,771.98 830.6,773.02 832.47,774.05 834.33,775.05 836.2,776.04 838.07,777 839.93,777.95 841.8,778.88 843.66,779.79 845.53,780.68 847.39,781.55 849.26,782.41 851.12,783.25 852.99,784.07 854.85,784.87 856.72,785.66 858.58,786.43 860.45,787.19 862.31,787.93 864.18,788.65 866.04,789.36 867.91,790.05 869.77,790.73 871.64,791.4 873.5,792.05 875.37,792.68 877.24,793.31 879.1,793.92 880.97,794.51 882.83,795.09 884.7,795.67 886.56,796.22 888.43,796.77 890.29,797.3 892.16,797.83 894.02,798.34 895.89,798.84 897.75,799.32 899.62,799.8 901.48,800.27 903.35,800.73 905.21,801.17 907.08,801.61 908.94,802.04 910.81,802.45 912.67,802.86 914.54,803.26 916.41,803.65 918.27,804.03 920.14,804.41 922,804.77 923.87,805.13 925.73,805.48 927.6,805.82 929.46,806.15 931.33,806.48 933.19,806.8 935.06,807.11 936.92,807.41 938.79,807.71 940.65,808 942.52,808.28 944.38,808.56 946.25,808.83 948.11,809.1 949.98,809.36 951.84,809.61 953.71,809.86 955.57,810.1 957.44,810.34 959.31,810.57 961.17,810.79 963.04,811.01 964.9,811.23 966.77,811.44 968.63,811.65 970.5,811.85 972.36,812.05 974.23,812.24 976.09,812.43 977.96,812.61 979.82,812.79 981.69,812.97 983.55,813.14 985.42,813.3 987.28,813.47 989.15,813.63 991.01,813.79 992.88,813.94 994.74,814.09 996.61,814.23 998.48,814.38 1000.34,814.52 1002.21,814.65 1004.07,814.79 1005.94,814.92 1007.8,815.04 1009.67,815.17 1011.53,815.29 1013.4,815.41 1015.26,815.52 1017.13,815.64 1018.99,815.75 1020.86,815.86 1022.72,815.96 1024.59,816.07 1026.45,816.17 1028.32,816.27 1030.18,816.36 1032.05,816.46 1033.91,816.55 1035.78,816.64 1037.65,816.73 1039.51,816.81 1041.38,816.9 1043.24,816.98 1045.11,817.06 1046.97,817.14 1048.84,817.21 1050.7,817.29 1052.57,817.36 1054.43,817.43 1056.3,817.5 1058.16,817.57 1060.03,817.64 1061.89,817.7 1063.76,817.77 1065.62,817.83 1067.49,817.89 1069.35,817.95 1071.22,818.01 1073.08,818.07 1074.95,818.12 1076.81,818.18 1078.68,818.23 1080.55,818.28 1082.41,818.33 1084.28,818.38 1086.14,818.43 1088.01,818.48 1089.87,818.52 1091.74,818.57 1093.6,818.61 1095.47,818.65 1097.33,818.7 1099.2,818.74 1101.06,818.78 1102.93,818.82 1104.79,818.86 1106.66,818.89 1108.52,818.93 1110.39,818.97 1112.25,819 1114.12,819.03 1115.98,819.07 1117.85,819.1"/>
<polyline stroke="#A2142F" points="187.1,818.72 188.97,818.68 190.83,818.64 192.7,818.6 194.56,818.55 196.43,818.51 198.29,818.46 200.16,818.41 202.02,818.36 203.89,818.31 205.75,818.26 207.62,818.21 209.48,818.16 211.35,818.1 213.21,818.05 215.08,817.99 216.94,817.93 218.81,817.87 220.67,817.81 222.54,817.75 224.4,817.68 226.27,817.62 228.14,817.55 230,817.48 231.87,817.41 233.73,817.34 235.6,817.26 237.46,817.19 239.33,817.11 241.19,817.03 243.06,816.95 244.92,816.87 246.79,816.78 248.65,816.7 250.52,816.61 252.38,816.52 254.25,816.42 256.11,816.33 257.98,816.23 259.84,816.13 261.71,816.03 263.57,815.93 265.44,815.82 267.3,815.71 269.17,815.6 271.04,815.48 272.9,815.37 274.77,815.25 276.63,815.12 278.5,815 280.36,814.87 282.23,814.74 284.09,814.6 285.96,814.47 287.82,814.33 289.69,814.18 291.55,814.04 293.42,813.88 295.28,813.73 297.15,813.57 299.01,813.41 300.88,813.25 302.74,813.08 304.61,812.9 306.47,812.73 308.34,812.55 310.21,812.36 312.07,812.17 313.94,811.98 315.8,811.78 317.67,811.57 319.53,811.37 321.4,811.15 323.26,810.94 325.13,810.71 326.99,810.49 328.86,810.25 330.72,810.01 332.59,809.77 334.45,809.52 336.32,809.26 338.18,809 340.05,808.74 341.91,808.46 343.78,808.18 345.64,807.9 347.51,807.6 349.38,807.3 351.24,807 353.11,806.68 354.97,806.36 356.84,806.03 358.7,805.7 360.57,805.35 362.43,805 364.3,804.64 366.16,804.27 368.03,803.9 369.89,803.51 371.76,803.12 373.62,802.72 375.49,802.3 377.35,801.88 379.22,801.45 381.08,801.01 382.95,800.56 384.81,800.1 386.68,799.63 388.54,799.15 390.41,798.65 392.28,798.15 394.14,797.63 396.01,797.11 397.87,796.57 399.74,796.02 401.6,795.46 403.47,794.88 405.33,794.29 407.2,793.69 409.06,793.08 410.93,792.45 412.79,791.81 414.66,791.15 416.52,790.48 418.39,789.79 420.25,789.09 422.12,788.38 423.98,787.65 425.85,786.9 427.71,786.14 429.58,785.36 431.45,784.56 433.31,783.75 435.18,782.92 437.04,782.07 438.91,781.21 440.77,780.33 442.64,779.43 444.5,778.51 446.37,777.57 448.23,776.61 450.1,775.64 451.96,774.64 453.83,773.63 455.69,772.59 457.56,771.53 459.42,770.46 461.29,769.36 463.15,768.24 465.02,767.11 466.88,765.95 468.75,764.77 470.62,763.56 472.48,762.34 474.35,761.09 476.21,759.82 478.08,758.53 479.94,757.22 481.81,755.89 483.67,754.53 485.54,753.16 487.4,751.76 489.27,750.34 491.13,748.89 493,747.43 494.86,745.94 496.73,744.44 498.59,742.91 500.46,741.36 502.32,739.79 504.19,738.21 506.05,736.6 507.92,734.97 509.78,733.33 511.65,731.66 513.52,729.98 515.38,728.28 517.25,726.57 519.11,724.84 520.98,723.1 522.84,721.34 524.71,719.57 526.57,717.79 528.44,715.99 530.3,714.19 532.17,712.37 534.03,710.55 535.9,708.73 537.76,706.89 539.63,705.05 541.49,703.21 543.36,701.37 545.22,699.52 547.09,697.68 548.95,695.84 550.82,694 552.69,692.16 554.55,690.33 556.42,688.51 558.28,686.7 560.15,684.9 562.01,683.11 563.88,681.34 565.74,679.58 567.61,677.83 569.47,676.11 571.34,674.4 573.2,672.71 575.07,671.05 576.93,669.41 578.8,667.79 580.66,666.2 582.53,664.64 584.39,663.11 586.26,661.61 588.12,660.14 589.99,658.7 591.86,657.29 593.72,655.93 595.59,654.59 597.45,653.3 599.32,652.04 601.18,650.82 603.05,649.64 604.91,648.5 606.78,647.41 608.64,646.36 610.51,645.35 612.37,644.38 614.24,643.46 616.1,642.59 617.97,641.76 619.83,640.98 621.7,640.24 623.56,639.56 625.43,638.92 627.29,638.33 629.16,637.79 631.02,637.29 632.89,636.85 634.76,636.46 636.62,636.12 638.49,635.83 640.35,635.59 642.22,635.4 644.08,635.26 645.95,635.17 647.81,635.14 649.68,635.15 651.54,635.22 653.41,635.33 655.27,635.5 657.14,635.72 659,635.99 660.87,636.31 662.73,636.68 664.6,637.1 666.46,637.57 668.33,638.09 670.19,638.66 672.06,639.27 673.93,639.94 675.79,640.65 677.66,641.41 679.52,642.22 681.39,643.08 683.25,643.98 685.12,644.92 686.98,645.91 688.85,646.95 690.71,648.02 692.58,649.14 694.44,650.3 696.31,651.51 698.17,652.75 700.04,654.03 701.9,655.34 703.77,656.7 705.63,658.09 707.5,659.51 709.36,660.97 711.23,662.45 713.09,663.97 714.96,665.52 716.83,667.1 718.69,668.71 720.56,670.33 722.42,671.99 724.29,673.67 726.15,675.36 728.02,677.08 729.88,678.82 731.75,680.57 733.61,682.34 735.48,684.12 737.34,685.92 739.21,687.73 741.07,689.54 742.94,691.37 744.8,693.2 746.67,695.04 748.53,696.88 750.4,698.72 752.26,700.57 754.13,702.41 756,704.25 757.86,706.09 759.73,707.93 761.59,709.76 763.46,711.59 765.32,713.4 767.19,715.21 769.05,717.01 770.92,718.8 772.78,720.57 774.65,722.34 776.51,724.09 778.38,725.82 780.24,727.54 782.11,729.25 783.97,730.94 785.84,732.61 787.7,734.26 789.57,735.9 791.43,737.51 793.3,739.11 795.17,740.69 797.03,742.24 798.9,743.78 800.76,745.29 802.63,746.79 804.49,748.26 806.36,749.71 808.22,751.14 810.09,752.55 811.95,753.94 813.82,755.31 815.68,756.65 817.55,757.97 819.41,759.27 821.28,760.55 823.14,761.8 825.01,763.03 826.87,764.25 828.74,765.44 830.6,766.61 832.47,767.75 834.33,768.88 836.2,769.99 838.07,771.07 839.93,772.14 841.8,773.18 843.66,774.2 845.53,775.21 847.39,776.19 849.26,777.16 851.12,778.1 852.99,779.03 854.85,779.94 856.72,780.83 858.58,781.7 860.45,782.56 862.31,783.39 864.18,784.21 866.04,785.02 867.91,785.8 869.77,786.57 871.64,787.33 873.5,788.06 875.37,788.78 877.24,789.49 879.1,790.18 880.97,790.86 882.83,791.52 884.7,792.17 886.56,792.81 888.43,793.43 890.29,794.03 892.16,794.63 894.02,795.21 895.89,795.78 897.75,796.33 899.62,796.88 901.48,797.41 903.35,797.93 905.21,798.44 907.08,798.93 908.94,799.42 910.81,799.9 912.67,800.36 914.54,800.82 916.41,801.26 918.27,801.7 920.14,802.12 922,802.54 923.87,802.95 925.73,803.34 927.6,803.73 929.46,804.11 931.33,804.48 933.19,804.85 935.06,805.2 936.92,805.55 938.79,805.89 940.65,806.22 942.52,806.54 944.38,806.86 946.25,807.17 948.11,807.47 949.98,807.77 951.84,808.06 953.71,808.34 955.57,808.62 957.44,808.89 959.31,809.15 961.17,809.41 963.04,809.66 964.9,809.91 966.77,810.15 968.63,810.38 970.5,810.61 972.36,810.84 974.23,811.06 976.09,811.27 977.96,811.48 979.82,811.69 981.69,811.89 983.55,812.09 985.42,812.28 987.28,812.47 989.15,812.65 991.01,812.83 992.88,813 994.74,813.17 996.61,813.34 998.48,813.5 1000.34,813.66 1002.21,813.82 1004.07,813.97 1005.94,814.12 1007.8,814.26 1009.67,814.41 1011.53,814.55 1013.4,814.68 1015.26,814.81 1017.13,814.94 1018.99,815.07 1020.86,815.19 1022.72,815.31 1024.59,815.43 1026.45,815.55 1028.32,815.66 1030.18,815.77 1032.05,815.88 1033.91,815.98 1035.78,816.09 1037.65,816.19 1039.51,816.29 1041.38,816.38 1043.24,816.48 1045.11,816.57 1046.97,816.66 1048.84,816.75 1050.7,816.83 1052.57,816.91 1054.43,817 1056.3,817.08 1058.16,817.15 1060.03,817.23 1061.89,817.31 1063.76,817.38 1065.62,817.45 1067.49,817.52 1069.35,817.59 1071.22,817.65 1073.08,817.72 1074.95,817.78 1076.81,817.84 1078.68,817.9 1080.55,817.96 1082.41,818.02 1084.28,818.08 1086.14,818.13 1088.01,818.19 1089.87,818.24 1091.74,818.29 1093.6,818.34 1095.47,818.39 1097.33,818.44 1099.2,818.49 1101.06,818.53 1102.93,818.58 1104.79,818.62 1106.66,818.66 1108.52,818.71 1110.39,818.75 1112.25,818.79 1114.12,818.83 1115.98,818.86 1117.85,818.9"/>
<polyline stroke="#0072BD" points="187.1,818.7 188.97,818.66 190.83,818.62 192.7,818.57 194.56,818.53 196.43,818.48 198.29,818.43 200.16,818.39 202.02,818.34 203.89,818.29 205.75,818.23 207.62,818.18 209.48,818.13 211.35,818.07 213.21,818.02 215.08,817.96 216.94,817.9 218.81,817.84 220.67,817.77 222.54,817.71 224.4,817.65 226.27,817.58 228.14,817.51 230,817.44 231.87,817.37 233.73,817.3 235.6,817.22 237.46,817.15 239.33,817.07 241.19,816.99 243.06,816.91 244.92,816.82 246.79,816.74 248.65,816.65 250.52,816.56 252.38,816.47 254.25,816.37 256.11,816.28 257.98,816.18 259.84,816.08 261.71,815.97 263.57,815.87 265.44,815.76 267.3,815.65 269.17,815.54 271.04,815.42 272.9,815.3 274.77,815.18 276.63,815.06 278.5,814.93 280.36,814.8 282.23,814.67 284.09,814.53 285.96,814.39 287.82,814.25 289.69,814.1 291.55,813.95 293.42,813.8 295.28,813.65 297.15,813.49 299.01,813.32 300.88,813.15 302.74,812.98 304.61,812.81 306.47,812.63 308.34,812.45 310.21,812.26 312.07,812.07 313.94,811.87 315.8,811.67 317.67,811.46 319.53,811.25 321.4,811.04 323.26,810.82 325.13,810.59 326.99,810.36 328.86,810.12 330.72,809.88 332.59,809.64 334.45,809.38 336.32,809.12 338.18,808.86 340.05,808.59 341.91,808.31 343.78,808.03 345.64,807.74 347.51,807.44 349.38,807.14 351.24,806.83 353.11,806.51 354.97,806.18 356.84,805.85 358.7,805.51 360.57,805.16 362.43,804.81 364.3,804.44 366.16,804.07 368.03,803.69 369.89,803.3 371.76,802.9 373.62,802.49 375.49,802.08 377.35,801.65 379.22,801.21 381.08,800.77 382.95,800.31 384.81,799.84 386.68,799.37 388.54,798.88 390.41,798.38 392.28,797.87 394.14,797.35 396.01,796.81 397.87,796.27 399.74,795.71 401.6,795.14 403.47,794.56 405.33,793.96 407.2,793.35 409.06,792.73 410.93,792.09 412.79,791.44 414.66,790.78 416.52,790.1 418.39,789.41 420.25,788.7 422.12,787.97 423.98,787.23 425.85,786.47 427.71,785.7 429.58,784.91 431.45,784.11 433.31,783.28 435.18,782.44 437.04,781.59 438.91,780.71 440.77,779.82 442.64,778.9 444.5,777.97 446.37,777.02 448.23,776.05 450.1,775.06 451.96,774.05 453.83,773.02 455.69,771.98 457.56,770.91 459.42,769.81 461.29,768.7 463.15,767.57 465.02,766.42 466.88,765.24 468.75,764.04 470.62,762.82 472.48,761.58 474.35,760.32 476.21,759.03 478.08,757.72 479.94,756.39 481.81,755.04 483.67,753.67 485.54,752.27 487.4,750.85 489.27,749.41 491.13,747.94 493,746.46 494.86,744.95 496.73,743.42 498.59,741.87 500.46,740.29 502.32,738.7 504.19,737.09 506.05,735.45 507.92,733.8 509.78,732.13 511.65,730.44 513.52,728.73 515.38,727 517.25,725.26 519.11,723.5 520.98,721.72 522.84,719.93 524.71,718.13 526.57,716.31 528.44,714.49 530.3,712.65 532.17,710.8 534.03,708.94 535.9,707.07 537.76,705.2 539.63,703.32 541.49,701.44 543.36,699.56 545.22,697.67 547.09,695.79 548.95,693.9 550.82,692.02 552.69,690.14 554.55,688.26 556.42,686.39 558.28,684.54 560.15,682.68 562.01,680.85 563.88,679.02 565.74,677.2 567.61,675.41 569.47,673.63 571.34,671.86 573.2,670.12 575.07,668.4 576.93,666.7 578.8,665.02 580.66,663.37 582.53,661.74 584.39,660.15 586.26,658.58 588.12,657.04 589.99,655.53 591.86,654.06 593.72,652.62 595.59,651.21 597.45,649.84 599.32,648.51 601.18,647.21 603.05,645.95 604.91,644.73 606.78,643.56 608.64,642.42 610.51,641.33 612.37,640.27 614.24,639.27 616.1,638.3 617.97,637.38 619.83,636.51 621.7,635.68 623.56,634.9 625.43,634.16 627.29,633.47 629.16,632.83 631.02,632.24 632.89,631.69 634.76,631.2 636.62,630.75 638.49,630.35 640.35,630 642.22,629.7 644.08,629.46 645.95,629.26 647.81,629.11 649.68,629.01 651.54,628.96 653.41,628.96 655.27,629.01 657.14,629.11 659,629.26 660.87,629.46 662.73,629.7 664.6,630 666.46,630.35 668.33,630.75 670.19,631.2 672.06,631.69 673.93,632.24 675.79,632.83 677.66,633.47 679.52,634.16 681.39,634.9 683.25,635.68 685.12,636.51 686.98,637.38 688.85,638.3 690.71,639.27 692.58,640.27 694.44,641.33 696.31,642.42 698.17,643.56 700.04,644.73 701.9,645.95 703.77,647.21 705.63,648.51 707.5,649.84 709.36,651.21 711.23,652.62 713.09,654.06 714.96,655.53 716.83,657.04 718.69,658.58 720.56,660.15 722.42,661.74 724.29,663.37 726.15,665.02 728.02,666.7 729.88,668.4 731.75,670.12 733.61,671.86 735.48,673.63 737.34,675.41 739.21,677.2 741.07,679.02 742.94,680.85 744.8,682.68 746.67,684.54 748.53,686.39 750.4,688.26 752.26,690.14 754.13,692.02 756,693.9 757.86,695.79 759.73,697.67 761.59,699.56 763.46,701.44 765.32,703.32 767.19,705.2 769.05,707.07 770.92,708.94 772.78,710.8 774.65,712.65 776.51,714.49 778.38,716.31 780.24,718.13 782.11,719.93 783.97,721.72 785.84,723.5 787.7,725.26 789.57,727 791.43,728.73 793.3,730.44 795.17,732.13 797.03,733.8 798.9,735.45 800.76,737.09 802.63,738.7 804.49,740.29 806.36,741.87 808.22,743.42 810.09,744.95 811.95,746.46 813.82,747.94 815.68,749.41 817.55,750.85 819.41,752.27 821.28,753.67 823.14,755.04 825.01,756.39 826.87,757.72 828.74,759.03 830.6,760.32 832.47,761.58 834.33,762.82 836.2,764.04 838.07,765.24 839.93,766.42 841.8,767.57 843.66,768.7 845.53,769.81 847.39,770.91 849.26,771.98 851.12,773.02 852.99,774.05 854.85,775.06 856.72,776.05 858.58,777.02 860.45,777.97 862.31,778.9 864.18,779.82 866.04,780.71 867.91,781.59 869.77,782.44 871.64,783.28 873.5,784.11 875.37,784.91 877.24,785.7 879.1,786.47 880.97,787.23 882.83,787.97 884.7,788.7 886.56,789.41 888.43,790.1 890.29,790.78 892.16,791.44 894.02,792.09 895.89,792.73 897.75,793.35 899.62,793.96 901.48,794.56 903.35,795.14 905.21,795.71 907.08,796.27 908.94,796.81 910.81,797.35 912.67,797.87 914.54,798.38 916.41,798.88 918.27,799.37 920.14,799.84 922,800.31 923.87,800.77 925.73,801.21 927.6,801.65 929.46,802.08 931.33,802.49 933.19,802.9 935.06,803.3 936.92,803.69 938.79,804.07 940.65,804.44 942.52,804.81 944.38,805.16 946.25,805.51 948.11,805.85 949.98,806.18 951.84,806.51 953.71,806.83 955.57,807.14 957.44,807.44 959.31,807.74 961.17,808.03 963.04,808.31 964.9,808.59 966.77,808.86 968.63,809.12 970.5,809.38 972.36,809.64 974.23,809.88 976.09,810.12 977.96,810.36 979.82,810.59 981.69,810.82 983.55,811.04 985.42,811.25 987.28,811.46 989.15,811.67 991.01,811.87 992.88,812.07 994.74,812.26 996.61,812.45 998.48,812.63 1000.34,812.81 1002.21,812.98 1004.07,813.15 1005.94,813.32 1007.8,813.49 1009.67,813.65 1011.53,813.8 1013.4,813.95 1015.26,814.1 1017.13,814.25 1018.99,814.39 1020.86,814.53 1022.72,814.67 1024.59,814.8 1026.45,814.93 1028.32,815.06 1030.18,815.18 1032.05,815.3 1033.91,815.42 1035.78,815.54 1037.65,815.65 1039.51,815.76 1041.38,815.87 1043.24,815.97 1045.11,816.08 1046.97,816.18 1048.84,816.28 1050.7,816.37 1052.57,816.47 1054.43,816.56 1056.3,816.65 1058.16,816.74 1060.03,816.82 1061.89,816.91 1063.76,816.99 1065.62,817.07 1067.49,817.15 1069.35,817.22 1071.22,817.3 1073.08,817.37 1074.95,817.44 1076.81,817.51 1078.68,817.58 1080.55,817.65 1082.41,817.71 1084.28,817.77 1086.14,817.84 1088.01,817.9 1089.87,817.96 1091.74,818.02 1093.6,818.07 1095.47,818.13 1097.33,818.18 1099.2,818.23 1101.06,818.29 1102.93,818.34 1104.79,818.39 1106.66,818.43 1108.52,818.48 1110.39,818.53 1112.25,818.57 1114.12,818.62 1115.98,818.66 1117.85,818.7"/>
<polyline stroke="#D95319" points="187.1,818.68 188.97,818.64 190.83,818.6 192.7,818.55 194.56,818.51 196.43,818.46 198.29,818.41 200.16,818.36 202.02,818.31 203.89,818.26 205.75,818.21 207.62,818.16 209.48,818.1 211.35,818.05 213.21,817.99 215.08,817.93 216.94,817.87 218.81,817.81 220.67,817.75 222.54,817.68 224.4,817.62 226.27,817.55 228.14,817.48 230,817.41 231.87,817.34 233.73,817.27 235.6,817.19 237.46,817.11 239.33,817.03 241.19,816.95 243.06,816.87 244.92,816.78 246.79,816.7 248.65,816.61 250.52,816.52 252.38,816.43 254.25,816.33 256.11,816.23 257.98,816.13 259.84,816.03 261.71,815.93 263.57,815.82 265.44,815.71 267.3,815.6 269.17,815.49 271.04,815.37 272.9,815.25 274.77,815.13 276.63,815 278.5,814.87 280.36,814.74 282.23,814.61 284.09,814.47 285.96,814.33 287.82,814.19 289.69,814.04 291.55,813.89 293.42,813.73 295.28,813.58 297.15,813.41 299.01,813.25 300.88,813.08 302.74,812.91 304.61,812.73 306.47,812.55 308.34,812.36 310.21,812.17 312.07,811.98 313.94,811.78 315.8,811.58 317.67,811.37 319.53,811.16 321.4,810.94 323.26,810.72 325.13,810.49 326.99,810.26 328.86,810.02 330.72,809.77 332.59,809.53 334.45,809.27 336.32,809.01 338.18,808.74 340.05,808.47 341.91,808.19 343.78,807.9 345.64,807.61 347.51,807.31 349.38,807 351.24,806.69 353.11,806.37 354.97,806.04 356.84,805.7 358.7,805.36 360.57,805.01 362.43,804.65 364.3,804.28 366.16,803.9 368.03,803.52 369.89,803.13 371.76,802.72 373.62,802.31 375.49,801.89 377.35,801.46 379.22,801.02 381.08,800.57 382.95,800.11 384.81,799.63 386.68,799.15 388.54,798.66 390.41,798.15 392.28,797.64 394.14,797.11 396.01,796.57 397.87,796.02 399.74,795.46 401.6,794.88 403.47,794.29 405.33,793.69 407.2,793.08 409.06,792.45 410.93,791.8 412.79,791.15 414.66,790.48 416.52,789.79 418.39,789.09 420.25,788.37 422.12,787.64 423.98,786.89 425.85,786.13 427.71,785.35 429.58,784.55 431.45,783.73 433.31,782.9 435.18,782.05 437.04,781.19 438.91,780.3 440.77,779.4 442.64,778.48 444.5,777.53 446.37,776.57 448.23,775.59 450.1,774.59 451.96,773.57 453.83,772.53 455.69,771.47 457.56,770.39 459.42,769.29 461.29,768.16 463.15,767.02 465.02,765.85 466.88,764.66 468.75,763.45 470.62,762.22 472.48,760.96 474.35,759.68 476.21,758.38 478.08,757.06 479.94,755.71 481.81,754.35 483.67,752.95 485.54,751.54 487.4,750.1 489.27,748.64 491.13,747.16 493,745.66 494.86,744.13 496.73,742.58 498.59,741.01 500.46,739.42 502.32,737.81 504.19,736.17 506.05,734.52 507.92,732.84 509.78,731.15 511.65,729.43 513.52,727.7 515.38,725.95 517.25,724.18 519.11,722.4 520.98,720.6 522.84,718.78 524.71,716.95 526.57,715.11 528.44,713.25 530.3,711.38 532.17,709.51 534.03,707.62 535.9,705.72 537.76,703.82 539.63,701.91 541.49,700 543.36,698.08 545.22,696.16 547.09,694.24 548.95,692.31 550.82,690.39 552.69,688.48 554.55,686.56 556.42,684.66 558.28,682.76 560.15,680.87 562.01,678.99 563.88,677.12 565.74,675.26 567.61,673.42 569.47,671.59 571.34,669.78 573.2,667.99 575.07,666.22 576.93,664.47 578.8,662.74 580.66,661.04 582.53,659.36 584.39,657.71 586.26,656.09 588.12,654.49 589.99,652.93 591.86,651.4 593.72,649.9 595.59,648.43 597.45,647 599.32,645.6 601.18,644.24 603.05,642.92 604.91,641.63 606.78,640.38 608.64,639.18 610.51,638.01 612.37,636.89 614.24,635.81 616.1,634.77 617.97,633.77 619.83,632.82 621.7,631.91 623.56,631.05 625.43,630.23 627.29,629.46 629.16,628.74 631.02,628.06 632.89,627.42 634.76,626.84 636.62,626.3 638.49,625.81 640.35,625.37 642.22,624.98 644.08,624.63 645.95,624.34 647.81,624.09 649.68,623.89 651.54,623.74 653.41,623.64 655.27,623.59 657.14,623.58 659,623.63 660.87,623.72 662.73,623.87 664.6,624.06 666.46,624.3 668.33,624.59 670.19,624.93 672.06,625.32 673.93,625.75 675.79,626.24 677.66,626.77 679.52,627.35 681.39,627.97 683.25,628.64 685.12,629.36 686.98,630.13 688.85,630.94 690.71,631.8 692.58,632.7 694.44,633.65 696.31,634.64 698.17,635.67 700.04,636.75 701.9,637.86 703.77,639.02 705.63,640.22 707.5,641.47 709.36,642.75 711.23,644.06 713.09,645.42 714.96,646.81 716.83,648.24 718.69,649.7 720.56,651.2 722.42,652.73 724.29,654.29 726.15,655.88 728.02,657.5 729.88,659.14 731.75,660.82 733.61,662.52 735.48,664.24 737.34,665.99 739.21,667.76 741.07,669.55 742.94,671.35 744.8,673.18 746.67,675.02 748.53,676.87 750.4,678.74 752.26,680.62 754.13,682.51 756,684.41 757.86,686.31 759.73,688.23 761.59,690.14 763.46,692.06 765.32,693.98 767.19,695.91 769.05,697.83 770.92,699.74 772.78,701.66 774.65,703.57 776.51,705.47 778.38,707.37 780.24,709.26 782.11,711.14 783.97,713.01 785.84,714.87 787.7,716.71 789.57,718.54 791.43,720.36 793.3,722.16 795.17,723.95 797.03,725.72 798.9,727.47 800.76,729.21 802.63,730.92 804.49,732.62 806.36,734.3 808.22,735.96 810.09,737.59 811.95,739.21 813.82,740.8 815.68,742.38 817.55,743.93 819.41,745.46 821.28,746.97 823.14,748.45 825.01,749.91 826.87,751.35 828.74,752.77 830.6,754.16 832.47,755.54 834.33,756.89 836.2,758.21 838.07,759.51 839.93,760.8 841.8,762.05 843.66,763.29 845.53,764.5 847.39,765.7 849.26,766.87 851.12,768.01 852.99,769.14 854.85,770.25 856.72,771.33 858.58,772.39 860.45,773.44 862.31,774.46 864.18,775.46 866.04,776.45 867.91,777.41 869.77,778.35 871.64,779.28 873.5,780.18 875.37,781.07 877.24,781.94 879.1,782.79 880.97,783.63 882.83,784.44 884.7,785.24 886.56,786.03 888.43,786.79 890.29,787.54 892.16,788.28 894.02,788.99 895.89,789.7 897.75,790.39 899.62,791.06 901.48,791.72 903.35,792.36 905.21,792.99 907.08,793.61 908.94,794.22 910.81,794.81 912.67,795.38 914.54,795.95 916.41,796.5 918.27,797.04 920.14,797.57 922,798.09 923.87,798.59 925.73,799.09 927.6,799.57 929.46,800.04 931.33,800.51 933.19,800.96 935.06,801.4 936.92,801.83 938.79,802.26 940.65,802.67 942.52,803.07 944.38,803.47 946.25,803.85 948.11,804.23 949.98,804.6 951.84,804.96 953.71,805.31 955.57,805.66 957.44,806 959.31,806.32 961.17,806.65 963.04,806.96 964.9,807.27 966.77,807.57 968.63,807.86 970.5,808.15 972.36,808.43 974.23,808.71 976.09,808.97 977.96,809.24 979.82,809.49 981.69,809.74 983.55,809.99 985.42,810.23 987.28,810.46 989.15,810.69 991.01,810.91 992.88,811.13 994.74,811.34 996.61,811.55 998.48,811.76 1000.34,811.95 1002.21,812.15 1004.07,812.34 1005.94,812.53 1007.8,812.71 1009.67,812.88 1011.53,813.06 1013.4,813.23 1015.26,813.39 1017.13,813.56 1018.99,813.71 1020.86,813.87 1022.72,814.02 1024.59,814.17 1026.45,814.31 1028.32,814.45 1030.18,814.59 1032.05,814.72 1033.91,814.86 1035.78,814.99 1037.65,815.11 1039.51,815.23 1041.38,815.35 1043.24,815.47 1045.11,815.59 1046.97,815.7 1048.84,815.81 1050.7,815.91 1052.57,816.02 1054.43,816.12 1056.3,816.22 1058.16,816.32 1060.03,816.41 1061.89,816.51 1063.76,816.6 1065.62,816.69 1067.49,816.77 1069.35,816.86 1071.22,816.94 1073.08,817.02 1074.95,817.1 1076.81,817.18 1078.68,817.26 1080.55,817.33 1082.41,817.4 1084.28,817.47 1086.14,817.54 1088.01,817.61 1089.87,817.67 1091.74,817.74 1093.6,817.8 1095.47,817.86 1097.33,817.92 1099.2,817.98 1101.06,818.04 1102.93,818.1 1104.79,818.15 1106.66,818.2 1108.52,818.26 1110.39,818.31 1112.25,818.36 1114.12,818.41 1115.98,818.45 1117.85,818.5"/>
<polyline stroke="#EDB120" points="187.1,818.67 188.97,818.62 190.83,818.58 192.7,818.54 194.56,818.49 196.43,818.44 198.29,818.4 200.16,818.35 202.02,818.3 203.89,818.24 205.75,818.19 207.62,818.14 209.48,818.08 211.35,818.03 213.21,817.97 215.08,817.91 216.94,817.85 218.81,817.79 220.67,817.72 222.54,817.66 224.4,817.59 226.27,817.53 228.14,817.46 230,817.39 231.87,817.31 233.73,817.24 235.6,817.16 237.46,817.08 239.33,817 241.19,816.92 243.06,816.84 244.92,816.75 246.79,816.67 248.65,816.58 250.52,816.49 252.38,816.39 254.25,816.3 256.11,816.2 257.98,816.1 259.84,815.99 261.71,815.89 263.57,815.78 265.44,815.67 267.3,815.56 269.17,815.44 271.04,815.33 272.9,815.21 274.77,815.08 276.63,814.96 278.5,814.83 280.36,814.69 282.23,814.56 284.09,814.42 285.96,814.28 287.82,814.13 289.69,813.98 291.55,813.83 293.42,813.68 295.28,813.52 297.15,813.36 299.01,813.19 300.88,813.02 302.74,812.84 304.61,812.67 306.47,812.48 308.34,812.3 310.21,812.11 312.07,811.91 313.94,811.71 315.8,811.5 317.67,811.29 319.53,811.08 321.4,810.86 323.26,810.64 325.13,810.41 326.99,810.17 328.86,809.93 330.72,809.69 332.59,809.43 334.45,809.18 336.32,808.91 338.18,808.64 340.05,808.37 341.91,808.08 343.78,807.8 345.64,807.5 347.51,807.2 349.38,806.89 351.24,806.57 353.11,806.25 354.97,805.92 356.84,805.58 358.7,805.23 360.57,804.88 362.43,804.52 364.3,804.14 366.16,803.77 368.03,803.38 369.89,802.98 371.76,802.57 373.62,802.16 375.49,801.73 377.35,801.3 379.22,800.85 381.08,800.4 382.95,799.93 384.81,799.46 386.68,798.97 388.54,798.48 390.41,797.97 392.28,797.45 394.14,796.92 396.01,796.37 397.87,795.82 399.74,795.25 401.6,794.67 403.47,794.07 405.33,793.47 407.2,792.85 409.06,792.21 410.93,791.56 412.79,790.9 414.66,790.22 416.52,789.53 418.39,788.82 420.25,788.1 422.12,787.36 423.98,786.61 425.85,785.84 427.71,785.05 429.58,784.24 431.45,783.42 433.31,782.58 435.18,781.73 437.04,780.85 438.91,779.96 440.77,779.05 442.64,778.12 444.5,777.17 446.37,776.2 448.23,775.21 450.1,774.2 451.96,773.17 453.83,772.12 455.69,771.05 457.56,769.96 459.42,768.85 461.29,767.71 463.15,766.56 465.02,765.38 466.88,764.18 468.75,762.96 470.62,761.71 472.48,760.45 474.35,759.16 476.21,757.84 478.08,756.51 479.94,755.15 481.81,753.77 483.67,752.36 485.54,750.93 487.4,749.48 489.27,748.01 491.13,746.51 493,744.99 494.86,743.45 496.73,741.89 498.59,740.3 500.46,738.69 502.32,737.06 504.19,735.41 506.05,733.74 507.92,732.04 509.78,730.33 511.65,728.6 513.52,726.84 515.38,725.07 517.25,723.28 519.11,721.48 520.98,719.66 522.84,717.82 524.71,715.97 526.57,714.1 528.44,712.22 530.3,710.33 532.17,708.43 534.03,706.52 535.9,704.6 537.76,702.67 539.63,700.73 541.49,698.79 543.36,696.84 545.22,694.89 547.09,692.94 548.95,690.99 550.82,689.04 552.69,687.09 554.55,685.15 556.42,683.21 558.28,681.28 560.15,679.35 562.01,677.43 563.88,675.53 565.74,673.64 567.61,671.76 569.47,669.89 571.34,668.04 573.2,666.21 575.07,664.4 576.93,662.61 578.8,660.84 580.66,659.09 582.53,657.37 584.39,655.68 586.26,654.01 588.12,652.37 589.99,650.75 591.86,649.17 593.72,647.62 595.59,646.1 597.45,644.62 599.32,643.17 601.18,641.75 603.05,640.37 604.91,639.03 606.78,637.73 608.64,636.46 610.51,635.24 612.37,634.05 614.24,632.91 616.1,631.81 617.97,630.75 619.83,629.73 621.7,628.75 623.56,627.82 625.43,626.93 627.29,626.09 629.16,625.29 631.02,624.54 632.89,623.83 634.76,623.17 636.62,622.56 638.49,621.99 640.35,621.47 642.22,620.99 644.08,620.57 645.95,620.19 647.81,619.85 649.68,619.57 651.54,619.33 653.41,619.14 655.27,619 657.14,618.91 659,618.86 660.87,618.86 662.73,618.91 664.6,619.01 666.46,619.16 668.33,619.35 670.19,619.59 672.06,619.88 673.93,620.22 675.79,620.61 677.66,621.04 679.52,621.52 681.39,622.04 683.25,622.62 685.12,623.24 686.98,623.9 688.85,624.61 690.71,625.37 692.58,626.17 694.44,627.02 696.31,627.91 698.17,628.85 700.04,629.82 701.9,630.85 703.77,631.91 705.63,633.02 707.5,634.17 709.36,635.36 711.23,636.59 713.09,637.85 714.96,639.16 716.83,640.51 718.69,641.89 720.56,643.31 722.42,644.76 724.29,646.25 726.15,647.77 728.02,649.32 729.88,650.91 731.75,652.52 733.61,654.17 735.48,655.84 737.34,657.54 739.21,659.26 741.07,661.01 742.94,662.78 744.8,664.58 746.67,666.39 748.53,668.22 750.4,670.07 752.26,671.94 754.13,673.82 756,675.72 757.86,677.62 759.73,679.54 761.59,681.46 763.46,683.4 765.32,685.34 767.19,687.28 769.05,689.23 770.92,691.18 772.78,693.13 774.65,695.08 776.51,697.03 778.38,698.98 780.24,700.92 782.11,702.85 783.97,704.78 785.84,706.7 787.7,708.62 789.57,710.52 791.43,712.41 793.3,714.28 795.17,716.15 797.03,718 798.9,719.84 800.76,721.66 802.63,723.46 804.49,725.25 806.36,727.02 808.22,728.77 810.09,730.5 811.95,732.21 813.82,733.9 815.68,735.57 817.55,737.22 819.41,738.85 821.28,740.45 823.14,742.04 825.01,743.6 826.87,745.14 828.74,746.66 830.6,748.15 832.47,749.63 834.33,751.07 836.2,752.5 838.07,753.9 839.93,755.28 841.8,756.64 843.66,757.97 845.53,759.28 847.39,760.57 849.26,761.84 851.12,763.08 852.99,764.3 854.85,765.5 856.72,766.67 858.58,767.83 860.45,768.96 862.31,770.07 864.18,771.16 866.04,772.23 867.91,773.27 869.77,774.3 871.64,775.31 873.5,776.29 875.37,777.26 877.24,778.21 879.1,779.14 880.97,780.05 882.83,780.94 884.7,781.81 886.56,782.67 888.43,783.5 890.29,784.32 892.16,785.13 894.02,785.91 895.89,786.68 897.75,787.43 899.62,788.17 901.48,788.89 903.35,789.6 905.21,790.29 907.08,790.97 908.94,791.63 910.81,792.27 912.67,792.91 914.54,793.53 916.41,794.13 918.27,794.72 920.14,795.3 922,795.87 923.87,796.43 925.73,796.97 927.6,797.5 929.46,798.02 931.33,798.53 933.19,799.02 935.06,799.51 936.92,799.98 938.79,800.44 940.65,800.9 942.52,801.34 944.38,801.78 946.25,802.2 948.11,802.61 949.98,803.02 951.84,803.42 953.71,803.8 955.57,804.18 957.44,804.55 959.31,804.91 961.17,805.27 963.04,805.61 964.9,805.95 966.77,806.28 968.63,806.6 970.5,806.92 972.36,807.23 974.23,807.53 976.09,807.82 977.96,808.11 979.82,808.39 981.69,808.67 983.55,808.94 985.42,809.2 987.28,809.46 989.15,809.71 991.01,809.96 992.88,810.2 994.74,810.43 996.61,810.66 998.48,810.88 1000.34,811.1 1002.21,811.32 1004.07,811.52 1005.94,811.73 1007.8,811.93 1009.67,812.12 1011.53,812.31 1013.4,812.5 1015.26,812.68 1017.13,812.86 1018.99,813.04 1020.86,813.21 1022.72,813.37 1024.59,813.53 1026.45,813.69 1028.32,813.85 1030.18,814 1032.05,814.15 1033.91,814.29 1035.78,814.43 1037.65,814.57 1039.51,814.71 1041.38,814.84 1043.24,814.97 1045.11,815.09 1046.97,815.22 1048.84,815.34 1050.7,815.46 1052.57,815.57 1054.43,815.68 1056.3,815.79 1058.16,815.9 1060.03,816.01 1061.89,816.11 1063.76,816.21 1065.62,816.31 1067.49,816.4 1069.35,816.49 1071.22,816.59 1073.08,816.68 1074.95,816.76 1076.81,816.85 1078.68,816.93 1080.55,817.01 1082.41,817.09 1084.28,817.17 1086.14,817.25 1088.01,817.32 1089.87,817.39 1091.74,817.46 1093.6,817.53 1095.47,817.6 1097.33,817.67 1099.2,817.73 1101.06,817.79 1102.93,817.86 1104.79,817.92 1106.66,817.97 1108.52,818.03 1110.39,818.09 1112.25,818.14 1114.12,818.2 1115.98,818.25 1117.85,818.3"/>
<polyline stroke="#7E2F8E" points="187.1,818.65 188.97,818.61 190.83,818.57 192.7,818.52 194.56,818.48 196.43,818.43 198.29,818.38 200.16,818.33 202.02,818.28 203.89,818.23 205.75,818.18 207.62,818.12 209.48,818.07 211.35,818.01 213.21,817.95 215.08,817.89 216.94,817.83 218.81,817.77 220.67,817.71 222.54,817.64 224.4,817.57 226.27,817.5 228.14,817.43 230,817.36 231.87,817.29 233.73,817.22 235.6,817.14 237.46,817.06 239.33,816.98 241.19,816.9 243.06,816.81 244.92,816.73 246.79,816.64 248.65,816.55 250.52,816.46 252.38,816.36 254.25,816.27 256.11,816.17 257.98,816.07 259.84,815.96 261.71,815.86 263.57,815.75 265.44,815.64 267.3,815.52 269.17,815.41 271.04,815.29 272.9,815.17 274.77,815.04 276.63,814.92 278.5,814.79 280.36,814.65 282.23,814.52 284.09,814.38 285.96,814.23 287.82,814.09 289.69,813.94 291.55,813.79 293.42,813.63 295.28,813.47 297.15,813.31 299.01,813.14 300.88,812.97 302.74,812.79 304.61,812.61 306.47,812.43 308.34,812.24 310.21,812.05 312.07,811.85 313.94,811.65 315.8,811.44 317.67,811.23 319.53,811.01 321.4,810.79 323.26,810.57 325.13,810.34 326.99,810.1 328.86,809.86 330.72,809.61 332.59,809.36 334.45,809.1 336.32,808.83 338.18,808.56 340.05,808.28 341.91,808 343.78,807.71 345.64,807.41 347.51,807.1 349.38,806.79 351.24,806.47 353.11,806.15 354.97,805.82 356.84,805.47 358.7,805.13 360.57,804.77 362.43,804.4 364.3,804.03 366.16,803.65 368.03,803.26 369.89,802.86 371.76,802.45 373.62,802.03 375.49,801.6 377.35,801.16 379.22,800.72 381.08,800.26 382.95,799.79 384.81,799.31 386.68,798.82 388.54,798.32 390.41,797.81 392.28,797.29 394.14,796.75 396.01,796.2 397.87,795.64 399.74,795.07 401.6,794.49 403.47,793.89 405.33,793.28 407.2,792.65 409.06,792.01 410.93,791.36 412.79,790.69 414.66,790.01 416.52,789.31 418.39,788.6 420.25,787.87 422.12,787.13 423.98,786.37 425.85,785.59 427.71,784.8 429.58,783.99 431.45,783.16 433.31,782.32 435.18,781.45 437.04,780.57 438.91,779.67 440.77,778.75 442.64,777.82 444.5,776.86 446.37,775.88 448.23,774.89 450.1,773.87 451.96,772.83 453.83,771.78 455.69,770.7 457.56,769.6 459.42,768.48 461.29,767.33 463.15,766.17 465.02,764.98 466.88,763.77 468.75,762.54 470.62,761.29 472.48,760.01 474.35,758.71 476.21,757.39 478.08,756.04 479.94,754.67 481.81,753.28 483.67,751.86 485.54,750.42 487.4,748.96 489.27,747.47 491.13,745.96 493,744.43 494.86,742.87 496.73,741.3 498.59,739.7 500.46,738.07 502.32,736.43 504.19,734.76 506.05,733.07 507.92,731.37 509.78,729.64 511.65,727.89 513.52,726.12 515.38,724.33 517.25,722.53 519.11,720.7 520.98,718.86 522.84,717.01 524.71,715.14 526.57,713.25 528.44,711.35 530.3,709.44 532.17,707.52 534.03,705.58 535.9,703.64 537.76,701.69 539.63,699.73 541.49,697.77 543.36,695.8 545.22,693.82 547.09,691.85 548.95,689.87 550.82,687.89 552.69,685.92 554.55,683.95 556.42,681.98 558.28,680.02 560.15,678.07 562.01,676.12 563.88,674.18 565.74,672.26 567.61,670.35 569.47,668.45 571.34,666.57 573.2,664.71 575.07,662.86 576.93,661.03 578.8,659.23 580.66,657.45 582.53,655.69 584.39,653.95 586.26,652.24 588.12,650.56 589.99,648.91 591.86,647.28 593.72,645.69 595.59,644.13 597.45,642.6 599.32,641.1 601.18,639.64 603.05,638.22 604.91,636.83 606.78,635.47 608.64,634.16 610.51,632.88 612.37,631.64 614.24,630.45 616.1,629.29 617.97,628.17 619.83,627.1 621.7,626.06 623.56,625.07 625.43,624.13 627.29,623.22 629.16,622.36 631.02,621.55 632.89,620.77 634.76,620.05 636.62,619.37 638.49,618.73 640.35,618.14 642.22,617.59 644.08,617.1 645.95,616.64 647.81,616.24 649.68,615.88 651.54,615.56 653.41,615.3 655.27,615.08 657.14,614.9 659,614.78 660.87,614.7 662.73,614.67 664.6,614.68 666.46,614.74 668.33,614.85 670.19,615.01 672.06,615.21 673.93,615.46 675.79,615.75 677.66,616.1 679.52,616.49 681.39,616.92 683.25,617.4 685.12,617.93 686.98,618.5 688.85,619.12 690.71,619.79 692.58,620.5 694.44,621.25 696.31,622.05 698.17,622.9 700.04,623.79 701.9,624.72 703.77,625.69 705.63,626.71 707.5,627.77 709.36,628.87 711.23,630.01 713.09,631.19 714.96,632.42 716.83,633.68 718.69,634.98 720.56,636.32 722.42,637.7 724.29,639.11 726.15,640.56 728.02,642.04 729.88,643.56 731.75,645.11 733.61,646.69 735.48,648.3 737.34,649.94 739.21,651.61 741.07,653.31 742.94,655.04 744.8,656.79 746.67,658.56 748.53,660.36 750.4,662.18 752.26,664.02 754.13,665.88 756,667.75 757.86,669.64 759.73,671.55 761.59,673.47 763.46,675.4 765.32,677.34 767.19,679.29 769.05,681.25 770.92,683.22 772.78,685.19 774.65,687.16 776.51,689.14 778.38,691.11 780.24,693.09 782.11,695.06 783.97,697.03 785.84,699 787.7,700.96 789.57,702.92 791.43,704.86 793.3,706.8 795.17,708.73 797.03,710.64 798.9,712.55 800.76,714.44 802.63,716.31 804.49,718.18 806.36,720.02 808.22,721.85 810.09,723.66 811.95,725.46 813.82,727.23 815.68,728.99 817.55,730.73 819.41,732.44 821.28,734.14 823.14,735.81 825.01,737.46 826.87,739.1 828.74,740.7 830.6,742.29 832.47,743.85 834.33,745.4 836.2,746.91 838.07,748.41 839.93,749.88 841.8,751.33 843.66,752.75 845.53,754.15 847.39,755.53 849.26,756.89 851.12,758.22 852.99,759.53 854.85,760.81 856.72,762.08 858.58,763.32 860.45,764.53 862.31,765.73 864.18,766.9 866.04,768.05 867.91,769.18 869.77,770.29 871.64,771.38 873.5,772.44 875.37,773.49 877.24,774.51 879.1,775.52 880.97,776.5 882.83,777.46 884.7,778.41 886.56,779.33 888.43,780.24 890.29,781.13 892.16,782 894.02,782.85 895.89,783.68 897.75,784.5 899.62,785.3 901.48,786.08 903.35,786.85 905.21,787.6 907.08,788.33 908.94,789.05 910.81,789.75 912.67,790.44 914.54,791.11 916.41,791.77 918.27,792.41 920.14,793.04 922,793.66 923.87,794.26 925.73,794.85 927.6,795.43 929.46,796 931.33,796.55 933.19,797.09 935.06,797.62 936.92,798.13 938.79,798.64 940.65,799.13 942.52,799.61 944.38,800.09 946.25,800.55 948.11,801 949.98,801.44 951.84,801.87 953.71,802.29 955.57,802.71 957.44,803.11 959.31,803.5 961.17,803.89 963.04,804.27 964.9,804.63 966.77,804.99 968.63,805.35 970.5,805.69 972.36,806.03 974.23,806.35 976.09,806.68 977.96,806.99 979.82,807.3 981.69,807.6 983.55,807.89 985.42,808.18 987.28,808.46 989.15,808.73 991.01,809 992.88,809.26 994.74,809.52 996.61,809.77 998.48,810.01 1000.34,810.25 1002.21,810.48 1004.07,810.71 1005.94,810.93 1007.8,811.15 1009.67,811.36 1011.53,811.57 1013.4,811.78 1015.26,811.97 1017.13,812.17 1018.99,812.36 1020.86,812.54 1022.72,812.72 1024.59,812.9 1026.45,813.07 1028.32,813.24 1030.18,813.41 1032.05,813.57 1033.91,813.73 1035.78,813.88 1037.65,814.03 1039.51,814.18 1041.38,814.32 1043.24,814.47 1045.11,814.6 1046.97,814.74 1048.84,814.87 1050.7,815 1052.57,815.12 1054.43,815.25 1056.3,815.37 1058.16,815.48 1060.03,815.6 1061.89,815.71 1063.76,815.82 1065.62,815.92 1067.49,816.03 1069.35,816.13 1071.22,816.23 1073.08,816.33 1074.95,816.42 1076.81,816.52 1078.68,816.61 1080.55,816.7 1082.41,816.78 1084.28,816.87 1086.14,816.95 1088.01,817.03 1089.87,817.11 1091.74,817.19 1093.6,817.26 1095.47,817.34 1097.33,817.41 1099.2,817.48 1101.06,817.55 1102.93,817.62 1104.79,817.68 1106.66,817.75 1108.52,817.81 1110.39,817.87 1112.25,817.93 1114.12,817.99 1115.98,818.05 1117.85,818.1"/>
<polyline stroke="#77AC30" points="187.1,818.64 188.97,818.6 190.83,818.56 192.7,818.51 194.56,818.46 196.43,818.42 198.29,818.37 200.16,818.32 202.02,818.27 203.89,818.22 205.75,818.16 207.62,818.11 209.48,818.05 211.35,817.99 213.21,817.94 215.08,817.88 216.94,817.82 218.81,817.75 220.67,817.69 222.54,817.62 224.4,817.56 226.27,817.49 228.14,817.42 230,817.34 231.87,817.27 233.73,817.2 235.6,817.12 237.46,817.04 239.33,816.96 241.19,816.88 243.06,816.79 244.92,816.71 246.79,816.62 248.65,816.53 250.52,816.43 252.38,816.34 254.25,816.24 256.11,816.14 257.98,816.04 259.84,815.94 261.71,815.83 263.57,815.72 265.44,815.61 267.3,815.5 269.17,815.38 271.04,815.26 272.9,815.14 274.77,815.01 276.63,814.88 278.5,814.75 280.36,814.62 282.23,814.48 284.09,814.34 285.96,814.2 287.82,814.05 289.69,813.9 291.55,813.75 293.42,813.59 295.28,813.43 297.15,813.26 299.01,813.09 300.88,812.92 302.74,812.74 304.61,812.56 306.47,812.38 308.34,812.19 310.21,812 312.07,811.8 313.94,811.6 315.8,811.39 317.67,811.18 319.53,810.96 321.4,810.74 323.26,810.51 325.13,810.28 326.99,810.04 328.86,809.79 330.72,809.54 332.59,809.29 334.45,809.03 336.32,808.76 338.18,808.49 340.05,808.21 341.91,807.92 343.78,807.63 345.64,807.33 347.51,807.03 349.38,806.71 351.24,806.39 353.11,806.06 354.97,805.73 356.84,805.38 358.7,805.03 360.57,804.67 362.43,804.31 364.3,803.93 366.16,803.55 368.03,803.15 369.89,802.75 371.76,802.34 373.62,801.92 375.49,801.49 377.35,801.05 379.22,800.6 381.08,800.14 382.95,799.67 384.81,799.18 386.68,798.69 388.54,798.19 390.41,797.67 392.28,797.15 394.14,796.61 396.01,796.06 397.87,795.49 399.74,794.92 401.6,794.33 403.47,793.73 405.33,793.11 407.2,792.48 409.06,791.84 410.93,791.18 412.79,790.51 414.66,789.83 416.52,789.12 418.39,788.41 420.25,787.67 422.12,786.93 423.98,786.16 425.85,785.38 427.71,784.58 429.58,783.77 431.45,782.93 433.31,782.08 435.18,781.22 437.04,780.33 438.91,779.42 440.77,778.5 442.64,777.56 444.5,776.59 446.37,775.61 448.23,774.61 450.1,773.59 451.96,772.54 453.83,771.48 455.69,770.39 457.56,769.29 459.42,768.16 461.29,767.01 463.15,765.83 465.02,764.64 466.88,763.42 468.75,762.18 470.62,760.92 472.48,759.63 474.35,758.33 476.21,756.99 478.08,755.64 479.94,754.26 481.81,752.86 483.67,751.43 485.54,749.98 487.4,748.51 489.27,747.01 491.13,745.49 493,743.95 494.86,742.38 496.73,740.79 498.59,739.18 500.46,737.54 502.32,735.89 504.19,734.21 506.05,732.51 507.92,730.79 509.78,729.04 511.65,727.28 513.52,725.5 515.38,723.7 517.25,721.88 519.11,720.04 520.98,718.18 522.84,716.31 524.71,714.42 526.57,712.52 528.44,710.6 530.3,708.68 532.17,706.74 534.03,704.78 535.9,702.82 537.76,700.85 539.63,698.87 541.49,696.89 543.36,694.9 545.22,692.9 547.09,690.91 548.95,688.91 550.82,686.91 552.69,684.91 554.55,682.92 556.42,680.93 558.28,678.94 560.15,676.96 562.01,674.99 563.88,673.03 565.74,671.08 567.61,669.14 569.47,667.22 571.34,665.31 573.2,663.41 575.07,661.54 576.93,659.68 578.8,657.85 580.66,656.03 582.53,654.24 584.39,652.47 586.26,650.73 588.12,649.01 589.99,647.32 591.86,645.66 593.72,644.03 595.59,642.43 597.45,640.87 599.32,639.33 601.18,637.83 603.05,636.36 604.91,634.93 606.78,633.53 608.64,632.18 610.51,630.85 612.37,629.57 614.24,628.33 616.1,627.12 617.97,625.96 619.83,624.83 621.7,623.75 623.56,622.71 625.43,621.71 627.29,620.75 629.16,619.84 631.02,618.97 632.89,618.14 634.76,617.35 636.62,616.61 638.49,615.92 640.35,615.27 642.22,614.66 644.08,614.1 645.95,613.58 647.81,613.11 649.68,612.69 651.54,612.3 653.41,611.97 655.27,611.68 657.14,611.44 659,611.24 660.87,611.09 662.73,610.98 664.6,610.92 666.46,610.91 668.33,610.94 670.19,611.02 672.06,611.15 673.93,611.32 675.79,611.53 677.66,611.8 679.52,612.1 681.39,612.46 683.25,612.86 685.12,613.3 686.98,613.79 688.85,614.33 690.71,614.91 692.58,615.53 694.44,616.2 696.31,616.92 698.17,617.67 700.04,618.48 701.9,619.32 703.77,620.21 705.63,621.14 707.5,622.12 709.36,623.14 711.23,624.2 713.09,625.3 714.96,626.44 716.83,627.62 718.69,628.84 720.56,630.1 722.42,631.4 724.29,632.74 726.15,634.11 728.02,635.52 729.88,636.97 731.75,638.45 733.61,639.97 735.48,641.51 737.34,643.1 739.21,644.71 741.07,646.35 742.94,648.02 744.8,649.72 746.67,651.45 748.53,653.2 750.4,654.98 752.26,656.78 754.13,658.61 756,660.45 757.86,662.32 759.73,664.2 761.59,666.1 763.46,668.02 765.32,669.95 767.19,671.89 769.05,673.85 770.92,675.81 772.78,677.79 774.65,679.77 776.51,681.76 778.38,683.75 780.24,685.75 782.11,687.74 783.97,689.74 785.84,691.74 787.7,693.74 789.57,695.73 791.43,697.72 793.3,699.7 795.17,701.67 797.03,703.64 798.9,705.6 800.76,707.54 802.63,709.48 804.49,711.4 806.36,713.31 808.22,715.21 810.09,717.09 811.95,718.96 813.82,720.8 815.68,722.64 817.55,724.45 819.41,726.24 821.28,728.02 823.14,729.77 825.01,731.5 826.87,733.22 828.74,734.91 830.6,736.58 832.47,738.23 834.33,739.85 836.2,741.46 838.07,743.04 839.93,744.59 841.8,746.13 843.66,747.64 845.53,749.12 847.39,750.59 849.26,752.03 851.12,753.44 852.99,754.84 854.85,756.2 856.72,757.55 858.58,758.87 860.45,760.17 862.31,761.45 864.18,762.7 866.04,763.93 867.91,765.14 869.77,766.33 871.64,767.49 873.5,768.63 875.37,769.75 877.24,770.85 879.1,771.92 880.97,772.98 882.83,774.01 884.7,775.03 886.56,776.02 888.43,777 890.29,777.95 892.16,778.89 894.02,779.8 895.89,780.7 897.75,781.58 899.62,782.44 901.48,783.28 903.35,784.11 905.21,784.92 907.08,785.71 908.94,786.48 910.81,787.24 912.67,787.98 914.54,788.71 916.41,789.42 918.27,790.11 920.14,790.79 922,791.46 923.87,792.11 925.73,792.75 927.6,793.37 929.46,793.98 931.33,794.58 933.19,795.16 935.06,795.73 936.92,796.29 938.79,796.83 940.65,797.37 942.52,797.89 944.38,798.4 946.25,798.9 948.11,799.39 949.98,799.86 951.84,800.33 953.71,800.79 955.57,801.23 957.44,801.67 959.31,802.1 961.17,802.51 963.04,802.92 964.9,803.32 966.77,803.71 968.63,804.09 970.5,804.46 972.36,804.83 974.23,805.18 976.09,805.53 977.96,805.87 979.82,806.2 981.69,806.53 983.55,806.84 985.42,807.15 987.28,807.46 989.15,807.75 991.01,808.04 992.88,808.33 994.74,808.6 996.61,808.87 998.48,809.14 1000.34,809.4 1002.21,809.65 1004.07,809.9 1005.94,810.14 1007.8,810.37 1009.67,810.6 1011.53,810.83 1013.4,811.05 1015.26,811.26 1017.13,811.47 1018.99,811.68 1020.86,811.88 1022.72,812.08 1024.59,812.27 1026.45,812.46 1028.32,812.64 1030.18,812.82 1032.05,812.99 1033.91,813.16 1035.78,813.33 1037.65,813.5 1039.51,813.65 1041.38,813.81 1043.24,813.96 1045.11,814.11 1046.97,814.26 1048.84,814.4 1050.7,814.54 1052.57,814.67 1054.43,814.81 1056.3,814.94 1058.16,815.06 1060.03,815.19 1061.89,815.31 1063.76,815.43 1065.62,815.54 1067.49,815.66 1069.35,815.77 1071.22,815.87 1073.08,815.98 1074.95,816.08 1076.81,816.18 1078.68,816.28 1080.55,816.38 1082.41,816.47 1084.28,816.56 1086.14,816.65 1088.01,816.74 1089.87,816.83 1091.74,816.91 1093.6,816.99 1095.47,817.07 1097.33,817.15 1099.2,817.23 1101.06,817.3 1102.93,817.37 1104.79,817.45 1106.66,817.52 1108.52,817.58 1110.39,817.65 1112.25,817.72 1114.12,817.78 1115.98,817.84 1117.85,817.9"/>
<polyline stroke="#4DBEEE" points="187.1,818.63 188.97,818.59 190.83,818.55 192.7,818.5 194.56,818.45 196.43,818.41 198.29,818.36 200.16,818.31 202.02,818.26 203.89,818.2 205.75,818.15 207.62,818.1 209.48,818.04 211.35,817.98 213.21,817.92 215.08,817.86 216.94,817.8 218.81,817.74 220.67,817.67 222.54,817.61 224.4,817.54 226.27,817.47 228.14,817.4 230,817.33 231.87,817.25 233.73,817.18 235.6,817.1 237.46,817.02 239.33,816.94 241.19,816.86 243.06,816.77 244.92,816.69 246.79,816.6 248.65,816.51 250.52,816.41 252.38,816.32 254.25,816.22 256.11,816.12 257.98,816.02 259.84,815.91 261.71,815.81 263.57,815.7 265.44,815.58 267.3,815.47 269.17,815.35 271.04,815.23 272.9,815.11 274.77,814.98 276.63,814.85 278.5,814.72 280.36,814.59 282.23,814.45 284.09,814.31 285.96,814.17 287.82,814.02 289.69,813.87 291.55,813.71 293.42,813.55 295.28,813.39 297.15,813.23 299.01,813.06 300.88,812.88 302.74,812.7 304.61,812.52 306.47,812.34 308.34,812.15 310.21,811.95 312.07,811.75 313.94,811.55 315.8,811.34 317.67,811.13 319.53,810.91 321.4,810.69 323.26,810.46 325.13,810.22 326.99,809.98 328.86,809.74 330.72,809.49 332.59,809.23 334.45,808.97 336.32,808.7 338.18,808.43 340.05,808.15 341.91,807.86 343.78,807.56 345.64,807.26 347.51,806.96 349.38,806.64 351.24,806.32 353.11,805.99 354.97,805.65 356.84,805.31 358.7,804.95 360.57,804.59 362.43,804.22 364.3,803.85 366.16,803.46 368.03,803.06 369.89,802.66 371.76,802.25 373.62,801.82 375.49,801.39 377.35,800.95 379.22,800.5 381.08,800.03 382.95,799.56 384.81,799.08 386.68,798.58 388.54,798.07 390.41,797.56 392.28,797.03 394.14,796.48 396.01,795.93 397.87,795.36 399.74,794.79 401.6,794.19 403.47,793.59 405.33,792.97 407.2,792.34 409.06,791.69 410.93,791.03 412.79,790.36 414.66,789.67 416.52,788.96 418.39,788.24 420.25,787.5 422.12,786.75 423.98,785.98 425.85,785.2 427.71,784.4 429.58,783.58 431.45,782.74 433.31,781.88 435.18,781.01 437.04,780.12 438.91,779.21 440.77,778.28 442.64,777.33 444.5,776.36 446.37,775.38 448.23,774.37 450.1,773.34 451.96,772.29 453.83,771.22 455.69,770.13 457.56,769.02 459.42,767.88 461.29,766.72 463.15,765.55 465.02,764.34 466.88,763.12 468.75,761.87 470.62,760.6 472.48,759.31 474.35,757.99 476.21,756.65 478.08,755.29 479.94,753.9 481.81,752.49 483.67,751.06 485.54,749.6 487.4,748.12 489.27,746.61 491.13,745.08 493,743.53 494.86,741.95 496.73,740.35 498.59,738.73 500.46,737.09 502.32,735.42 504.19,733.73 506.05,732.02 507.92,730.28 509.78,728.53 511.65,726.75 513.52,724.96 515.38,723.14 517.25,721.31 519.11,719.46 520.98,717.59 522.84,715.71 524.71,713.8 526.57,711.89 528.44,709.96 530.3,708.01 532.17,706.06 534.03,704.09 535.9,702.11 537.76,700.12 539.63,698.13 541.49,696.13 543.36,694.12 545.22,692.11 547.09,690.09 548.95,688.08 550.82,686.06 552.69,684.04 554.55,682.03 556.42,680.01 558.28,678.01 560.15,676.01 562.01,674.01 563.88,672.03 565.74,670.06 567.61,668.09 569.47,666.15 571.34,664.21 573.2,662.29 575.07,660.39 576.93,658.51 578.8,656.64 580.66,654.8 582.53,652.98 584.39,651.18 586.26,649.41 588.12,647.67 589.99,645.95 591.86,644.26 593.72,642.59 595.59,640.96 597.45,639.36 599.32,637.79 601.18,636.25 603.05,634.75 604.91,633.28 606.78,631.85 608.64,630.45 610.51,629.09 612.37,627.77 614.24,626.48 616.1,625.24 617.97,624.03 619.83,622.86 621.7,621.74 623.56,620.65 625.43,619.61 627.29,618.6 629.16,617.64 631.02,616.72 632.89,615.84 634.76,615.01 636.62,614.22 638.49,613.47 640.35,612.76 642.22,612.1 644.08,611.49 645.95,610.91 647.81,610.39 649.68,609.9 651.54,609.46 653.41,609.07 655.27,608.72 657.14,608.41 659,608.15 660.87,607.93 662.73,607.76 664.6,607.64 666.46,607.56 668.33,607.52 670.19,607.53 672.06,607.59 673.93,607.69 675.79,607.83 677.66,608.02 679.52,608.26 681.39,608.54 683.25,608.86 685.12,609.23 686.98,609.64 688.85,610.1 690.71,610.61 692.58,611.15 694.44,611.74 696.31,612.38 698.17,613.06 700.04,613.78 701.9,614.55 703.77,615.36 705.63,616.21 707.5,617.11 709.36,618.04 711.23,619.02 713.09,620.05 714.96,621.11 716.83,622.21 718.69,623.36 720.56,624.54 722.42,625.76 724.29,627.03 726.15,628.33 728.02,629.67 729.88,631.04 731.75,632.46 733.61,633.9 735.48,635.39 737.34,636.9 739.21,638.46 741.07,640.04 742.94,641.65 744.8,643.3 746.67,644.97 748.53,646.68 750.4,648.41 752.26,650.16 754.13,651.95 756,653.75 757.86,655.58 759.73,657.44 761.59,659.31 763.46,661.2 765.32,663.11 767.19,665.03 769.05,666.97 770.92,668.93 772.78,670.9 774.65,672.87 776.51,674.86 778.38,676.86 780.24,678.86 782.11,680.87 783.97,682.88 785.84,684.9 787.7,686.92 789.57,688.94 791.43,690.95 793.3,692.97 795.17,694.98 797.03,696.98 798.9,698.98 800.76,700.97 802.63,702.96 804.49,704.93 806.36,706.89 808.22,708.84 810.09,710.78 811.95,712.71 813.82,714.62 815.68,716.51 817.55,718.39 819.41,720.25 821.28,722.09 823.14,723.92 825.01,725.73 826.87,727.51 828.74,729.28 830.6,731.02 832.47,732.75 834.33,734.45 836.2,736.13 838.07,737.79 839.93,739.42 841.8,741.04 843.66,742.63 845.53,744.19 847.39,745.74 849.26,747.26 851.12,748.75 852.99,750.22 854.85,751.67 856.72,753.1 858.58,754.5 860.45,755.87 862.31,757.23 864.18,758.56 866.04,759.86 867.91,761.15 869.77,762.41 871.64,763.64 873.5,764.86 875.37,766.05 877.24,767.22 879.1,768.37 880.97,769.49 882.83,770.6 884.7,771.68 886.56,772.74 888.43,773.78 890.29,774.8 892.16,775.8 894.02,776.78 895.89,777.74 897.75,778.68 899.62,779.6 901.48,780.5 903.35,781.39 905.21,782.25 907.08,783.1 908.94,783.93 910.81,784.74 912.67,785.53 914.54,786.31 916.41,787.07 918.27,787.82 920.14,788.55 922,789.26 923.87,789.96 925.73,790.65 927.6,791.31 929.46,791.97 931.33,792.61 933.19,793.24 935.06,793.85 936.92,794.45 938.79,795.03 940.65,795.61 942.52,796.17 944.38,796.72 946.25,797.25 948.11,797.78 949.98,798.29 951.84,798.79 953.71,799.28 955.57,799.76 957.44,800.23 959.31,800.69 961.17,801.14 963.04,801.58 964.9,802.01 966.77,802.42 968.63,802.83 970.5,803.23 972.36,803.63 974.23,804.01 976.09,804.38 977.96,804.75 979.82,805.11 981.69,805.46 983.55,805.8 985.42,806.13 987.28,806.46 989.15,806.78 991.01,807.09 992.88,807.39 994.74,807.69 996.61,807.98 998.48,808.27 1000.34,808.54 1002.21,808.82 1004.07,809.08 1005.94,809.34 1007.8,809.6 1009.67,809.84 1011.53,810.09 1013.4,810.32 1015.26,810.56 1017.13,810.78 1018.99,811 1020.86,811.22 1022.72,811.43 1024.59,811.64 1026.45,811.84 1028.32,812.04 1030.18,812.23 1032.05,812.42 1033.91,812.6 1035.78,812.78 1037.65,812.96 1039.51,813.13 1041.38,813.3 1043.24,813.46 1045.11,813.62 1046.97,813.78 1048.84,813.93 1050.7,814.08 1052.57,814.23 1054.43,814.37 1056.3,814.51 1058.16,814.65 1060.03,814.78 1061.89,814.91 1063.76,815.04 1065.62,815.16 1067.49,815.28 1069.35,815.4 1071.22,815.52 1073.08,815.63 1074.95,815.74 1076.81,815.85 1078.68,815.96 1080.55,816.06 1082.41,816.16 1084.28,816.26 1086.14,816.36 1088.01,816.45 1089.87,816.54 1091.74,816.63 1093.6,816.72 1095.47,816.81 1097.33,816.89 1099.2,816.98 1101.06,817.06 1102.93,817.13 1104.79,817.21 1106.66,817.29 1108.52,817.36 1110.39,817.43 1112.25,817.5 1114.12,817.57 1115.98,817.64 1117.85,817.7"/>
<polyline stroke="#A2142F" points="187.1,818.63 188.97,818.58 190.83,818.54 192.7,818.49 194.56,818.44 196.43,818.4 198.29,818.35 200.16,818.3 202.02,818.25 203.89,818.19 205.75,818.14 207.62,818.08 209.48,818.03 211.35,817.97 213.21,817.91 215.08,817.85 216.94,817.79 218.81,817.73 220.67,817.66 222.54,817.6 224.4,817.53 226.27,817.46 228.14,817.39 230,817.31 231.87,817.24 233.73,817.16 235.6,817.09 237.46,817.01 239.33,816.92 241.19,816.84 243.06,816.76 244.92,816.67 246.79,816.58 248.65,816.49 250.52,816.39 252.38,816.3 254.25,816.2 256.11,816.1 257.98,816 259.84,815.89 261.71,815.78 263.57,815.67 265.44,815.56 267.3,815.45 269.17,815.33 271.04,815.21 272.9,815.09 274.77,814.96 276.63,814.83 278.5,814.7 280.36,814.56 282.23,814.42 284.09,814.28 285.96,814.14 287.82,813.99 289.69,813.84 291.55,813.68 293.42,813.52 295.28,813.36 297.15,813.19 299.01,813.02 300.88,812.85 302.74,812.67 304.61,812.49 306.47,812.3 308.34,812.11 310.21,811.91 312.07,811.71 313.94,811.51 315.8,811.3 317.67,811.09 319.53,810.87 321.4,810.64 323.26,810.41 325.13,810.18 326.99,809.94 328.86,809.69 330.72,809.44 332.59,809.18 334.45,808.92 336.32,808.65 338.18,808.37 340.05,808.09 341.91,807.8 343.78,807.51 345.64,807.2 347.51,806.9 349.38,806.58 351.24,806.26 353.11,805.92 354.97,805.59 356.84,805.24 358.7,804.88 360.57,804.52 362.43,804.15 364.3,803.77 366.16,803.38 368.03,802.99 369.89,802.58 371.76,802.16 373.62,801.74 375.49,801.31 377.35,800.86 379.22,800.41 381.08,799.94 382.95,799.47 384.81,798.98 386.68,798.48 388.54,797.97 390.41,797.45 392.28,796.92 394.14,796.38 396.01,795.82 397.87,795.25 399.74,794.67 401.6,794.08 403.47,793.47 405.33,792.85 407.2,792.21 409.06,791.56 410.93,790.9 412.79,790.22 414.66,789.53 416.52,788.82 418.39,788.1 420.25,787.36 422.12,786.6 423.98,785.83 425.85,785.04 427.71,784.23 429.58,783.41 431.45,782.57 433.31,781.71 435.18,780.83 437.04,779.94 438.91,779.02 440.77,778.09 442.64,777.14 444.5,776.16 446.37,775.17 448.23,774.16 450.1,773.12 451.96,772.07 453.83,770.99 455.69,769.9 457.56,768.78 459.42,767.64 461.29,766.48 463.15,765.29 465.02,764.08 466.88,762.85 468.75,761.6 470.62,760.32 472.48,759.03 474.35,757.7 476.21,756.36 478.08,754.99 479.94,753.59 481.81,752.17 483.67,750.73 485.54,749.26 487.4,747.77 489.27,746.26 491.13,744.72 493,743.16 494.86,741.58 496.73,739.97 498.59,738.34 500.46,736.68 502.32,735.01 504.19,733.31 506.05,731.59 507.92,729.84 509.78,728.08 511.65,726.29 513.52,724.49 515.38,722.66 517.25,720.82 519.11,718.95 520.98,717.07 522.84,715.18 524.71,713.26 526.57,711.33 528.44,709.39 530.3,707.43 532.17,705.46 534.03,703.48 535.9,701.49 537.76,699.49 539.63,697.48 541.49,695.46 543.36,693.44 545.22,691.41 547.09,689.38 548.95,687.35 550.82,685.31 552.69,683.28 554.55,681.24 556.42,679.22 558.28,677.19 560.15,675.17 562.01,673.16 563.88,671.15 565.74,669.16 567.61,667.18 569.47,665.21 571.34,663.25 573.2,661.31 575.07,659.39 576.93,657.48 578.8,655.59 580.66,653.73 582.53,651.88 584.39,650.06 586.26,648.26 588.12,646.49 589.99,644.74 591.86,643.02 593.72,641.33 595.59,639.67 597.45,638.04 599.32,636.44 601.18,634.87 603.05,633.34 604.91,631.84 606.78,630.37 608.64,628.94 610.51,627.55 612.37,626.19 614.24,624.87 616.1,623.59 617.97,622.34 619.83,621.14 621.7,619.97 623.56,618.85 625.43,617.76 627.29,616.72 629.16,615.71 631.02,614.75 632.89,613.83 634.76,612.95 636.62,612.11 638.49,611.32 640.35,610.57 642.22,609.86 644.08,609.19 645.95,608.57 647.81,607.99 649.68,607.45 651.54,606.96 653.41,606.51 655.27,606.11 657.14,605.75 659,605.43 660.87,605.16 662.73,604.93 664.6,604.74 666.46,604.6 668.33,604.5 670.19,604.45 672.06,604.44 673.93,604.48 675.79,604.56 677.66,604.68 679.52,604.85 681.39,605.07 683.25,605.32 685.12,605.62 686.98,605.97 688.85,606.36 690.71,606.79 692.58,607.26 694.44,607.78 696.31,608.35 698.17,608.95 700.04,609.6 701.9,610.3 703.77,611.03 705.63,611.81 707.5,612.63 709.36,613.5 711.23,614.4 713.09,615.35 714.96,616.34 716.83,617.37 718.69,618.44 720.56,619.55 722.42,620.7 724.29,621.89 726.15,623.12 728.02,624.39 729.88,625.7 731.75,627.04 733.61,628.42 735.48,629.84 737.34,631.29 739.21,632.78 741.07,634.3 742.94,635.86 744.8,637.44 746.67,639.06 748.53,640.71 750.4,642.39 752.26,644.1 754.13,645.84 756,647.6 757.86,649.39 759.73,651.2 761.59,653.04 763.46,654.9 765.32,656.78 767.19,658.68 769.05,660.59 770.92,662.53 772.78,664.48 774.65,666.44 776.51,668.42 778.38,670.41 780.24,672.41 782.11,674.42 783.97,676.44 785.84,678.46 787.7,680.49 789.57,682.52 791.43,684.56 793.3,686.59 795.17,688.63 797.03,690.66 798.9,692.69 800.76,694.71 802.63,696.73 804.49,698.74 806.36,700.75 808.22,702.74 810.09,704.73 811.95,706.7 813.82,708.67 815.68,710.61 817.55,712.55 819.41,714.47 821.28,716.37 823.14,718.26 825.01,720.13 826.87,721.98 828.74,723.81 830.6,725.62 832.47,727.42 834.33,729.19 836.2,730.94 838.07,732.67 839.93,734.38 841.8,736.06 843.66,737.73 845.53,739.37 847.39,740.98 849.26,742.58 851.12,744.15 852.99,745.69 854.85,747.22 856.72,748.71 858.58,750.19 860.45,751.64 862.31,753.07 864.18,754.47 866.04,755.85 867.91,757.21 869.77,758.54 871.64,759.85 873.5,761.13 875.37,762.39 877.24,763.63 879.1,764.85 880.97,766.04 882.83,767.21 884.7,768.36 886.56,769.49 888.43,770.59 890.29,771.67 892.16,772.74 894.02,773.78 895.89,774.8 897.75,775.8 899.62,776.78 901.48,777.74 903.35,778.68 905.21,779.6 907.08,780.5 908.94,781.39 910.81,782.25 912.67,783.1 914.54,783.93 916.41,784.74 918.27,785.54 920.14,786.31 922,787.08 923.87,787.82 925.73,788.55 927.6,789.27 929.46,789.97 931.33,790.65 933.19,791.32 935.06,791.97 936.92,792.61 938.79,793.24 940.65,793.85 942.52,794.45 944.38,795.04 946.25,795.61 948.11,796.17 949.98,796.72 951.84,797.26 953.71,797.78 955.57,798.29 957.44,798.8 959.31,799.29 961.17,799.77 963.04,800.23 964.9,800.69 966.77,801.14 968.63,801.58 970.5,802.01 972.36,802.43 974.23,802.84 976.09,803.24 977.96,803.63 979.82,804.01 981.69,804.39 983.55,804.75 985.42,805.11 987.28,805.46 989.15,805.8 991.01,806.13 992.88,806.46 994.74,806.78 996.61,807.09 998.48,807.4 1000.34,807.69 1002.21,807.98 1004.07,808.27 1005.94,808.55 1007.8,808.82 1009.67,809.08 1011.53,809.34 1013.4,809.6 1015.26,809.85 1017.13,810.09 1018.99,810.33 1020.86,810.56 1022.72,810.78 1024.59,811 1026.45,811.22 1028.32,811.43 1030.18,811.64 1032.05,811.84 1033.91,812.04 1035.78,812.23 1037.65,812.42 1039.51,812.6 1041.38,812.78 1043.24,812.96 1045.11,813.13 1046.97,813.3 1048.84,813.46 1050.7,813.62 1052.57,813.78 1054.43,813.93 1056.3,814.08 1058.16,814.23 1060.03,814.37 1061.89,814.51 1063.76,814.65 1065.62,814.78 1067.49,814.91 1069.35,815.04 1071.22,815.16 1073.08,815.28 1074.95,815.4 1076.81,815.52 1078.68,815.63 1080.55,815.74 1082.41,815.85 1084.28,815.96 1086.14,816.06 1088.01,816.16 1089.87,816.26 1091.74,816.36 1093.6,816.45 1095.47,816.55 1097.33,816.64 1099.2,816.72 1101.06,816.81 1102.93,816.89 1104.79,816.98 1106.66,817.06 1108.52,817.14 1110.39,817.21 1112.25,817.29 1114.12,817.36 1115.98,817.43 1117.85,817.5"/>
</g>
<g font-size="21.5" fill="#666666" text-anchor="end">
<text x="178.6" y="121.4">25</text>
<text x="178.6" y="193.8">20</text>
<text x="178.6" y="266.8">15</text>
<text x="178.6" y="338.8">10</text>
<text x="178.6" y="412.1">5</text>
<text x="178.6" y="483.8">0</text>
<text x="178.6" y="513.9">90</text>
<text x="178.6" y="618.7">60</text>
<text x="178.6" y="723.7">30</text>
<text x="178.6" y="828.7">0</text>
</g>
<g font-size="21.5" fill="#666666" text-anchor="middle">
<text x="186.5" y="860">10<tspan font-size="16.5" dy="-9.6">-2</tspan></text>
<text x="372.6" y="860">10<tspan font-size="16.5" dy="-9.6">-1</tspan></text>
<text x="558.8" y="860">10<tspan font-size="16.5" dy="-9.6">0</tspan></text>
<text x="744.9" y="860">10<tspan font-size="16.5" dy="-9.6">1</tspan></text>
<text x="931.1" y="860">10<tspan font-size="16.5" dy="-9.6">2</tspan></text>
<text x="1117.2" y="860">10<tspan font-size="16.5" dy="-9.6">3</tspan></text>
</g>
<text x="554.2" y="889.6" font-size="22.8" fill="#262626" xml:space="preserve"><tspan letter-spacing="0.5">Frequency  </tspan><tspan dx="-2.3" letter-spacing="0.85">(rad/s)</tspan></text>
<text transform="translate(140.6,378.3) rotate(-90)" font-size="22.8" fill="#262626" xml:space="preserve"><tspan letter-spacing="1.35">Magnitude </tspan><tspan dx="-4.2" letter-spacing="0.75">(dB)</tspan></text>
<text transform="translate(140.6,725.8) rotate(-90)" font-size="22.8" fill="#262626" xml:space="preserve"><tspan letter-spacing="0.1">Phase </tspan><tspan dx="-0.6" letter-spacing="0.6">(deg)</tspan></text>
<text x="571.7" y="90" font-family="'DejaVu Sans Condensed', 'Liberation Sans', sans-serif" font-size="22.3" font-weight="bold" fill="#000000" textLength="156.6" lengthAdjust="spacing">Lead network</text>
</svg>
</body></html>
